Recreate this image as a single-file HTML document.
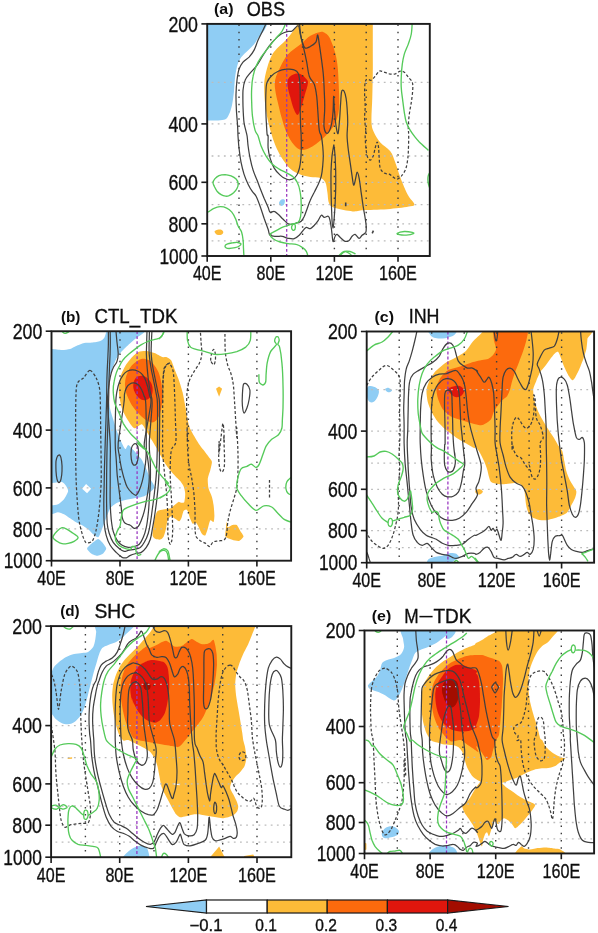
<!DOCTYPE html>
<html><head><meta charset="utf-8"><title>Figure</title>
<style>html,body{margin:0;padding:0;background:#fff}body{width:598px;height:933px;overflow:hidden;font-family:"Liberation Sans",sans-serif}</style></head>
<body>
<svg width="598" height="933" viewBox="0 0 598 933" style="display:block;font-family:'Liberation Sans',sans-serif;will-change:transform">
<rect width="598" height="933" fill="#fff"/>
<defs>
<clipPath id="cpa"><rect x="207.2" y="23.9" width="222.6" height="232.1"/></clipPath>
<clipPath id="cpb"><rect x="51.5" y="331.2" width="239.6" height="229.5"/></clipPath>
<clipPath id="cpc"><rect x="366.7" y="331.5" width="227.4" height="231.2"/></clipPath>
<clipPath id="cpd"><rect x="51.1" y="626.1" width="240.2" height="231.1"/></clipPath>
<clipPath id="cpe"><rect x="364.5" y="630.5" width="229.6" height="223.0"/></clipPath>
<filter id="soft" x="0" y="0" width="598" height="933" filterUnits="userSpaceOnUse"><feGaussianBlur stdDeviation="0.4"/></filter>
</defs>
<g filter="url(#soft)">
<g clip-path="url(#cpa)">
<path d="M200.0 19.5 C211.4 2.6 257.0 18.7 268.2 19.5 C279.4 20.3 267.9 22.6 267.2 24.5 C266.5 26.4 265.3 28.7 264.0 30.8 C262.6 32.9 260.6 34.7 258.9 37.0 C257.3 39.3 255.8 42.3 253.9 44.6 C252.0 46.9 249.7 48.8 247.7 50.8 C245.6 52.9 243.1 54.8 241.4 57.1 C239.7 59.4 238.7 61.3 237.6 64.6 C236.6 68.0 235.7 72.6 235.1 77.2 C234.5 81.8 234.4 87.6 233.9 92.2 C233.4 96.8 232.9 101.0 232.1 104.8 C231.3 108.5 230.2 112.3 228.8 114.8 C227.5 117.3 227.4 118.9 223.8 119.8 C220.3 120.8 211.5 120.4 207.5 120.6 C203.6 120.7 201.3 137.4 200.0 120.6 C198.7 103.7 188.6 36.3 200.0 19.5Z" fill="#8fcdf4"/>
<path d="M298.3 19.5 C291.2 20.6 298.4 22.2 297.3 24.5 C296.2 26.8 293.8 30.4 291.5 33.3 C289.3 36.2 286.5 39.4 284.0 42.1 C281.5 44.7 278.6 46.8 276.5 49.1 C274.4 51.4 272.9 53.1 271.5 55.9 C270.0 58.7 268.8 62.1 267.7 65.9 C266.6 69.7 265.3 74.5 264.7 78.4 C264.1 82.4 264.1 85.3 264.2 89.7 C264.3 94.1 264.6 99.8 265.2 104.8 C265.8 109.8 266.8 115.2 267.7 119.8 C268.7 124.4 269.7 128.2 271.0 132.4 C272.2 136.5 273.5 140.7 275.2 144.9 C277.0 149.1 279.0 153.5 281.5 157.4 C284.0 161.4 287.2 165.9 290.3 168.7 C293.4 171.6 297.0 173.1 300.3 174.5 C303.7 175.9 307.0 176.4 310.4 177.0 C313.7 177.6 317.9 177.1 320.4 178.0 C322.9 178.9 324.2 180.1 325.4 182.5 C326.6 184.9 326.8 189.0 327.4 192.6 C328.0 196.1 327.8 201.2 329.2 203.8 C330.5 206.4 331.5 206.9 335.4 208.1 C339.4 209.4 347.7 211.0 352.7 211.4 C357.7 211.7 359.0 210.5 365.2 210.1 C371.5 209.7 382.8 209.5 390.3 208.9 C397.9 208.2 406.4 207.2 410.4 206.3 C414.4 205.5 414.6 205.7 414.2 203.8 C413.7 202.0 410.2 199.5 407.9 195.1 C405.6 190.7 402.4 182.9 400.4 177.5 C398.3 172.1 397.0 166.8 395.3 162.5 C393.7 158.1 392.8 154.5 390.3 151.2 C387.8 147.8 383.0 145.5 380.3 142.4 C377.6 139.3 375.5 135.7 374.0 132.4 C372.6 129.0 371.8 128.2 371.5 122.3 C371.2 116.5 372.1 105.6 372.3 97.2 C372.5 88.9 372.7 79.7 372.8 72.2 C372.9 64.6 372.8 58.0 372.8 52.1 C372.8 46.2 372.8 41.2 372.8 37.0 C372.8 32.9 372.8 29.5 372.8 27.0 C372.8 24.5 372.8 23.3 372.8 22.0 C372.8 20.7 373.0 20.1 372.8 19.5 C372.6 18.9 376.9 18.7 371.5 18.5 C366.1 18.2 352.4 17.8 340.2 18.0 C328.0 18.2 305.5 18.4 298.3 19.5Z" fill="#fdbb38"/>
<path d="M320.4 32.0 C318.1 32.6 313.7 33.7 310.4 35.8 C307.0 37.9 304.1 41.4 300.3 44.6 C296.6 47.7 291.1 50.8 287.8 54.6 C284.4 58.4 282.4 63.0 280.3 67.1 C278.2 71.3 276.1 75.9 275.2 79.7 C274.4 83.4 274.8 86.0 275.2 89.7 C275.7 93.5 276.7 97.7 277.8 102.3 C278.8 106.9 280.1 112.3 281.5 117.3 C283.0 122.3 284.4 127.8 286.5 132.4 C288.6 137.0 291.5 142.0 294.1 144.9 C296.6 147.8 298.9 149.5 301.6 149.9 C304.3 150.3 307.6 148.7 310.4 147.4 C313.1 146.2 315.4 144.3 317.9 142.4 C320.4 140.5 322.9 138.6 325.4 136.1 C327.9 133.6 330.9 130.5 332.9 127.3 C334.9 124.2 336.4 121.1 337.4 117.3 C338.5 113.5 339.0 110.2 339.2 104.8 C339.4 99.3 339.0 91.4 338.7 84.7 C338.4 78.0 338.2 70.5 337.4 64.6 C336.7 58.8 335.6 54.2 334.2 49.6 C332.8 45.0 330.8 39.9 329.2 37.0 C327.5 34.2 325.6 33.4 324.2 32.5 C322.7 31.7 322.7 31.5 320.4 32.0Z" fill="#fc6a0c"/>
<path d="M287.8 79.7 C288.6 77.6 290.7 75.6 292.8 74.7 C294.9 73.7 298.0 73.2 300.3 73.9 C302.6 74.7 305.3 77.6 306.6 79.2 C307.9 80.8 308.1 80.9 307.9 83.4 C307.6 86.0 305.9 91.0 304.8 94.7 C303.8 98.5 302.8 102.7 301.6 106.0 C300.4 109.4 299.1 114.2 297.8 114.8 C296.6 115.4 295.3 112.7 294.1 109.8 C292.8 106.9 291.3 101.0 290.3 97.2 C289.2 93.5 288.2 90.1 287.8 87.2 C287.4 84.3 286.9 81.8 287.8 79.7Z" fill="#e01708"/>
<path d="M214.5 231.4 C214.6 230.6 216.4 230.0 217.6 229.7 C218.7 229.4 220.4 229.3 221.3 229.7 C222.3 230.1 223.3 231.3 223.3 232.2 C223.3 233.0 222.4 234.3 221.3 234.7 C220.3 235.1 218.2 235.2 217.1 234.7 C215.9 234.1 214.5 232.3 214.5 231.4Z" fill="#fdbb38"/>
<path d="M279.0 203.1 C279.1 202.0 280.6 200.1 281.5 199.6 C282.5 199.1 284.4 199.2 284.8 200.1 C285.2 200.9 284.7 203.6 284.0 204.6 C283.4 205.6 281.6 206.1 280.8 205.8 C279.9 205.6 278.9 204.1 279.0 203.1Z" fill="#8fcdf4"/>
<line x1="239.0" y1="24.6" x2="239.0" y2="256.0" stroke="#3c3c3c" stroke-width="1.4" stroke-dasharray="1.5 5.7"/>
<line x1="270.8" y1="24.6" x2="270.8" y2="256.0" stroke="#3c3c3c" stroke-width="1.4" stroke-dasharray="1.5 5.7"/>
<line x1="302.6" y1="24.6" x2="302.6" y2="256.0" stroke="#3c3c3c" stroke-width="1.4" stroke-dasharray="1.5 5.7"/>
<line x1="334.4" y1="24.6" x2="334.4" y2="256.0" stroke="#3c3c3c" stroke-width="1.4" stroke-dasharray="1.5 5.7"/>
<line x1="366.2" y1="24.6" x2="366.2" y2="256.0" stroke="#3c3c3c" stroke-width="1.4" stroke-dasharray="1.5 5.7"/>
<line x1="398.0" y1="24.6" x2="398.0" y2="256.0" stroke="#3c3c3c" stroke-width="1.4" stroke-dasharray="1.5 5.7"/>
<line x1="211.6" y1="82.4" x2="429.8" y2="82.4" stroke="#bcbcbc" stroke-width="1.3" stroke-dasharray="1.8 4.35"/>
<line x1="211.6" y1="123.9" x2="429.8" y2="123.9" stroke="#bcbcbc" stroke-width="1.3" stroke-dasharray="1.8 4.35"/>
<line x1="211.6" y1="156.0" x2="429.8" y2="156.0" stroke="#bcbcbc" stroke-width="1.3" stroke-dasharray="1.8 4.35"/>
<line x1="211.6" y1="182.3" x2="429.8" y2="182.3" stroke="#bcbcbc" stroke-width="1.3" stroke-dasharray="1.8 4.35"/>
<line x1="211.6" y1="204.6" x2="429.8" y2="204.6" stroke="#bcbcbc" stroke-width="1.3" stroke-dasharray="1.8 4.35"/>
<line x1="211.6" y1="223.8" x2="429.8" y2="223.8" stroke="#bcbcbc" stroke-width="1.3" stroke-dasharray="1.8 4.35"/>
<line x1="211.6" y1="240.8" x2="429.8" y2="240.8" stroke="#bcbcbc" stroke-width="1.3" stroke-dasharray="1.8 4.35"/>
<line x1="286.7" y1="23.9" x2="286.7" y2="256.0" stroke="#9632be" stroke-width="1.25" stroke-dasharray="2.9 2.1"/>
<path d="M267.1 21.0 C266.5 22.5 264.6 26.8 263.1 30.0 C261.6 33.2 259.6 36.7 258.1 40.1 C256.6 43.4 255.6 47.3 254.1 50.1 C252.6 52.9 250.9 55.1 249.1 57.1 C247.2 59.1 244.7 60.1 243.0 62.1 C241.4 64.1 240.0 66.2 239.0 69.2 C238.0 72.2 237.5 76.0 237.0 80.2 C236.5 84.4 236.1 89.2 236.0 94.2 C235.9 99.3 236.2 104.9 236.4 110.3 C236.7 115.7 237.4 122.1 237.6 126.4 C237.9 130.6 237.8 132.4 238.0 136.0 C238.3 139.6 238.5 143.7 239.0 148.0 C239.5 152.4 240.2 157.7 241.0 162.1 C241.9 166.4 242.9 170.5 244.0 174.1 C245.2 177.8 246.7 181.3 248.1 184.2 C249.4 187.0 250.7 189.2 252.1 191.2 C253.4 193.2 254.8 193.7 256.1 196.2 C257.4 198.7 258.8 202.6 260.1 206.2 C261.4 209.9 262.8 214.4 264.1 218.3 C265.5 222.1 267.1 226.5 268.1 229.3 C269.1 232.2 268.8 234.2 270.1 235.3 C271.5 236.5 274.2 236.2 276.2 236.3 C278.2 236.5 280.2 236.0 282.2 236.3 C284.2 236.7 286.2 237.9 288.2 238.3 C290.2 238.7 292.4 239.3 294.2 238.7 C296.1 238.2 297.7 236.7 299.2 235.3 C300.7 233.9 302.1 231.7 303.2 230.3 C304.4 229.0 305.1 227.6 306.3 227.3 C307.4 227.0 308.9 229.0 310.3 228.7 C311.6 228.4 312.9 226.7 314.3 225.3 C315.6 223.9 317.1 222.0 318.3 220.3 C319.5 218.6 320.3 215.8 321.3 215.3 C322.3 214.8 323.2 217.1 324.3 217.3 C325.5 217.4 327.4 215.8 328.3 216.3 C329.3 216.8 329.5 217.9 330.0 220.3 C330.6 222.6 331.1 226.8 331.6 230.3 C332.1 233.8 332.5 240.4 333.0 241.4 C333.6 242.4 334.4 237.5 335.1 236.3 C335.7 235.2 336.1 234.0 337.1 234.3 C338.1 234.7 339.7 237.2 341.1 238.3 C342.4 239.5 343.7 241.0 345.1 241.4 C346.4 241.7 347.9 241.2 349.1 240.4 C350.3 239.5 351.1 237.3 352.1 236.3 C353.1 235.3 353.9 234.0 355.1 234.3 C356.3 234.7 358.0 238.2 359.1 238.3 C360.3 238.5 361.0 236.3 362.1 235.3 C363.2 234.3 365.1 233.8 365.8 232.3 C366.4 230.8 366.3 228.6 366.2 226.3 C366.1 224.0 365.7 221.6 365.2 218.3 C364.7 214.9 363.8 210.6 363.1 206.2 C362.5 201.9 361.8 196.9 361.1 192.2 C360.5 187.5 359.8 181.5 359.1 178.1 C358.5 174.8 357.7 172.1 357.1 172.1 C356.6 172.1 356.3 176.0 355.7 178.1 C355.2 180.3 354.3 185.5 353.7 185.2 C353.1 184.8 352.7 180.0 352.1 176.1 C351.5 172.3 350.8 166.8 350.1 162.1 C349.4 157.4 348.6 152.4 348.1 148.0 C347.6 143.7 347.2 140.3 347.1 136.0 C347.0 131.7 347.7 127.0 347.7 122.3 C347.7 117.7 347.4 112.3 347.1 108.3 C346.8 104.3 346.6 101.1 346.1 98.3 C345.6 95.4 344.8 92.4 344.1 91.2 C343.3 90.1 342.2 89.4 341.7 91.2 C341.1 93.1 341.0 97.8 340.7 102.3 C340.3 106.8 340.1 113.1 339.7 118.3 C339.2 123.5 338.7 132.0 338.1 133.4 C337.5 134.7 336.7 130.2 336.1 126.4 C335.5 122.5 334.9 115.3 334.4 110.3 C334.0 105.3 333.9 95.9 333.6 96.3 C333.4 96.6 333.5 107.3 333.0 112.3 C332.6 117.3 332.0 122.8 331.0 126.4 C330.0 129.9 328.2 133.4 327.0 133.4 C325.9 133.4 324.4 130.5 324.0 126.4 C323.6 122.2 324.7 114.0 324.7 108.3 C324.8 102.6 324.6 97.9 324.3 92.2 C324.1 86.6 323.8 79.9 323.3 74.2 C322.8 68.5 322.0 63.1 321.3 58.1 C320.6 53.1 319.9 47.9 319.3 44.1 C318.7 40.2 318.3 35.4 317.7 35.0 C317.1 34.7 317.1 40.2 315.9 42.1 C314.7 44.0 312.0 45.5 310.3 46.5 C308.5 47.5 306.6 48.8 305.3 48.1 C303.9 47.4 303.0 44.4 302.2 42.1 C301.5 39.7 301.1 37.6 300.6 34.0 C300.1 30.5 299.5 23.2 299.2 21.0" fill="none" stroke="#414141" stroke-width="1.25" stroke-linejoin="round"/>
<path d="M298.2 25.6 C296.9 25.1 294.1 30.0 292.2 31.0 C290.4 32.0 289.0 31.1 287.2 31.6 C285.4 32.1 283.2 32.8 281.2 34.0 C279.2 35.3 277.2 37.1 275.2 39.1 C273.1 41.1 271.1 43.4 269.1 46.1 C267.1 48.8 265.1 51.9 263.1 55.1 C261.1 58.3 259.3 62.1 257.1 65.1 C254.9 68.2 252.1 70.7 250.1 73.2 C248.1 75.7 246.2 77.4 245.1 80.2 C243.9 83.0 243.4 85.9 243.0 90.2 C242.7 94.6 242.9 100.9 243.0 106.3 C243.2 111.6 243.4 117.4 244.0 122.3 C244.7 127.3 246.4 132.1 247.1 136.0 C247.7 139.9 247.6 142.4 248.1 146.0 C248.6 149.7 249.2 154.1 250.1 158.1 C250.9 162.1 251.9 166.4 253.1 170.1 C254.2 173.8 255.9 177.1 257.1 180.2 C258.3 183.2 258.9 185.2 260.1 188.2 C261.3 191.2 262.8 195.0 264.1 198.2 C265.5 201.4 267.1 204.9 268.1 207.2 C269.1 209.6 269.1 211.6 270.1 212.3 C271.1 212.9 272.8 210.9 274.2 211.3 C275.5 211.6 276.7 212.9 278.2 214.3 C279.7 215.6 281.5 217.7 283.2 219.3 C284.9 220.9 286.7 223.1 288.2 223.9 C289.7 224.7 290.7 224.5 292.2 224.3 C293.7 224.1 295.7 223.2 297.2 222.7 C298.7 222.2 300.1 222.4 301.2 221.3 C302.4 220.2 303.2 218.4 304.3 216.3 C305.3 214.1 306.3 210.9 307.3 208.2 C308.3 205.6 309.1 202.9 310.3 200.2 C311.4 197.5 312.9 194.9 314.3 192.2 C315.6 189.5 317.1 186.8 318.3 184.2 C319.5 181.5 320.6 179.1 321.3 176.1 C322.0 173.1 322.4 169.4 322.7 166.1 C323.0 162.8 323.3 159.4 323.3 156.1 C323.3 152.7 323.0 149.4 322.7 146.0 C322.4 142.7 321.9 138.6 321.3 136.0 C320.7 133.4 319.9 134.3 319.3 130.4 C318.7 126.4 318.3 118.0 317.9 112.3 C317.5 106.6 317.3 100.9 316.7 96.3 C316.1 91.6 315.5 87.6 314.3 84.2 C313.0 80.9 310.5 79.9 309.3 76.2 C308.0 72.5 307.7 67.2 306.7 62.1 C305.7 57.1 304.3 50.8 303.2 46.1 C302.2 41.4 301.1 37.5 300.2 34.0 C299.4 30.6 299.6 26.1 298.2 25.6Z" fill="none" stroke="#414141" stroke-width="1.25" stroke-linejoin="round"/>
<path d="M266.1 88.2 C266.4 84.9 266.3 84.2 267.1 82.2 C268.0 80.2 269.3 78.0 271.1 76.2 C273.0 74.3 275.7 72.3 278.2 71.2 C280.7 70.0 283.5 69.4 286.2 69.2 C288.9 68.9 292.2 69.1 294.2 69.8 C296.2 70.4 297.3 71.1 298.2 73.2 C299.2 75.2 299.5 78.7 299.8 82.2 C300.2 85.7 300.2 89.6 300.2 94.2 C300.3 98.9 300.2 104.9 300.2 110.3 C300.3 115.7 300.5 122.1 300.6 126.4 C300.8 130.6 301.1 131.7 301.2 136.0 C301.3 140.3 301.4 147.4 301.2 152.1 C301.1 156.7 300.7 160.8 300.2 164.1 C299.7 167.4 299.1 169.9 298.2 172.1 C297.4 174.3 296.6 175.9 295.2 177.1 C293.9 178.4 291.9 179.5 290.2 179.7 C288.5 180.0 286.9 179.3 285.2 178.5 C283.5 177.8 282.0 176.9 280.2 175.1 C278.3 173.4 275.8 171.0 274.2 168.1 C272.5 165.3 271.1 161.4 270.1 158.1 C269.1 154.7 268.5 151.7 268.1 148.0 C267.8 144.4 268.3 138.3 268.1 136.0 C268.0 133.7 267.5 137.3 267.1 134.4 C266.8 131.4 266.4 123.7 266.1 118.3 C265.9 113.0 265.7 107.3 265.7 102.3 C265.7 97.3 265.9 91.6 266.1 88.2Z" fill="none" stroke="#414141" stroke-width="1.25" stroke-linejoin="round"/>
<path d="M333.6 146.0 C333.3 147.7 332.5 151.7 332.0 156.1 C331.6 160.4 331.2 166.8 331.0 172.1 C330.9 177.5 331.0 182.8 331.0 188.2 C331.1 193.5 331.3 198.9 331.4 204.2 C331.6 209.6 331.8 216.3 332.0 220.3 C332.3 224.3 332.7 228.3 333.0 228.3 C333.4 228.3 333.7 224.3 334.0 220.3 C334.4 216.3 334.8 209.6 335.1 204.2 C335.3 198.9 335.6 193.5 335.7 188.2 C335.8 182.8 335.8 177.5 335.7 172.1 C335.6 166.8 335.3 160.4 335.1 156.1 C334.8 151.7 334.3 147.7 334.0 146.0 C333.8 144.4 334.0 144.4 333.6 146.0Z" fill="none" stroke="#414141" stroke-width="1.25" stroke-linejoin="round"/>
<path d="M365.8 130.4 C365.7 127.4 364.7 122.3 364.6 118.3 C364.5 114.3 365.2 110.3 365.2 106.3 C365.2 102.3 364.6 98.3 364.6 94.2 C364.6 90.2 364.7 84.7 365.2 82.2 C365.6 79.7 366.2 79.5 367.2 79.2 C368.2 78.9 369.8 80.7 371.2 80.2 C372.5 79.7 373.8 77.7 375.2 76.2 C376.5 74.7 377.9 71.9 379.2 71.2 C380.5 70.4 381.5 71.3 383.2 71.8 C384.9 72.2 387.2 73.4 389.2 73.8 C391.2 74.1 393.4 74.2 395.3 73.8 C397.1 73.3 398.8 71.4 400.3 71.2 C401.8 70.9 402.9 71.2 404.3 72.2 C405.6 73.2 407.0 75.5 408.3 77.2 C409.6 78.9 411.6 80.0 412.3 82.2 C413.0 84.4 412.9 86.9 412.7 90.2 C412.5 93.6 411.9 98.3 411.3 102.3 C410.7 106.3 409.8 110.3 409.3 114.3 C408.8 118.3 408.4 122.7 408.3 126.4 C408.2 130.0 408.7 131.7 408.7 136.0 C408.7 140.3 408.5 147.7 408.3 152.1 C408.1 156.4 407.8 159.1 407.3 162.1 C406.8 165.1 406.3 167.8 405.3 170.1 C404.3 172.5 402.6 174.6 401.3 176.1 C399.9 177.6 398.6 179.0 397.3 179.1 C395.9 179.3 394.6 178.0 393.2 177.1 C391.9 176.3 390.7 174.8 389.2 174.1 C387.7 173.5 385.7 174.1 384.2 173.1 C382.7 172.1 381.0 170.6 380.2 168.1 C379.4 165.6 379.5 161.4 379.2 158.1 C378.9 154.7 378.9 150.7 378.6 148.0 C378.3 145.4 377.8 142.0 377.2 142.0 C376.6 142.0 375.9 145.7 375.2 148.0 C374.5 150.4 374.0 154.1 373.2 156.1 C372.3 158.1 371.2 160.1 370.2 160.1 C369.2 160.1 367.9 158.4 367.2 156.1 C366.4 153.7 366.1 149.4 365.8 146.0 C365.4 142.7 365.2 138.6 365.2 136.0 C365.2 133.4 365.9 133.3 365.8 130.4Z" fill="none" stroke="#414141" stroke-width="1.25" stroke-dasharray="2.9 2.0" stroke-linejoin="round"/>
<path d="M345.7 202.6 L345.7 206.2" fill="none" stroke="#414141" stroke-width="1.60" stroke-linejoin="round"/>
<path d="M372.2 233.3 L373.4 230.7" fill="none" stroke="#414141" stroke-width="1.60" stroke-linejoin="round"/>
<path d="M286.6 21.0 C285.9 22.7 284.1 28.0 282.2 31.0 C280.3 34.0 277.5 36.2 275.2 39.1 C272.8 41.9 270.5 45.1 268.1 48.1 C265.8 51.1 263.1 54.1 261.1 57.1 C259.1 60.1 257.4 63.0 256.1 66.2 C254.8 69.3 253.8 72.5 253.1 76.2 C252.3 79.9 251.9 83.9 251.7 88.2 C251.4 92.6 251.5 97.6 251.7 102.3 C251.8 107.0 251.9 111.6 252.5 116.3 C253.0 121.0 254.1 127.1 255.1 130.4 C256.0 133.6 257.1 133.4 258.1 136.0 C259.1 138.6 259.8 142.7 261.1 146.0 C262.4 149.4 264.3 153.1 266.1 156.1 C268.0 159.1 270.0 161.9 272.1 164.1 C274.3 166.3 277.0 167.8 279.2 169.1 C281.3 170.5 283.0 171.0 285.2 172.1 C287.4 173.3 290.2 174.5 292.2 176.1 C294.2 177.8 295.9 179.5 297.2 182.2 C298.6 184.8 299.6 188.5 300.2 192.2 C300.9 195.9 301.2 200.2 301.2 204.2 C301.3 208.2 301.1 213.3 300.6 216.3 C300.1 219.3 299.2 221.1 298.2 222.3 C297.2 223.5 295.6 223.0 294.6 223.5 C293.6 224.0 292.7 224.4 292.2 225.3 C291.7 226.2 291.5 227.9 291.8 228.7 C292.1 229.6 293.2 230.6 293.8 230.3 C294.4 230.1 295.4 228.4 295.4 227.3 C295.4 226.2 295.0 224.0 293.8 223.7 C292.6 223.4 290.1 224.7 288.2 225.3 C286.3 225.9 284.2 226.4 282.2 227.3 C280.2 228.2 278.2 229.6 276.2 230.7 C274.2 231.9 270.6 233.0 270.1 234.3 C269.6 235.7 271.5 237.5 273.1 238.7 C274.8 240.0 277.7 241.2 280.2 242.0 C282.7 242.8 285.5 243.2 288.2 243.6 C290.9 244.0 293.9 243.7 296.2 244.4 C298.6 245.0 300.6 246.2 302.2 247.4 C303.9 248.5 305.3 249.7 306.3 251.4 C307.3 253.1 307.9 256.4 308.3 257.4" fill="none" stroke="#55ca5a" stroke-width="1.35" stroke-linejoin="round"/>
<path d="M213.0 182.6 C213.1 181.3 214.0 179.8 215.0 178.6 C216.0 177.5 217.4 176.3 219.0 175.6 C220.7 174.9 223.1 174.6 225.1 174.6 C227.1 174.7 229.2 175.2 231.1 175.9 C232.9 176.7 234.9 177.9 236.1 179.1 C237.3 180.3 237.9 181.6 238.1 183.1 C238.3 184.6 237.9 186.6 237.1 188.2 C236.4 189.7 234.9 191.4 233.6 192.7 C232.3 193.9 230.4 195.1 229.1 195.7 C227.7 196.3 226.9 196.4 225.6 196.2 C224.2 196.0 222.5 195.5 221.1 194.7 C219.6 193.8 218.1 192.5 217.0 191.2 C216.0 189.8 215.2 188.1 214.5 186.7 C213.9 185.2 212.9 184.0 213.0 182.6Z" fill="none" stroke="#55ca5a" stroke-width="1.35" stroke-linejoin="round"/>
<path d="M205.8 213.1 C206.4 212.8 207.9 212.1 209.2 211.4 C210.4 210.7 211.5 209.5 213.4 208.7 C215.2 207.9 217.8 206.8 220.1 206.7 C222.3 206.6 224.8 207.2 226.7 208.1 C228.7 209.0 230.3 210.3 231.8 212.1 C233.2 213.8 234.4 216.1 235.4 218.4 C236.5 220.7 237.1 223.7 238.1 226.0 C239.1 228.2 240.6 229.4 241.5 231.8 C242.3 234.2 242.8 237.4 243.1 240.2 C243.5 243.0 243.3 245.7 243.5 248.5 C243.6 251.3 243.9 255.5 244.0 256.9" fill="none" stroke="#55ca5a" stroke-width="1.35" stroke-linejoin="round"/>
<path d="M225.1 245.5 C225.3 244.9 226.3 244.3 227.6 243.8 C228.8 243.4 230.9 243.1 232.6 242.8 C234.3 242.6 236.2 242.3 237.6 242.5 C239.0 242.7 240.7 243.3 241.0 243.8 C241.2 244.4 240.3 245.4 239.3 246.0 C238.3 246.7 236.8 247.3 235.1 247.7 C233.4 248.1 230.8 248.5 229.2 248.5 C227.7 248.5 226.6 248.2 225.9 247.7 C225.2 247.2 224.8 246.2 225.1 245.5Z" fill="none" stroke="#55ca5a" stroke-width="1.35" stroke-linejoin="round"/>
<path d="M412.3 21.0 C412.1 23.2 412.0 30.2 411.3 34.0 C410.6 37.9 409.5 40.7 408.3 44.1 C407.1 47.4 405.3 50.8 404.3 54.1 C403.3 57.5 402.8 60.5 402.3 64.1 C401.8 67.8 401.4 72.2 401.3 76.2 C401.1 80.2 401.0 84.2 401.3 88.2 C401.5 92.2 402.2 96.3 402.7 100.3 C403.2 104.3 403.7 108.6 404.3 112.3 C404.9 116.0 405.3 119.3 406.3 122.3 C407.3 125.4 408.8 127.9 410.3 130.4 C411.8 132.9 413.8 135.5 415.3 137.4 C416.8 139.3 417.2 139.8 419.3 142.0 C421.5 144.2 426.9 149.0 428.4 150.4" fill="none" stroke="#55ca5a" stroke-width="1.35" stroke-linejoin="round"/>
<path d="M397.3 233.3 C398.1 232.8 401.8 231.7 404.3 231.5 C406.8 231.4 410.8 232.0 412.3 232.3 C413.8 232.7 414.3 233.3 413.3 233.7 C412.3 234.2 408.6 235.0 406.3 235.1 C404.0 235.3 400.8 235.0 399.3 234.7 C397.8 234.4 396.4 233.9 397.3 233.3Z" fill="none" stroke="#55ca5a" stroke-width="1.30" stroke-linejoin="round"/>
<path d="M431.4 170.1 C430.9 171.0 428.9 173.3 428.4 175.1 C427.8 177.0 427.8 179.1 428.0 181.2 C428.1 183.2 428.7 185.5 429.4 187.2 C430.0 188.8 431.5 190.5 432.0 191.2" fill="none" stroke="#55ca5a" stroke-width="1.35" stroke-linejoin="round"/>
<path d="M340.1 255.4 C340.9 254.8 343.4 251.8 345.1 251.6 C346.8 251.4 348.9 253.2 350.1 254.0 C351.3 254.8 351.8 256.0 352.1 256.4" fill="none" stroke="#55ca5a" stroke-width="1.35" stroke-linejoin="round"/>
<path d="M339.2 255.3 C340.0 254.6 342.4 252.1 344.2 251.5 C346.0 250.9 348.1 251.1 350.0 251.5 C351.9 251.9 354.6 253.6 355.5 254.0" fill="none" stroke="#55ca5a" stroke-width="1.35" stroke-linejoin="round"/>
</g>
<rect x="207.20" y="23.90" width="222.60" height="232.10" fill="none" stroke="#1a1a1a" stroke-width="1.9"/>
<line x1="201.4" y1="23.9" x2="207.2" y2="23.9" stroke="#1a1a1a" stroke-width="1.6"/>
<text x="168.4" y="31.6" font-size="21.5" textLength="29.6" lengthAdjust="spacingAndGlyphs" fill="#111" stroke="#111" stroke-width="0.35">200</text>
<line x1="201.4" y1="123.9" x2="207.2" y2="123.9" stroke="#1a1a1a" stroke-width="1.6"/>
<text x="168.4" y="131.6" font-size="21.5" textLength="29.6" lengthAdjust="spacingAndGlyphs" fill="#111" stroke="#111" stroke-width="0.35">400</text>
<line x1="201.4" y1="182.3" x2="207.2" y2="182.3" stroke="#1a1a1a" stroke-width="1.6"/>
<text x="168.4" y="190.0" font-size="21.5" textLength="29.6" lengthAdjust="spacingAndGlyphs" fill="#111" stroke="#111" stroke-width="0.35">600</text>
<line x1="201.4" y1="223.8" x2="207.2" y2="223.8" stroke="#1a1a1a" stroke-width="1.6"/>
<text x="168.4" y="231.5" font-size="21.5" textLength="29.6" lengthAdjust="spacingAndGlyphs" fill="#111" stroke="#111" stroke-width="0.35">800</text>
<line x1="201.4" y1="256.0" x2="207.2" y2="256.0" stroke="#1a1a1a" stroke-width="1.6"/>
<text x="159.4" y="263.7" font-size="21.5" textLength="38.6" lengthAdjust="spacingAndGlyphs" fill="#111" stroke="#111" stroke-width="0.35">1000</text>
<line x1="207.2" y1="256.0" x2="207.2" y2="261.8" stroke="#1a1a1a" stroke-width="1.6"/>
<text x="192.9" y="280.3" font-size="20.4" textLength="28.6" lengthAdjust="spacingAndGlyphs" fill="#111" stroke="#111" stroke-width="0.35">40E</text>
<line x1="270.8" y1="256.0" x2="270.8" y2="261.8" stroke="#1a1a1a" stroke-width="1.6"/>
<text x="256.5" y="280.3" font-size="20.4" textLength="28.6" lengthAdjust="spacingAndGlyphs" fill="#111" stroke="#111" stroke-width="0.35">80E</text>
<line x1="334.4" y1="256.0" x2="334.4" y2="261.8" stroke="#1a1a1a" stroke-width="1.6"/>
<text x="315.5" y="280.3" font-size="20.4" textLength="37.8" lengthAdjust="spacingAndGlyphs" fill="#111" stroke="#111" stroke-width="0.35">120E</text>
<line x1="398.0" y1="256.0" x2="398.0" y2="261.8" stroke="#1a1a1a" stroke-width="1.6"/>
<text x="379.1" y="280.3" font-size="20.4" textLength="37.8" lengthAdjust="spacingAndGlyphs" fill="#111" stroke="#111" stroke-width="0.35">160E</text>
<text x="214.0" y="13.8" font-size="14.5" font-weight="bold" textLength="19.5" lengthAdjust="spacingAndGlyphs" fill="#111">(a)</text>
<text x="246.7" y="15.7" font-size="19.5" textLength="38.3" lengthAdjust="spacingAndGlyphs" fill="#111" stroke="#111" stroke-width="0.35">OBS</text>
<g clip-path="url(#cpb)">
<path d="M48.0 349.1 C48.5 333.4 50.4 349.0 52.0 349.1 C53.6 349.2 59.9 350.1 62.0 350.1 C64.1 350.1 68.4 349.5 70.1 349.1 C71.7 348.6 74.4 346.8 76.1 346.1 C77.7 345.4 82.2 343.4 84.1 343.0 C86.0 342.6 90.3 342.9 92.1 342.6 C94.0 342.4 98.8 341.6 100.2 341.0 C101.6 340.5 103.5 339.1 104.2 338.0 C104.9 337.0 105.9 333.3 106.2 332.0 C106.5 330.7 102.0 327.6 106.6 327.0 C111.2 326.4 141.4 326.5 145.9 327.0 C150.4 327.5 146.4 330.1 145.3 331.4 C144.2 332.7 138.3 336.4 136.3 338.0 C134.3 339.6 130.0 343.4 128.3 345.1 C126.5 346.7 122.6 350.4 121.2 352.1 C119.8 353.7 117.3 357.1 116.2 359.1 C115.2 361.1 113.0 366.8 112.2 369.1 C111.4 371.5 109.7 376.8 109.2 379.2 C108.7 381.5 108.2 386.9 108.2 389.2 C108.2 391.5 108.6 396.9 108.8 399.2 C109.0 401.6 109.7 406.9 110.2 409.3 C110.7 411.6 112.5 417.0 113.2 419.3 C113.9 421.6 115.4 427.0 116.2 429.3 C117.0 431.7 119.2 437.1 120.2 439.4 C121.3 441.7 124.3 448.4 125.3 449.0 C126.2 449.7 127.2 444.8 128.3 445.0 C129.3 445.2 132.8 449.4 134.3 451.0 C135.8 452.7 139.9 456.9 141.3 459.1 C142.7 461.2 145.3 466.7 146.3 469.1 C147.4 471.4 149.4 477.1 150.3 479.1 C151.3 481.1 154.1 484.9 154.4 486.1 C154.6 487.4 153.5 489.0 152.3 490.2 C151.2 491.3 146.4 495.2 144.3 496.2 C142.2 497.1 136.6 497.7 134.3 498.2 C131.9 498.7 126.4 499.6 124.3 500.2 C122.1 500.8 117.9 502.3 116.2 503.2 C114.6 504.1 111.3 506.8 110.2 508.2 C109.2 509.6 107.9 513.5 107.2 515.2 C106.5 517.0 104.9 521.4 104.2 523.3 C103.5 525.1 101.9 529.7 101.2 531.3 C100.5 532.9 99.1 537.0 98.2 537.3 C97.2 537.7 94.3 535.2 93.1 534.3 C92.0 533.4 89.4 530.3 88.1 529.3 C86.8 528.2 83.5 526.1 82.1 525.3 C80.7 524.5 77.5 523.1 76.1 522.3 C74.7 521.5 71.5 519.2 70.1 518.3 C68.7 517.3 65.5 514.9 64.0 514.2 C62.6 513.5 59.4 512.2 58.0 512.2 C56.6 512.2 53.2 514.0 52.0 514.2 C50.8 514.5 48.5 515.3 48.0 514.2 C47.5 513.2 47.5 506.3 48.0 505.2 C48.5 504.2 50.8 505.3 52.0 505.2 C53.2 505.1 56.6 504.9 58.0 504.2 C59.4 503.5 62.9 500.7 64.0 499.2 C65.2 497.7 67.8 492.7 68.1 491.2 C68.3 489.6 66.8 487.2 66.1 486.1 C65.4 485.1 63.7 482.5 62.0 482.1 C60.4 481.8 53.6 483.0 52.0 483.1 C50.4 483.3 48.5 498.8 48.0 483.1 C47.5 467.5 47.5 364.7 48.0 349.1Z" fill="#8fcdf4"/>
<path d="M86.1 484.1 L91.1 488.8 L87.1 493.2 L82.1 488.8Z" fill="#ffffff"/>
<path d="M87.1 548.4 C87.3 547.3 92.0 543.3 93.1 542.3 C94.3 541.4 97.3 538.9 98.2 538.9 C99.1 538.9 101.4 541.4 102.2 542.3 C103.0 543.3 106.1 547.3 106.2 548.4 C106.3 549.5 104.1 552.6 103.2 553.4 C102.3 554.1 98.4 555.8 97.2 555.8 C96.0 555.8 92.1 554.1 91.1 553.4 C90.1 552.6 86.9 549.5 87.1 548.4Z" fill="#8fcdf4"/>
<path d="M138.3 352.1 C140.1 351.3 144.5 351.0 146.3 351.1 C148.2 351.2 152.5 352.4 154.4 353.1 C156.2 353.8 160.9 356.6 162.4 357.1 C163.8 357.6 165.7 356.8 166.8 357.2 C167.8 357.6 170.4 359.2 171.3 360.6 C172.2 362.1 173.8 367.3 174.7 369.6 C175.6 372.0 178.3 378.3 179.2 380.9 C180.1 383.6 181.9 389.6 182.6 392.2 C183.2 394.8 184.3 400.6 184.8 403.5 C185.4 406.4 186.6 414.3 187.1 417.0 C187.6 419.7 188.6 424.6 189.4 426.7 C190.1 428.8 192.5 433.1 193.5 435.1 C194.6 437.0 197.4 441.7 198.6 443.4 C199.7 445.2 202.4 448.5 203.6 450.1 C204.7 451.7 207.6 455.4 208.6 456.8 C209.6 458.2 211.7 460.2 211.9 461.8 C212.1 463.4 210.8 468.2 210.3 470.2 C209.8 472.1 208.0 476.4 207.8 478.5 C207.6 480.7 208.1 486.4 208.6 488.6 C209.1 490.7 211.4 495.0 211.9 496.9 C212.5 498.9 213.3 503.1 213.6 505.3 C213.9 507.4 214.4 513.4 214.4 515.3 C214.4 517.3 214.1 521.4 213.6 522.0 C213.1 522.6 211.0 519.6 210.3 520.3 C209.6 521.1 208.3 526.9 207.8 528.7 C207.2 530.5 205.9 534.8 205.3 535.4 C204.6 536.0 202.7 534.7 201.9 533.7 C201.1 532.7 199.2 528.3 198.6 527.0 C197.9 525.8 196.7 523.2 196.1 522.8 C195.4 522.5 193.4 524.2 192.7 523.7 C192.0 523.2 190.8 520.1 190.2 518.7 C189.6 517.2 188.2 512.2 187.7 511.1 C187.2 510.1 186.5 509.5 186.0 509.5 C185.5 509.5 184.0 510.3 183.5 511.1 C183.0 512.0 182.3 515.8 181.8 517.0 C181.4 518.2 180.1 521.0 179.3 521.2 C178.6 521.4 176.1 519.2 175.2 518.7 C174.2 518.1 171.8 516.0 171.0 516.2 C170.1 516.3 168.2 518.9 167.6 520.3 C167.0 521.8 166.4 526.7 166.0 528.7 C165.5 530.6 164.1 535.8 163.4 537.1 C162.8 538.3 161.1 539.4 160.1 539.6 C159.1 539.8 156.0 539.2 155.1 538.7 C154.2 538.2 152.8 536.8 152.6 535.4 C152.4 534.0 153.1 529.2 153.4 527.0 C153.7 524.9 154.6 518.8 155.1 517.0 C155.6 515.1 156.6 512.0 157.6 511.1 C158.6 510.3 162.0 509.8 163.4 509.5 C164.9 509.2 168.9 509.1 170.1 508.6 C171.4 508.1 173.3 506.1 174.3 505.3 C175.3 504.5 177.7 502.2 178.5 501.9 C179.3 501.6 180.3 502.8 181.0 502.8 C181.7 502.8 183.9 503.0 184.3 501.9 C184.8 500.9 185.3 495.4 185.2 493.6 C185.1 491.7 184.1 487.5 183.5 486.1 C182.9 484.6 181.1 482.2 180.2 481.0 C179.2 479.9 176.3 477.3 175.2 476.0 C174.0 474.8 171.3 471.6 170.1 470.2 C169.0 468.7 166.2 465.1 165.1 463.5 C164.0 461.8 161.9 457.7 160.9 456.0 C160.0 454.2 157.8 450.3 156.8 448.4 C155.7 446.6 152.9 442.0 151.7 440.1 C150.6 438.1 147.9 433.6 146.7 431.7 C145.6 429.9 143.2 424.6 141.7 424.2 C140.3 423.8 136.0 428.9 134.3 428.3 C132.6 427.8 128.7 421.5 127.3 419.3 C125.9 417.1 123.1 411.7 122.2 409.3 C121.4 406.8 120.0 400.8 119.6 398.2 C119.2 395.7 118.7 389.8 118.8 387.2 C119.0 384.6 119.9 378.6 120.6 376.2 C121.4 373.7 124.0 368.2 125.3 366.1 C126.5 364.0 129.8 359.7 131.3 358.1 C132.8 356.5 136.5 352.9 138.3 352.1Z" fill="#fdbb38"/>
<path d="M141.3 359.1 C143.8 358.4 146.3 359.3 148.3 360.1 C150.3 360.9 151.7 362.1 153.4 364.1 C155.0 366.1 157.0 369.0 158.4 372.1 C159.7 375.3 160.7 379.3 161.4 383.2 C162.0 387.0 162.4 391.2 162.4 395.2 C162.4 399.2 162.0 403.6 161.4 407.3 C160.7 410.9 159.7 414.8 158.4 417.3 C157.0 419.8 155.4 421.8 153.4 422.3 C151.3 422.8 148.7 421.6 146.3 420.3 C144.0 419.0 141.5 416.5 139.3 414.3 C137.1 412.1 135.1 409.9 133.3 407.3 C131.4 404.6 129.6 401.2 128.3 398.2 C126.9 395.2 125.8 392.2 125.3 389.2 C124.8 386.2 124.8 383.2 125.3 380.2 C125.8 377.2 126.9 373.8 128.3 371.1 C129.6 368.5 131.1 366.1 133.3 364.1 C135.5 362.1 138.8 359.8 141.3 359.1Z" fill="#fc6a0c"/>
<path d="M138.3 376.2 C140.0 375.5 142.5 375.5 144.3 376.2 C146.2 376.8 148.0 378.5 149.3 380.2 C150.7 381.8 151.8 384.0 152.3 386.2 C152.8 388.4 152.8 391.2 152.3 393.2 C151.8 395.2 150.7 397.1 149.3 398.2 C148.0 399.4 146.0 400.2 144.3 400.2 C142.6 400.2 140.8 399.4 139.3 398.2 C137.8 397.1 136.3 395.1 135.3 393.2 C134.3 391.4 133.5 389.4 133.3 387.2 C133.1 385.0 133.5 382.0 134.3 380.2 C135.1 378.3 136.6 376.8 138.3 376.2Z" fill="#e01708"/>
<path d="M216.0 388.8 L219.1 386.6 L222.1 388.8 L219.1 396.7Z" fill="#fdbb38"/>
<path d="M226.6 521.7 C226.8 521.6 227.2 527.0 227.7 527.3 C228.3 527.7 231.3 525.3 232.2 525.1 C233.1 524.8 236.0 524.5 236.8 525.1 C237.5 525.6 239.5 529.6 240.1 530.7 C240.8 531.8 243.6 535.3 243.5 536.4 C243.4 537.4 240.1 540.5 239.0 540.9 C237.9 541.2 233.6 540.2 232.2 539.7 C230.9 539.3 226.1 537.5 225.5 536.4 C224.8 535.2 225.8 529.9 225.9 528.5 C226.0 527.0 226.4 521.8 226.6 521.7Z" fill="#fdbb38"/>
<line x1="120.0" y1="332.0" x2="120.0" y2="560.7" stroke="#3c3c3c" stroke-width="1.4" stroke-dasharray="1.5 5.7"/>
<line x1="188.4" y1="332.0" x2="188.4" y2="560.7" stroke="#3c3c3c" stroke-width="1.4" stroke-dasharray="1.5 5.7"/>
<line x1="256.9" y1="332.0" x2="256.9" y2="560.7" stroke="#3c3c3c" stroke-width="1.4" stroke-dasharray="1.5 5.7"/>
<line x1="55.9" y1="430.1" x2="291.1" y2="430.1" stroke="#bcbcbc" stroke-width="1.3" stroke-dasharray="1.8 4.35"/>
<line x1="55.9" y1="487.9" x2="291.1" y2="487.9" stroke="#bcbcbc" stroke-width="1.3" stroke-dasharray="1.8 4.35"/>
<line x1="55.9" y1="528.9" x2="291.1" y2="528.9" stroke="#bcbcbc" stroke-width="1.3" stroke-dasharray="1.8 4.35"/>
<line x1="137.1" y1="331.2" x2="137.1" y2="560.7" stroke="#9632be" stroke-width="1.25" stroke-dasharray="2.9 2.1"/>
<path d="M108.3 327.7 C108.3 330.0 108.5 337.2 108.4 341.5 C108.4 345.9 108.2 349.9 108.0 354.1 C107.9 358.3 107.6 362.4 107.4 366.6 C107.2 370.8 107.0 375.0 106.9 379.2 C106.8 383.4 106.7 387.6 106.7 391.7 C106.6 395.9 106.8 395.5 106.5 404.0 C106.3 412.6 105.5 433.2 105.2 443.0 C104.9 452.8 104.8 456.4 104.6 463.1 C104.4 469.8 104.3 476.4 104.2 483.1 C104.1 489.8 103.8 496.5 103.8 503.2 C103.8 509.9 103.8 517.9 104.2 523.3 C104.6 528.6 105.2 531.6 106.2 535.3 C107.2 539.0 108.5 542.5 110.2 545.3 C111.9 548.2 114.2 550.4 116.2 552.4 C118.2 554.4 120.6 556.5 122.2 557.4 C123.9 558.3 124.9 558.1 126.3 557.8 C127.6 557.5 128.6 556.1 130.3 555.4 C131.9 554.6 134.5 553.9 136.3 553.4 C138.1 552.9 139.6 553.4 141.3 552.4 C143.0 551.4 144.8 549.5 146.3 547.4 C147.8 545.2 149.3 542.3 150.3 539.3 C151.3 536.3 151.7 533.0 152.3 529.3 C153.0 525.6 153.7 521.6 154.4 517.3 C155.0 512.9 155.7 508.9 156.4 503.2 C157.0 497.5 157.9 489.8 158.4 483.1 C158.9 476.4 159.2 469.8 159.4 463.1 C159.5 456.4 159.3 452.8 159.4 443.0 C159.4 433.2 159.9 412.6 159.6 404.0 C159.3 395.5 158.4 395.9 157.7 391.7 C157.0 387.6 156.0 383.4 155.2 379.2 C154.4 375.0 153.4 370.8 152.7 366.6 C152.0 362.4 151.4 358.3 151.2 354.1 C151.0 349.9 151.3 345.9 151.4 341.5 C151.6 337.2 152.0 330.0 152.1 327.7" fill="none" stroke="#414141" stroke-width="1.25" stroke-linejoin="round"/>
<path d="M110.1 327.7 C110.1 330.0 110.3 337.2 110.3 341.5 C110.3 345.9 110.2 349.9 110.1 354.1 C109.9 358.3 109.7 362.4 109.5 366.6 C109.4 370.8 109.2 375.0 109.0 379.2 C108.9 383.4 108.9 387.6 108.8 391.7 C108.7 395.9 108.8 395.5 108.5 404.0 C108.3 412.6 107.5 433.2 107.2 443.0 C106.9 452.8 106.9 456.4 106.8 463.1 C106.7 469.8 106.6 476.4 106.6 483.1 C106.6 489.8 106.5 496.5 106.6 503.2 C106.7 509.9 106.8 518.3 107.2 523.3 C107.6 528.3 108.2 530.1 109.2 533.3 C110.2 536.5 111.5 539.8 113.2 542.3 C114.9 544.8 117.4 546.9 119.2 548.4 C121.1 549.9 122.7 551.0 124.3 551.4 C125.8 551.7 126.6 550.7 128.3 550.4 C129.9 550.0 132.3 549.9 134.3 549.4 C136.3 548.9 138.6 548.5 140.3 547.4 C142.0 546.2 143.0 544.7 144.3 542.3 C145.7 540.0 147.3 536.5 148.3 533.3 C149.3 530.1 149.7 527.3 150.3 523.3 C151.0 519.3 151.7 514.2 152.3 509.2 C153.0 504.2 153.7 499.2 154.4 493.2 C155.0 487.2 155.9 481.5 156.4 473.1 C156.9 464.7 157.2 454.5 157.4 443.0 C157.5 431.5 157.7 412.6 157.5 404.0 C157.2 395.5 156.5 395.9 155.8 391.7 C155.1 387.6 154.2 383.4 153.3 379.2 C152.5 375.0 151.5 370.8 150.8 366.6 C150.1 362.4 149.5 358.3 149.2 354.1 C148.9 349.9 149.1 345.9 149.2 341.5 C149.2 337.2 149.5 330.0 149.6 327.7" fill="none" stroke="#414141" stroke-width="1.25" stroke-linejoin="round"/>
<path d="M115.7 327.7 C115.9 330.0 116.5 337.2 116.9 341.5 C117.4 345.9 118.2 350.7 118.2 354.1 C118.2 357.4 117.7 359.5 116.9 361.6 C116.2 363.7 114.8 364.7 113.8 366.6 C112.9 368.5 112.0 370.4 111.3 372.9 C110.6 375.4 109.9 378.5 109.4 381.7 C108.9 384.8 108.5 388.0 108.2 391.7 C107.9 395.4 107.2 395.5 107.5 404.0 C107.9 412.6 109.8 433.2 110.2 443.0 C110.6 452.8 110.2 456.4 110.2 463.1 C110.2 469.8 110.2 476.4 110.2 483.1 C110.2 489.8 110.0 497.2 110.2 503.2 C110.4 509.2 110.7 514.6 111.2 519.3 C111.7 523.9 112.2 527.8 113.2 531.3 C114.2 534.8 115.7 538.0 117.2 540.3 C118.7 542.7 120.4 544.2 122.2 545.3 C124.1 546.5 126.3 547.2 128.3 547.4 C130.3 547.5 132.4 546.9 134.3 546.4 C136.1 545.8 137.8 545.8 139.3 544.3 C140.8 542.8 142.1 540.2 143.3 537.3 C144.5 534.5 145.5 531.3 146.3 527.3 C147.2 523.3 147.8 517.9 148.3 513.2 C148.8 508.6 149.0 504.2 149.3 499.2 C149.7 494.2 150.2 489.2 150.3 483.1 C150.5 477.1 150.5 469.8 150.3 463.1 C150.2 456.4 149.1 452.8 149.3 443.0 C149.6 433.2 151.9 412.6 152.1 404.0 C152.2 395.5 150.8 395.9 150.2 391.7 C149.6 387.6 148.8 383.4 148.3 379.2 C147.8 375.0 147.4 370.8 147.1 366.6 C146.7 362.4 146.5 358.3 146.4 354.1 C146.4 349.9 146.6 345.9 146.7 341.5 C146.8 337.2 147.0 330.0 147.1 327.7" fill="none" stroke="#414141" stroke-width="1.25" stroke-linejoin="round"/>
<path d="M150.8 404.0 C151.7 396.1 150.1 398.4 149.6 395.5 C149.0 392.6 148.4 389.4 147.7 386.7 C146.9 384.0 146.1 381.3 145.2 379.2 C144.2 377.1 143.3 375.5 142.0 374.2 C140.8 372.8 139.2 371.7 137.6 371.0 C136.1 370.3 134.3 369.8 132.6 369.8 C131.0 369.8 129.2 370.2 127.6 371.0 C126.0 371.9 124.6 373.0 123.2 374.8 C121.9 376.6 120.5 378.9 119.5 381.7 C118.4 384.5 117.6 388.0 116.9 391.7 C116.3 395.4 116.0 395.5 115.7 404.0 C115.4 412.6 115.1 433.8 115.2 443.0 C115.3 452.2 115.9 453.7 116.2 459.1 C116.6 464.4 116.7 469.8 117.2 475.1 C117.7 480.5 118.6 485.8 119.2 491.2 C119.9 496.5 120.7 502.9 121.2 507.2 C121.7 511.6 121.7 514.7 122.2 517.3 C122.7 519.8 123.4 521.1 124.3 522.3 C125.1 523.4 126.3 523.8 127.3 524.3 C128.3 524.8 129.1 524.6 130.3 525.3 C131.4 525.9 132.9 528.1 134.3 528.3 C135.6 528.5 137.1 527.6 138.3 526.3 C139.5 524.9 140.3 522.8 141.3 520.3 C142.3 517.8 143.5 514.4 144.3 511.2 C145.2 508.1 145.7 504.9 146.3 501.2 C147.0 497.5 147.8 493.2 148.3 489.2 C148.8 485.1 149.3 481.5 149.3 477.1 C149.3 472.8 148.8 467.4 148.3 463.1 C147.8 458.7 147.0 454.4 146.3 451.0 C145.7 447.7 143.6 450.8 144.3 443.0 C145.1 435.2 149.9 411.9 150.8 404.0Z" fill="none" stroke="#414141" stroke-width="1.25" stroke-linejoin="round"/>
<path d="M145.8 404.0 C145.4 396.1 144.6 397.9 143.9 395.5 C143.2 393.0 142.3 391.0 141.4 389.2 C140.5 387.4 139.5 385.9 138.3 384.8 C137.0 383.8 135.3 383.0 133.9 382.9 C132.4 382.8 130.7 383.4 129.5 384.2 C128.2 385.0 127.2 386.3 126.4 387.9 C125.5 389.6 124.9 391.5 124.5 394.2 C124.1 396.9 124.9 395.9 123.8 404.0 C122.8 412.1 119.0 434.5 118.2 443.0 C117.5 451.5 118.7 451.0 119.2 455.0 C119.7 459.1 120.4 463.1 121.2 467.1 C122.1 471.1 123.2 475.8 124.3 479.1 C125.3 482.5 125.9 484.8 127.3 487.2 C128.6 489.5 130.8 491.8 132.3 493.2 C133.8 494.5 135.1 495.7 136.3 495.2 C137.5 494.7 138.3 492.5 139.3 490.2 C140.3 487.8 141.5 484.3 142.3 481.1 C143.2 478.0 143.7 474.8 144.3 471.1 C144.9 467.4 145.6 463.7 145.9 459.1 C146.3 454.4 146.3 452.2 146.3 443.0 C146.3 433.8 146.2 411.9 145.8 404.0Z" fill="none" stroke="#414141" stroke-width="1.25" stroke-linejoin="round"/>
<path d="M131.3 449.0 C131.6 446.6 132.4 445.4 133.3 444.6 C134.1 443.8 135.5 443.3 136.3 444.0 C137.1 444.7 138.0 446.8 138.3 449.0 C138.6 451.2 138.6 454.5 138.3 457.0 C138.0 459.6 137.1 462.8 136.3 464.1 C135.5 465.3 134.1 465.5 133.3 464.7 C132.4 463.8 131.6 461.7 131.3 459.1 C130.9 456.4 130.9 451.4 131.3 449.0Z" fill="none" stroke="#414141" stroke-width="1.25" stroke-linejoin="round"/>
<path d="M56.0 461.1 C56.3 458.6 57.0 457.0 57.6 456.0 C58.3 455.1 59.4 454.6 60.0 455.4 C60.7 456.3 61.3 458.5 61.6 461.1 C62.0 463.7 62.1 468.1 62.0 471.1 C61.9 474.1 61.5 477.2 61.0 479.1 C60.5 481.1 59.7 482.7 59.0 482.7 C58.4 482.7 57.5 481.1 57.0 479.1 C56.5 477.2 56.2 474.1 56.0 471.1 C55.9 468.1 55.8 463.6 56.0 461.1Z" fill="none" stroke="#414141" stroke-width="1.25" stroke-linejoin="round"/>
<path d="M243.5 384.3 C244.3 382.6 245.9 383.4 246.9 384.3 C248.0 385.3 249.5 387.5 249.9 390.0 C250.2 392.4 249.7 396.0 249.2 399.0 C248.7 402.0 247.8 405.7 246.9 408.0 C246.0 410.3 244.7 413.4 244.0 413.0 C243.2 412.6 242.7 408.8 242.4 405.8 C242.1 402.7 242.2 398.0 242.4 394.5 C242.6 390.9 242.8 386.0 243.5 384.3Z" fill="none" stroke="#414141" stroke-width="1.25" stroke-linejoin="round"/>
<path d="M89.9 370.4 C88.2 370.4 85.4 375.8 83.6 377.9 C81.8 380.0 77.7 379.3 76.6 386.2 C75.5 393.0 75.7 416.9 75.6 429.3 C75.5 441.8 75.7 467.8 76.1 479.5 C76.5 491.2 77.8 509.8 78.6 517.1 C79.4 524.5 81.4 531.3 82.4 534.7 C83.4 538.1 84.8 541.9 86.1 542.7 C87.5 543.5 91.1 542.7 92.4 540.9 C93.7 539.2 95.3 533.8 96.2 529.7 C97.1 525.5 98.5 516.3 99.2 509.6 C99.8 502.9 101.0 490.2 101.2 479.5 C101.4 468.8 100.8 441.0 100.7 429.3 C100.5 417.6 100.5 398.6 99.9 391.7 C99.3 384.8 97.5 380.8 96.2 377.9 C94.8 375.1 91.6 370.4 89.9 370.4Z" fill="none" stroke="#414141" stroke-width="1.25" stroke-dasharray="2.9 2.0" stroke-linejoin="round"/>
<path d="M163.4 374.2 C163.7 369.3 163.8 369.1 164.5 367.4 C165.3 365.7 166.8 364.2 167.9 364.0 C169.0 363.8 170.3 364.6 171.3 366.2 C172.2 367.9 173.0 369.1 173.5 374.2 C174.1 379.2 174.4 389.2 174.7 396.7 C175.0 404.3 175.2 411.8 175.4 419.3 C175.5 426.8 176.5 436.7 175.8 441.9 C175.1 447.1 172.2 445.4 171.3 450.6 C170.3 455.8 170.2 465.6 170.2 473.2 C170.2 480.7 170.9 488.2 171.3 495.7 C171.7 503.3 172.2 511.5 172.4 518.3 C172.6 525.1 172.8 532.0 172.4 536.4 C172.0 540.7 170.9 544.6 170.2 544.3 C169.4 543.9 168.3 538.4 167.9 534.1 C167.5 529.8 168.1 524.7 167.9 518.3 C167.7 511.9 167.3 503.3 166.8 495.7 C166.2 488.2 165.2 480.7 164.5 473.2 C163.8 465.6 163.0 459.6 162.7 450.6 C162.4 441.6 162.7 428.3 162.7 419.3 C162.7 410.3 162.6 404.3 162.7 396.7 C162.8 389.2 163.1 379.0 163.4 374.2Z" fill="none" stroke="#414141" stroke-width="1.25" stroke-dasharray="2.9 2.0" stroke-linejoin="round"/>
<path d="M200.2 327.9 C200.3 330.3 200.8 338.2 201.1 342.5 C201.4 346.9 202.0 350.4 201.8 353.8 C201.5 357.2 200.8 359.9 199.5 362.9 C198.2 365.9 195.6 368.9 193.9 371.9 C192.2 374.9 190.5 377.5 189.3 380.9 C188.2 384.3 187.5 387.7 187.1 392.2 C186.6 396.7 186.6 402.7 186.6 408.0 C186.6 413.3 186.9 418.2 187.1 423.8 C187.2 429.5 187.5 441.2 187.5 441.9 C187.5 442.6 187.1 427.3 187.1 428.0 C187.1 428.7 187.2 440.0 187.5 446.1 C187.8 452.1 188.2 458.9 188.9 464.1 C189.6 469.4 190.8 472.8 191.6 477.7 C192.4 482.6 193.3 487.8 193.9 493.5 C194.4 499.1 194.8 505.9 195.0 511.5 C195.2 517.2 194.8 523.2 195.0 527.3 C195.2 531.5 195.2 534.1 196.1 536.4 C197.1 538.6 199.1 539.7 200.6 540.9 C202.1 542.0 203.6 542.2 205.2 543.1 C206.7 544.1 208.3 546.7 209.7 546.5 C211.0 546.3 211.5 542.9 213.1 542.0 C214.6 541.1 216.8 541.3 218.7 540.9 C220.6 540.5 223.0 540.9 224.3 539.7 C225.7 538.6 226.0 536.9 226.6 534.1 C227.2 531.3 227.2 526.6 227.7 522.8 C228.3 519.1 229.0 515.3 230.0 511.5 C230.9 507.8 232.2 504.2 233.4 500.2 C234.5 496.3 236.0 492.3 236.8 487.8 C237.5 483.3 237.7 479.4 237.9 473.2 C238.1 466.9 238.1 458.1 237.9 450.6 C237.7 443.1 236.9 430.2 236.8 428.0 C236.6 425.8 236.9 438.8 236.8 437.4 C236.6 435.9 236.0 425.3 235.6 419.3 C235.3 413.3 234.9 406.9 234.5 401.2 C234.1 395.6 233.9 390.0 233.4 385.4 C232.8 380.9 232.1 377.5 231.1 374.2 C230.2 370.8 228.7 368.5 227.7 365.1 C226.8 361.7 225.9 357.6 225.5 353.8 C225.0 350.1 225.1 346.9 225.0 342.5 C224.9 338.2 225.0 330.3 225.0 327.9" fill="none" stroke="#414141" stroke-width="1.25" stroke-dasharray="2.9 2.0" stroke-linejoin="round"/>
<path d="M210.8 360.6 C210.4 358.8 211.0 355.7 211.5 353.8 C212.0 352.0 213.1 349.3 213.7 349.3 C214.4 349.3 215.0 352.0 215.3 353.8 C215.6 355.7 215.6 358.8 215.3 360.6 C215.0 362.4 214.5 364.7 213.7 364.7 C213.0 364.7 211.2 362.4 210.8 360.6Z" fill="none" stroke="#414141" stroke-width="1.25" stroke-dasharray="2.9 2.0" stroke-linejoin="round"/>
<path d="M222.8 423.8 C222.3 425.3 221.6 432.5 221.0 437.4 C220.4 442.3 219.4 452.5 219.1 453.2 C218.8 453.9 219.2 440.8 219.1 441.5 C219.1 442.2 218.6 452.8 218.7 457.3 C218.8 461.9 219.3 466.2 219.8 468.6 C220.4 471.1 221.3 472.4 222.1 472.0 C222.8 471.6 224.0 470.0 224.3 466.4 C224.7 462.8 224.5 455.5 224.3 450.6 C224.2 445.7 223.7 438.5 223.7 437.0 C223.7 435.6 224.3 443.3 224.3 441.9 C224.3 440.4 223.9 431.3 223.7 428.3 C223.4 425.3 223.2 422.3 222.8 423.8Z" fill="none" stroke="#414141" stroke-width="1.25" stroke-dasharray="2.9 2.0" stroke-linejoin="round"/>
<path d="M269.5 479.9 L269.5 499.1" fill="none" stroke="#414141" stroke-width="1.30" stroke-dasharray="2.9 2.0" stroke-linejoin="round"/>
<path d="M170.0 362.9 C169.5 363.1 168.0 363.1 167.1 364.1 C166.2 365.2 165.2 367.0 164.6 369.1 C164.0 371.2 163.7 373.9 163.4 376.7 C163.0 379.4 162.8 380.9 162.7 385.4 C162.6 390.0 162.7 400.9 162.7 404.0" fill="none" stroke="#414141" stroke-width="1.25" stroke-dasharray="2.9 2.0" stroke-linejoin="round"/>
<path d="M164.6 328.4 C164.3 329.4 162.9 334.6 162.1 335.9 C161.3 337.2 160.1 337.9 159.0 338.4 C157.9 338.9 155.5 339.2 153.9 339.7 C152.4 340.1 149.4 340.9 147.7 341.5 C146.0 342.2 143.1 343.7 141.4 344.7 C139.7 345.7 136.8 347.8 135.1 349.1 C133.5 350.3 130.5 352.7 128.9 354.1 C127.3 355.5 124.5 358.1 123.2 359.7 C122.0 361.3 120.4 364.2 119.5 366.0 C118.5 367.8 117.0 370.8 116.3 372.9 C115.6 375.0 114.5 379.3 114.1 381.7 C113.6 384.0 113.2 388.3 113.2 390.5 C113.2 392.6 113.6 396.2 113.8 398.0 C114.1 399.8 114.3 402.0 115.1 404.0 C115.8 406.0 118.1 410.7 119.2 413.3 C120.3 415.9 121.8 420.6 123.2 423.3 C124.7 426.0 128.3 430.9 130.3 433.4 C132.3 435.8 136.4 439.3 138.3 441.4 C140.2 443.5 144.5 448.8 144.3 449.0 C144.2 449.2 137.6 443.4 137.3 443.0 C137.0 442.6 140.8 444.7 142.3 446.0 C143.8 447.3 147.0 451.0 148.3 453.0 C149.7 455.0 151.3 458.9 152.3 461.1 C153.4 463.2 155.0 466.9 156.4 469.1 C157.7 471.2 160.8 475.2 162.4 477.1 C164.0 479.0 168.0 482.5 168.4 483.1 C168.8 483.8 165.4 481.5 165.6 482.2 C165.9 482.9 170.2 486.8 170.2 488.5 C170.2 490.2 167.0 493.3 165.6 494.6 C164.3 495.9 160.2 497.9 160.0 498.0 C159.8 498.1 164.9 495.0 164.4 495.2 C163.9 495.3 158.8 498.4 156.4 499.2 C154.0 500.0 149.0 500.5 146.3 501.2 C143.7 501.9 138.7 503.4 136.3 504.2 C133.9 505.0 130.0 506.4 128.3 507.2 C126.5 508.0 124.2 508.9 123.2 510.2 C122.3 511.6 121.6 515.2 121.2 517.3 C120.8 519.3 120.8 523.4 120.2 525.3 C119.7 527.2 117.9 529.7 117.2 531.3 C116.6 532.9 115.2 535.7 115.2 537.3 C115.2 538.9 116.3 542.0 117.2 543.3 C118.2 544.7 120.5 546.6 122.2 547.4 C124.0 548.2 128.9 549.5 130.3 549.4 C131.6 549.2 131.6 546.6 132.3 546.4 C132.9 546.1 134.8 546.6 135.3 547.4 C135.8 548.2 135.9 551.3 136.3 552.4 C136.7 553.4 137.6 555.1 138.3 555.4 C139.0 555.6 140.9 554.5 141.3 554.4" fill="none" stroke="#55ca5a" stroke-width="1.35" stroke-linejoin="round"/>
<path d="M154.4 561.4 C154.9 560.4 156.4 557.1 157.4 555.4 C158.4 553.7 159.2 552.2 160.4 551.4 C161.5 550.5 163.2 550.0 164.4 550.4 C165.6 550.7 166.7 551.5 167.4 553.4 C168.1 555.2 168.6 560.1 168.8 561.4" fill="none" stroke="#55ca5a" stroke-width="1.35" stroke-linejoin="round"/>
<path d="M53.0 537.3 C53.0 535.6 55.5 532.9 57.0 531.3 C58.5 529.7 60.4 528.0 62.0 527.7 C63.7 527.4 65.2 528.4 67.1 529.3 C68.9 530.2 71.2 532.0 73.1 533.3 C74.9 534.6 77.9 536.0 78.1 537.3 C78.3 538.7 75.8 540.3 74.1 541.3 C72.4 542.3 70.1 542.9 68.1 543.3 C66.1 543.7 63.9 544.1 62.0 543.7 C60.2 543.4 58.5 542.4 57.0 541.3 C55.5 540.3 53.0 539.0 53.0 537.3Z" fill="none" stroke="#55ca5a" stroke-width="1.35" stroke-linejoin="round"/>
<path d="M62.0 331.4 C62.5 331.7 63.9 333.3 65.1 333.4 C66.2 333.5 68.4 332.1 69.1 331.8" fill="none" stroke="#55ca5a" stroke-width="1.35" stroke-linejoin="round"/>
<path d="M187.1 327.9 C187.2 329.9 187.0 337.1 187.5 340.3 C188.1 343.5 189.0 345.6 190.5 347.1 C191.9 348.6 193.7 348.6 196.1 349.3 C198.6 350.1 202.1 350.7 205.2 351.6 C208.2 352.4 210.8 353.9 214.2 354.3 C217.6 354.7 221.7 354.3 225.5 353.8 C229.2 353.4 233.4 352.7 236.8 351.6 C240.1 350.4 243.5 348.9 245.8 347.1 C248.0 345.2 249.5 343.5 250.3 340.3 C251.1 337.1 250.7 329.9 250.8 327.9" fill="none" stroke="#55ca5a" stroke-width="1.35" stroke-linejoin="round"/>
<path d="M158.9 339.2 C159.6 338.2 162.4 335.4 163.4 333.5 C164.4 331.6 164.7 328.8 165.0 327.9" fill="none" stroke="#55ca5a" stroke-width="1.35" stroke-linejoin="round"/>
<path d="M258.9 374.2 C258.9 375.2 258.8 380.6 259.3 382.1 C259.8 383.5 261.9 385.0 262.7 385.0 C263.6 385.0 265.2 383.5 265.7 382.1 C266.1 380.6 265.9 376.7 266.1 374.2 C266.3 371.6 266.6 365.9 267.2 362.9 C267.8 359.9 269.4 354.0 270.6 351.6 C271.8 349.2 275.7 346.2 276.3 344.8 C276.8 343.4 274.8 342.4 274.7 341.4 C274.6 340.5 275.2 338.2 275.6 337.6 C276.0 336.9 277.4 336.3 277.8 336.7 C278.3 337.0 279.2 339.3 279.2 340.3 C279.2 341.3 277.8 343.4 277.8 344.4 C277.9 345.3 279.1 344.6 279.6 347.1 C280.2 349.5 281.5 357.7 281.9 362.9 C282.4 368.0 282.9 379.4 283.0 385.4 C283.2 391.5 283.1 403.5 283.0 408.0 C282.9 412.5 282.5 416.6 282.4 419.3 C282.2 422.0 282.4 425.9 281.9 428.0 C281.4 430.1 279.9 433.3 278.5 434.8 C277.2 436.3 273.4 437.8 271.7 439.3 C270.1 440.8 267.3 444.0 266.1 446.1 C264.9 448.2 263.6 452.7 262.7 455.1 C261.8 457.5 260.2 462.5 259.3 464.1 C258.4 465.8 257.0 467.5 255.9 467.5 C254.9 467.5 252.6 464.3 251.4 464.1 C250.2 464.0 248.3 465.8 246.9 466.4 C245.6 467.0 242.5 467.1 241.3 468.6 C240.1 470.1 238.5 475.1 237.9 477.7 C237.3 480.2 236.3 485.4 236.8 487.8 C237.2 490.2 239.8 493.6 241.3 495.7 C242.8 497.8 246.1 501.7 248.0 503.6 C250.0 505.6 253.8 510.1 255.9 510.4 C258.1 510.7 261.7 506.3 263.8 505.9 C266.0 505.4 269.9 506.1 271.7 507.0 C273.6 507.9 275.7 511.0 277.4 512.7 C279.0 514.3 282.2 518.1 284.2 519.4 C286.1 520.7 291.0 522.0 292.1 522.4" fill="none" stroke="#55ca5a" stroke-width="1.35" stroke-linejoin="round"/>
<path d="M292.1 476.5 C291.2 477.4 287.9 479.7 286.9 481.7 C285.9 483.8 285.7 487.0 286.0 489.0 C286.2 490.9 287.2 492.5 288.2 493.5 C289.2 494.5 291.4 494.8 292.1 495.0" fill="none" stroke="#55ca5a" stroke-width="1.35" stroke-linejoin="round"/>
<path d="M158.9 551.7 C159.6 551.2 161.9 548.9 163.4 548.8 C164.9 548.7 166.8 549.0 167.9 551.0 C169.0 553.1 169.8 559.5 170.2 561.2" fill="none" stroke="#55ca5a" stroke-width="1.35" stroke-linejoin="round"/>
</g>
<rect x="51.50" y="331.25" width="239.60" height="229.45" fill="none" stroke="#1a1a1a" stroke-width="1.9"/>
<line x1="45.7" y1="331.2" x2="51.5" y2="331.2" stroke="#1a1a1a" stroke-width="1.6"/>
<text x="12.7" y="338.9" font-size="21.5" textLength="29.6" lengthAdjust="spacingAndGlyphs" fill="#111" stroke="#111" stroke-width="0.35">200</text>
<line x1="45.7" y1="430.1" x2="51.5" y2="430.1" stroke="#1a1a1a" stroke-width="1.6"/>
<text x="12.7" y="437.8" font-size="21.5" textLength="29.6" lengthAdjust="spacingAndGlyphs" fill="#111" stroke="#111" stroke-width="0.35">400</text>
<line x1="45.7" y1="487.9" x2="51.5" y2="487.9" stroke="#1a1a1a" stroke-width="1.6"/>
<text x="12.7" y="495.6" font-size="21.5" textLength="29.6" lengthAdjust="spacingAndGlyphs" fill="#111" stroke="#111" stroke-width="0.35">600</text>
<line x1="45.7" y1="528.9" x2="51.5" y2="528.9" stroke="#1a1a1a" stroke-width="1.6"/>
<text x="12.7" y="536.6" font-size="21.5" textLength="29.6" lengthAdjust="spacingAndGlyphs" fill="#111" stroke="#111" stroke-width="0.35">800</text>
<line x1="45.7" y1="560.7" x2="51.5" y2="560.7" stroke="#1a1a1a" stroke-width="1.6"/>
<text x="3.7" y="568.4" font-size="21.5" textLength="38.6" lengthAdjust="spacingAndGlyphs" fill="#111" stroke="#111" stroke-width="0.35">1000</text>
<line x1="51.5" y1="560.7" x2="51.5" y2="566.5" stroke="#1a1a1a" stroke-width="1.6"/>
<text x="37.2" y="585.0" font-size="20.4" textLength="28.6" lengthAdjust="spacingAndGlyphs" fill="#111" stroke="#111" stroke-width="0.35">40E</text>
<line x1="120.0" y1="560.7" x2="120.0" y2="566.5" stroke="#1a1a1a" stroke-width="1.6"/>
<text x="105.7" y="585.0" font-size="20.4" textLength="28.6" lengthAdjust="spacingAndGlyphs" fill="#111" stroke="#111" stroke-width="0.35">80E</text>
<line x1="188.4" y1="560.7" x2="188.4" y2="566.5" stroke="#1a1a1a" stroke-width="1.6"/>
<text x="169.5" y="585.0" font-size="20.4" textLength="37.8" lengthAdjust="spacingAndGlyphs" fill="#111" stroke="#111" stroke-width="0.35">120E</text>
<line x1="256.9" y1="560.7" x2="256.9" y2="566.5" stroke="#1a1a1a" stroke-width="1.6"/>
<text x="238.0" y="585.0" font-size="20.4" textLength="37.8" lengthAdjust="spacingAndGlyphs" fill="#111" stroke="#111" stroke-width="0.35">160E</text>
<text x="60.9" y="321.5" font-size="14.5" font-weight="bold" textLength="19.5" lengthAdjust="spacingAndGlyphs" fill="#111">(b)</text>
<text x="94.5" y="323.4" font-size="19.5" textLength="82.9" lengthAdjust="spacingAndGlyphs" fill="#111" stroke="#111" stroke-width="0.35">CTL_TDK</text>
<g clip-path="url(#cpc)">
<path d="M482.9 326.5 C470.7 327.1 483.6 330.3 482.4 332.0 C481.2 333.8 474.9 339.3 472.9 341.5 C470.9 343.8 467.4 349.7 465.3 351.6 C463.3 353.5 457.7 356.5 455.3 357.8 C453.0 359.2 447.6 361.3 445.3 362.9 C442.9 364.5 437.1 369.4 435.2 371.6 C433.3 373.8 430.0 379.5 429.0 381.7 C428.0 383.9 426.6 388.1 426.5 390.4 C426.3 392.8 427.1 399.2 427.7 401.7 C428.3 404.2 430.3 409.4 431.5 411.8 C432.7 414.1 436.1 419.8 437.8 421.8 C439.4 423.8 443.2 427.6 445.3 429.3 C447.3 431.1 453.0 435.2 455.3 436.9 C457.7 438.5 463.1 441.8 465.3 443.1 C467.5 444.4 472.9 447.7 474.1 448.1 C475.4 448.6 475.3 446.4 476.0 447.0 C476.7 447.6 479.1 451.4 480.0 453.0 C481.0 454.7 483.2 459.2 484.0 461.1 C484.8 462.9 486.5 467.2 487.0 469.1 C487.6 471.0 488.6 475.6 489.0 477.1 C489.5 478.6 490.0 481.3 491.1 482.1 C492.1 483.0 496.3 483.9 498.1 484.1 C499.8 484.4 504.2 484.3 506.1 484.1 C508.0 484.0 512.5 483.1 514.1 483.1 C515.8 483.1 519.0 483.4 520.2 484.1 C521.3 484.8 523.6 487.6 524.2 489.2 C524.7 490.7 524.9 495.3 525.2 497.2 C525.4 499.1 525.8 503.5 526.2 505.2 C526.5 507.0 527.5 510.8 528.2 512.2 C528.9 513.6 531.0 516.4 532.2 517.3 C533.4 518.1 536.6 519.3 538.2 519.7 C539.9 520.0 544.4 520.4 546.2 520.3 C548.1 520.1 552.4 518.8 554.3 518.3 C556.1 517.7 560.8 515.9 562.3 515.2 C563.8 514.5 566.3 513.4 567.3 512.2 C568.4 511.1 570.4 507.0 571.3 505.2 C572.3 503.5 574.8 498.8 575.3 497.2 C575.9 495.5 576.6 492.5 576.3 491.2 C576.1 489.9 574.2 487.6 573.3 486.1 C572.5 484.7 570.1 480.9 569.3 479.1 C568.5 477.4 566.9 473.2 566.3 471.1 C565.7 469.0 564.8 463.4 564.3 461.1 C563.8 458.7 563.0 452.9 562.3 451.0 C561.6 449.2 559.2 446.9 558.3 445.4 C557.3 443.9 555.4 440.2 554.3 438.4 C553.1 436.5 549.7 431.6 548.2 429.3 C546.8 427.1 543.5 421.6 542.2 419.3 C540.9 417.0 538.1 411.6 537.2 409.3 C536.3 406.9 534.7 401.6 534.2 399.2 C533.7 396.9 533.0 391.3 533.2 389.2 C533.4 387.1 535.4 383.2 536.2 381.2 C537.0 379.2 539.2 373.9 540.2 372.1 C541.3 370.4 544.1 367.6 545.2 366.1 C546.4 364.6 549.1 360.6 550.3 359.1 C551.4 357.6 554.3 353.9 555.3 353.1 C556.2 352.3 557.6 351.4 558.3 352.1 C559.0 352.8 560.6 357.3 561.3 359.1 C562.0 360.9 563.5 365.3 564.3 367.1 C565.1 369.0 567.4 373.6 568.3 375.2 C569.3 376.7 571.5 379.9 572.3 380.2 C573.1 380.4 574.5 378.5 575.3 377.2 C576.2 375.9 578.4 371.2 579.4 369.1 C580.3 367.0 582.5 361.4 583.4 359.1 C584.2 356.8 585.9 351.4 586.4 349.1 C586.8 346.7 587.3 341.6 587.4 339.0 C587.5 336.5 599.6 328.5 587.4 327.0 C575.2 325.5 495.1 325.9 482.9 326.5Z" fill="#fdbb38"/>
<path d="M493.1 327.0 C497.2 326.5 524.1 326.5 528.2 327.0 C532.3 327.5 528.4 329.8 528.2 331.4 C527.9 333.0 526.8 338.7 526.2 341.0 C525.6 343.3 524.0 348.6 523.2 351.1 C522.3 353.5 520.1 359.7 519.1 362.1 C518.2 364.6 516.0 369.9 515.1 372.1 C514.3 374.4 512.7 379.2 512.1 381.2 C511.5 383.2 510.7 387.4 510.1 389.2 C509.5 391.0 508.0 394.9 507.1 396.2 C506.2 397.5 503.1 399.2 502.1 400.2 C501.0 401.3 499.0 404.0 498.1 405.3 C497.1 406.5 494.9 409.6 494.1 411.3 C493.2 412.9 492.0 417.9 491.1 419.3 C490.1 420.7 487.3 422.6 486.0 423.3 C484.7 424.0 482.7 425.7 480.0 425.3 C477.3 425.0 466.2 421.5 462.8 420.5 C459.5 419.6 453.9 418.1 451.5 416.8 C449.2 415.5 444.4 411.5 442.8 409.3 C441.2 407.1 438.5 400.5 437.8 398.0 C437.0 395.5 436.2 390.3 436.5 387.9 C436.8 385.6 438.9 380.0 440.3 377.9 C441.6 375.9 445.4 371.7 447.8 370.4 C450.1 369.1 457.7 367.5 460.3 366.6 C463.0 365.7 467.8 363.6 470.4 362.9 C472.9 362.1 480.0 360.5 482.0 360.1 C484.1 359.7 486.8 359.7 488.0 359.1 C489.3 358.5 492.1 356.3 493.1 355.1 C494.0 353.9 496.0 350.7 496.1 349.1 C496.2 347.4 494.4 343.1 494.1 341.0 C493.7 339.0 493.2 333.0 493.1 331.4 C492.9 329.8 489.0 327.5 493.1 327.0Z" fill="#fc6a0c"/>
<path d="M447.8 389.2 C448.2 387.8 452.0 386.7 454.1 386.2 C456.1 385.7 458.7 385.5 460.3 386.2 C462.0 386.9 463.9 388.9 464.1 390.4 C464.3 392.0 462.8 394.3 461.6 395.5 C460.3 396.6 458.2 397.3 456.6 397.2 C454.9 397.1 453.0 396.1 451.5 394.7 C450.1 393.4 447.4 390.6 447.8 389.2Z" fill="#e01708"/>
<path d="M429.0 327.7 C433.4 326.7 452.0 327.0 456.6 327.7 C461.2 328.5 457.2 330.6 456.6 332.0 C455.9 333.4 455.1 334.9 452.8 336.0 C450.5 337.1 445.9 338.2 442.8 338.5 C439.6 338.8 436.2 338.5 434.0 337.8 C431.8 337.0 430.6 335.7 429.7 334.0 C428.9 332.3 424.5 328.8 429.0 327.7Z" fill="#8fcdf4"/>
<path d="M367.5 387.2 C368.7 385.5 371.9 386.1 373.8 386.7 C375.7 387.2 378.2 388.8 378.8 390.4 C379.4 392.1 378.4 394.8 377.6 396.7 C376.7 398.6 375.1 400.9 373.8 401.7 C372.5 402.6 370.7 402.6 369.5 401.7 C368.4 400.9 367.4 399.1 367.0 396.7 C366.7 394.3 366.4 388.9 367.5 387.2Z" fill="#8fcdf4"/>
<path d="M385.1 389.2 C385.2 388.5 387.7 387.7 388.8 387.9 C390.0 388.2 392.2 389.7 392.1 390.4 C392.0 391.2 389.3 392.4 388.1 392.2 C386.9 392.0 385.0 389.9 385.1 389.2Z" fill="#8fcdf4"/>
<path d="M428.2 559.4 C428.8 558.8 432.8 557.3 434.2 557.0 C435.7 556.6 440.7 556.2 442.3 555.8 C443.9 555.4 448.9 553.2 450.3 553.0 C451.7 552.8 455.4 553.3 456.3 553.8 C457.2 554.2 459.3 556.8 459.3 557.4 C459.3 558.0 457.2 558.9 456.3 559.4 C455.4 559.9 453.1 562.0 450.3 562.4 C447.5 562.8 430.4 563.3 428.2 563.0 C426.0 562.7 427.6 560.0 428.2 559.4Z" fill="#8fcdf4"/>
<path d="M475.4 490.8 C475.9 490.1 477.9 488.9 479.1 489.0 C480.4 489.1 482.8 490.6 482.9 491.5 C483.0 492.4 481.0 494.2 479.9 494.5 C478.8 494.8 476.9 493.9 476.1 493.3 C475.4 492.7 474.9 491.5 475.4 490.8Z" fill="#fdbb38"/>
<line x1="399.2" y1="332.2" x2="399.2" y2="562.7" stroke="#3c3c3c" stroke-width="1.4" stroke-dasharray="1.5 5.7"/>
<line x1="431.7" y1="332.2" x2="431.7" y2="562.7" stroke="#3c3c3c" stroke-width="1.4" stroke-dasharray="1.5 5.7"/>
<line x1="464.2" y1="332.2" x2="464.2" y2="562.7" stroke="#3c3c3c" stroke-width="1.4" stroke-dasharray="1.5 5.7"/>
<line x1="496.6" y1="332.2" x2="496.6" y2="562.7" stroke="#3c3c3c" stroke-width="1.4" stroke-dasharray="1.5 5.7"/>
<line x1="529.1" y1="332.2" x2="529.1" y2="562.7" stroke="#3c3c3c" stroke-width="1.4" stroke-dasharray="1.5 5.7"/>
<line x1="561.6" y1="332.2" x2="561.6" y2="562.7" stroke="#3c3c3c" stroke-width="1.4" stroke-dasharray="1.5 5.7"/>
<line x1="371.1" y1="389.7" x2="594.1" y2="389.7" stroke="#bcbcbc" stroke-width="1.3" stroke-dasharray="1.8 4.35"/>
<line x1="371.1" y1="431.1" x2="594.1" y2="431.1" stroke="#bcbcbc" stroke-width="1.3" stroke-dasharray="1.8 4.35"/>
<line x1="371.1" y1="463.1" x2="594.1" y2="463.1" stroke="#bcbcbc" stroke-width="1.3" stroke-dasharray="1.8 4.35"/>
<line x1="371.1" y1="489.3" x2="594.1" y2="489.3" stroke="#bcbcbc" stroke-width="1.3" stroke-dasharray="1.8 4.35"/>
<line x1="371.1" y1="511.5" x2="594.1" y2="511.5" stroke="#bcbcbc" stroke-width="1.3" stroke-dasharray="1.8 4.35"/>
<line x1="371.1" y1="530.6" x2="594.1" y2="530.6" stroke="#bcbcbc" stroke-width="1.3" stroke-dasharray="1.8 4.35"/>
<line x1="371.1" y1="547.6" x2="594.1" y2="547.6" stroke="#bcbcbc" stroke-width="1.3" stroke-dasharray="1.8 4.35"/>
<line x1="447.9" y1="331.5" x2="447.9" y2="562.7" stroke="#9632be" stroke-width="1.25" stroke-dasharray="2.9 2.1"/>
<path d="M445.1 392.7 C445.7 390.5 447.1 390.1 448.1 390.1 C449.2 390.1 450.8 390.5 451.5 392.7 C452.1 395.0 452.0 399.4 452.1 403.4 C452.3 407.5 452.4 412.4 452.5 416.8 C452.7 421.3 452.7 425.7 452.8 430.2 C453.0 434.7 453.1 439.3 453.5 443.6 C453.8 447.8 454.6 454.0 454.8 455.6 C455.0 457.2 454.6 451.8 454.7 453.0 C454.8 454.3 455.6 460.2 455.3 463.1 C455.1 465.9 454.1 468.6 453.3 470.1 C452.5 471.6 451.3 471.9 450.3 472.1 C449.3 472.3 448.2 472.3 447.3 471.1 C446.4 469.9 445.2 467.8 444.7 465.1 C444.2 462.4 444.3 458.4 444.3 455.0 C444.3 451.7 444.6 446.9 444.7 445.0 C444.8 443.1 445.0 446.0 445.1 443.6 C445.1 441.1 445.1 434.7 445.1 430.2 C445.0 425.7 444.9 421.3 444.8 416.8 C444.7 412.4 444.5 407.5 444.5 403.4 C444.6 399.4 444.4 395.0 445.1 392.7Z" fill="none" stroke="#414141" stroke-width="1.25" stroke-linejoin="round"/>
<path d="M431.2 459.1 C431.5 463.2 432.2 470.4 433.2 475.1 C434.2 479.8 435.8 484.0 437.3 487.2 C438.8 490.3 440.6 492.6 442.3 494.2 C443.9 495.8 445.5 496.4 447.3 496.8 C449.1 497.1 451.5 497.0 453.3 496.2 C455.2 495.4 457.0 494.3 458.3 492.2 C459.7 490.0 460.5 486.6 461.3 483.1 C462.2 479.6 462.8 474.3 463.3 471.1 C463.9 467.8 464.8 467.1 464.8 463.6 C464.9 460.2 464.0 454.7 463.5 450.3 C463.1 445.8 462.6 441.3 462.2 436.9 C461.7 432.4 461.2 428.0 460.8 423.5 C460.5 419.1 460.4 414.6 460.2 410.1 C459.9 405.7 459.8 400.3 459.5 396.8 C459.2 393.2 458.8 391.1 458.2 388.7 C457.5 386.4 456.6 384.3 455.5 382.7 C454.4 381.1 453.0 380.0 451.5 379.4 C449.9 378.7 447.9 378.4 446.1 378.7 C444.3 379.0 442.4 379.9 440.8 381.4 C439.1 382.8 437.4 384.8 436.1 387.4 C434.7 390.0 433.5 393.0 432.7 396.8 C432.0 400.5 431.7 404.6 431.4 410.1 C431.1 415.7 431.1 423.5 431.1 430.2 C431.1 436.9 431.4 445.5 431.4 450.3 C431.4 455.1 430.9 454.9 431.2 459.1Z" fill="none" stroke="#414141" stroke-width="1.25" stroke-linejoin="round"/>
<path d="M420.2 443.0 C420.4 448.0 420.7 453.7 421.2 459.1 C421.7 464.4 422.4 469.8 423.2 475.1 C424.0 480.5 424.9 486.1 426.2 491.2 C427.6 496.2 429.4 501.4 431.2 505.2 C433.1 509.1 435.1 511.9 437.3 514.2 C439.4 516.6 441.8 518.3 444.3 519.3 C446.8 520.3 449.8 520.4 452.3 520.3 C454.8 520.1 457.0 519.6 459.3 518.3 C461.7 516.9 464.2 514.7 466.4 512.2 C468.5 509.7 470.5 506.0 472.4 503.2 C474.2 500.4 476.8 497.7 477.4 495.2 C478.0 492.7 475.7 490.5 476.0 488.2 C476.3 485.8 478.2 484.0 479.0 481.1 C479.8 478.3 480.7 474.0 481.0 471.1 C481.3 468.2 481.6 467.1 480.9 463.6 C480.2 460.2 478.2 454.7 476.9 450.3 C475.6 445.8 474.1 441.3 472.9 436.9 C471.6 432.4 470.4 428.0 469.5 423.5 C468.6 419.1 468.1 414.6 467.5 410.1 C467.0 405.7 466.6 400.8 466.2 396.8 C465.7 392.7 465.4 389.0 464.8 386.1 C464.3 383.2 463.7 381.4 462.8 379.4 C462.0 377.4 460.7 375.5 459.5 374.0 C458.3 372.5 457.7 370.3 455.5 370.3 C453.3 370.2 449.0 372.9 446.3 373.6 C443.6 374.2 441.6 373.6 439.3 374.2 C436.9 374.8 434.4 375.7 432.2 377.2 C430.1 378.7 427.9 380.5 426.2 383.2 C424.5 385.9 423.1 388.9 422.2 393.2 C421.3 397.6 420.9 403.3 420.6 409.3 C420.3 415.3 420.3 423.7 420.2 429.3 C420.1 435.0 420.0 438.0 420.2 443.0Z" fill="none" stroke="#414141" stroke-width="1.25" stroke-linejoin="round"/>
<path d="M476.0 535.3 C477.3 534.8 480.3 533.3 482.0 532.3 C483.7 531.3 484.9 530.3 486.0 529.3 C487.2 528.3 488.2 526.1 489.0 526.3 C489.9 526.5 490.4 530.0 491.1 530.3 C491.7 530.6 492.4 528.1 493.1 528.3 C493.7 528.5 494.4 531.1 495.1 531.3 C495.7 531.5 496.4 528.6 497.1 529.3 C497.7 530.0 498.4 533.5 499.1 535.3 C499.7 537.2 500.6 540.7 501.1 540.3 C501.6 540.0 501.8 536.2 502.1 533.3 C502.4 530.5 503.0 527.3 503.1 523.3 C503.2 519.3 502.7 514.2 502.5 509.2 C502.3 504.2 502.0 498.2 501.7 493.2 C501.4 488.2 500.9 483.5 500.5 479.1 C500.0 474.8 499.6 471.1 499.1 467.1 C498.5 463.1 497.7 459.1 497.1 455.0 C496.4 451.0 495.4 447.3 495.1 443.0 C494.7 438.7 495.2 435.0 495.1 429.3 C495.0 423.7 494.7 415.3 494.5 409.3 C494.2 403.3 494.1 397.6 493.7 393.2 C493.2 388.9 492.4 385.9 491.7 383.2 C490.9 380.5 489.8 377.8 489.0 377.2 C488.3 376.5 487.9 378.3 487.0 379.2 C486.2 380.0 485.2 382.7 484.0 382.2 C482.9 381.7 481.4 378.2 480.0 376.2 C478.7 374.2 476.4 371.0 476.0 370.1 C475.6 369.3 478.0 371.5 477.4 371.1 C476.8 370.8 474.0 368.6 472.4 368.1 C470.7 367.6 469.0 368.6 467.4 368.1 C465.7 367.6 463.8 366.3 462.3 365.1 C460.8 364.0 459.3 362.8 458.3 361.1 C457.3 359.4 457.0 357.3 456.3 355.1 C455.7 352.9 455.2 350.0 454.3 348.1 C453.5 346.1 452.5 344.2 451.3 343.4 C450.1 342.7 448.6 342.7 447.3 343.4 C446.0 344.2 444.6 346.0 443.3 348.1 C441.9 350.2 440.9 353.8 439.3 356.1 C437.6 358.4 435.4 360.4 433.2 362.1 C431.1 363.8 428.6 364.8 426.2 366.1 C423.9 367.5 421.4 368.8 419.2 370.1 C417.0 371.5 414.7 372.3 413.2 374.2 C411.6 376.0 410.5 378.0 409.8 381.2 C409.0 384.4 408.8 388.5 408.6 393.2 C408.3 397.9 408.3 403.3 408.2 409.3 C408.0 415.3 407.9 423.7 407.8 429.3 C407.6 435.0 407.2 438.0 407.2 443.0 C407.2 448.0 407.5 453.7 407.8 459.1 C408.0 464.4 408.2 469.8 408.6 475.1 C408.9 480.5 409.3 485.8 409.8 491.2 C410.2 496.5 410.4 502.5 411.2 507.2 C411.9 511.9 412.7 515.6 414.2 519.3 C415.7 522.9 418.2 526.6 420.2 529.3 C422.2 532.0 424.4 534.0 426.2 535.3 C428.1 536.7 429.6 536.7 431.2 537.3 C432.9 538.0 434.4 538.3 436.3 539.3 C438.1 540.3 440.3 542.3 442.3 543.3 C444.3 544.3 446.1 545.0 448.3 545.3 C450.5 545.7 453.0 545.5 455.3 545.3 C457.7 545.2 460.2 545.3 462.3 544.3 C464.5 543.3 466.4 540.8 468.4 539.3 C470.4 537.8 473.1 536.0 474.4 535.3 C475.7 534.6 474.7 535.8 476.0 535.3Z" fill="none" stroke="#414141" stroke-width="1.25" stroke-linejoin="round"/>
<path d="M417.6 328.0 C417.2 329.8 416.1 335.2 415.2 339.0 C414.3 342.9 413.2 347.4 412.2 351.1 C411.2 354.8 410.2 358.1 409.2 361.1 C408.2 364.1 406.9 365.8 406.2 369.1 C405.4 372.5 404.9 376.8 404.5 381.2 C404.2 385.5 404.3 390.5 404.1 395.2 C404.0 399.9 403.7 404.3 403.7 409.3 C403.7 414.3 404.1 419.7 404.1 425.3 C404.2 430.9 404.0 436.7 404.1 443.0 C404.3 449.3 404.6 456.4 405.1 463.1 C405.6 469.8 406.5 476.4 407.2 483.1 C407.8 489.8 408.5 496.5 409.2 503.2 C409.8 509.9 410.5 517.9 411.2 523.3 C411.8 528.6 412.2 532.1 413.2 535.3 C414.2 538.5 415.7 540.7 417.2 542.3 C418.7 544.0 420.5 545.2 422.2 545.3 C423.9 545.5 425.7 543.0 427.2 543.3 C428.7 543.7 429.7 545.8 431.2 547.4 C432.7 548.9 434.4 551.2 436.3 552.4 C438.1 553.5 440.3 553.9 442.3 554.4 C444.3 554.9 446.6 554.9 448.3 555.4 C450.0 555.9 451.0 556.9 452.3 557.4 C453.6 557.9 454.6 558.6 456.3 558.4 C458.0 558.2 460.3 557.2 462.3 556.4 C464.3 555.5 466.4 553.9 468.4 553.4 C470.4 552.9 473.1 553.2 474.4 553.4 C475.7 553.5 475.1 554.5 476.0 554.4 C476.9 554.2 478.7 553.4 480.0 552.4 C481.4 551.4 482.7 549.2 484.0 548.4 C485.4 547.5 486.9 546.9 488.0 547.4 C489.2 547.9 490.0 549.7 491.1 551.4 C492.1 553.0 492.9 556.2 494.1 557.4 C495.2 558.6 496.4 558.0 498.1 558.4 C499.7 558.8 502.4 559.8 504.1 559.8 C505.8 559.8 506.8 558.8 508.1 558.4 C509.4 558.0 510.8 558.1 512.1 557.4 C513.5 556.7 514.8 554.5 516.1 554.4 C517.5 554.2 518.8 556.4 520.2 556.4 C521.5 556.4 523.0 555.0 524.2 554.4 C525.3 553.7 526.2 552.4 527.2 552.4 C528.2 552.4 529.2 554.9 530.2 554.4 C531.2 553.9 532.5 551.9 533.2 549.4 C533.9 546.9 534.2 543.0 534.2 539.3 C534.2 535.6 533.7 531.3 533.2 527.3 C532.7 523.3 531.9 519.3 531.2 515.2 C530.5 511.2 530.0 506.9 529.2 503.2 C528.3 499.5 527.3 496.0 526.2 493.2 C525.0 490.3 523.8 487.8 522.2 486.1 C520.5 484.5 518.1 484.6 516.1 483.1 C514.1 481.6 511.8 479.8 510.1 477.1 C508.4 474.4 507.3 470.8 506.1 467.1 C504.9 463.4 504.1 459.1 503.1 455.0 C502.1 451.0 500.6 447.3 500.1 443.0 C499.6 438.7 499.9 435.0 500.1 429.3 C500.2 423.7 500.8 416.0 501.1 409.3 C501.4 402.6 501.8 394.6 502.1 389.2 C502.4 383.9 502.4 380.3 503.1 377.2 C503.8 374.0 504.9 371.6 506.1 370.1 C507.3 368.6 508.8 368.0 510.1 368.1 C511.5 368.3 513.0 369.6 514.1 371.1 C515.3 372.6 516.1 375.2 517.1 377.2 C518.1 379.2 519.1 381.3 520.2 383.2 C521.2 385.0 522.2 387.2 523.2 388.2 C524.2 389.2 525.3 390.0 526.2 389.2 C527.1 388.4 527.8 385.5 528.6 383.2 C529.3 380.8 529.9 378.2 530.6 375.2 C531.3 372.1 532.2 368.8 532.6 365.1 C533.0 361.4 533.3 357.1 533.2 353.1 C533.1 349.1 532.6 345.2 532.2 341.0 C531.8 336.9 530.9 330.2 530.6 328.0" fill="none" stroke="#414141" stroke-width="1.25" stroke-linejoin="round"/>
<path d="M493.7 328.0 C493.9 329.7 494.7 335.9 495.1 338.0 C495.5 340.2 495.7 341.0 496.1 341.0 C496.4 341.0 496.7 340.2 497.1 338.0 C497.4 335.9 497.9 329.7 498.1 328.0" fill="none" stroke="#414141" stroke-width="1.25" stroke-linejoin="round"/>
<path d="M559.7 328.0 C559.3 329.8 558.2 336.0 557.3 339.0 C556.4 342.0 555.6 344.6 554.3 346.1 C552.9 347.6 550.9 347.4 549.2 348.1 C547.6 348.7 545.7 348.6 544.2 350.1 C542.7 351.6 541.4 354.8 540.2 357.1 C539.0 359.4 537.4 362.1 537.2 364.1 C537.0 366.1 538.4 366.6 539.2 369.1 C540.1 371.6 541.4 375.2 542.2 379.2 C543.1 383.2 543.7 388.2 544.2 393.2 C544.7 398.2 544.9 403.3 545.2 409.3 C545.6 415.3 546.1 423.7 546.2 429.3 C546.4 435.0 546.2 437.4 546.2 443.0 C546.3 448.6 546.5 456.4 546.6 463.1 C546.7 469.8 546.8 476.4 546.8 483.1 C546.8 489.8 546.6 496.5 546.6 503.2 C546.7 509.9 547.0 517.3 547.2 523.3 C547.4 529.3 547.6 534.3 547.8 539.3 C548.1 544.3 548.3 549.9 548.6 553.4 C548.9 556.9 549.3 560.4 549.7 560.4 C550.0 560.4 550.2 556.6 550.7 553.4 C551.1 550.2 551.5 544.2 552.3 541.3 C553.0 538.5 554.1 537.3 555.3 536.3 C556.4 535.4 558.1 535.9 559.3 535.7 C560.5 535.5 561.5 534.7 562.3 535.3 C563.1 535.9 563.5 537.7 564.3 539.3 C565.1 541.0 566.1 543.7 567.3 545.3 C568.5 547.0 569.8 548.4 571.3 549.4 C572.8 550.4 574.5 550.9 576.3 551.4 C578.2 551.9 580.4 552.5 582.4 552.4 C584.4 552.2 586.2 551.0 588.4 550.4 C590.6 549.7 594.2 548.7 595.4 548.4" fill="none" stroke="#414141" stroke-width="1.25" stroke-linejoin="round"/>
<path d="M556.3 389.2 C556.4 384.5 556.6 383.2 557.3 381.2 C557.9 379.2 559.1 377.5 560.3 377.2 C561.5 376.8 563.1 377.8 564.3 379.2 C565.5 380.5 566.5 382.5 567.3 385.2 C568.1 387.9 568.6 391.2 569.3 395.2 C570.0 399.2 570.7 404.6 571.3 409.3 C572.0 414.0 572.5 418.6 573.3 423.3 C574.2 428.0 575.3 434.7 576.3 437.4 C577.3 440.0 578.3 439.4 579.4 439.4 C580.4 439.4 581.5 436.8 582.4 437.4 C583.2 438.0 584.0 439.4 584.4 443.0 C584.7 446.6 584.5 453.7 584.4 459.1 C584.2 464.4 583.8 469.8 583.4 475.1 C583.0 480.5 582.5 486.1 582.0 491.2 C581.5 496.2 581.0 501.4 580.4 505.2 C579.8 509.1 579.2 512.2 578.3 514.2 C577.5 516.2 576.3 517.3 575.3 517.3 C574.3 517.3 573.3 516.2 572.3 514.2 C571.3 512.2 570.2 509.1 569.3 505.2 C568.5 501.4 568.1 496.2 567.3 491.2 C566.5 486.1 565.3 480.5 564.3 475.1 C563.3 469.8 562.1 464.4 561.3 459.1 C560.5 453.7 559.9 448.0 559.3 443.0 C558.7 438.0 558.3 435.0 557.9 429.3 C557.4 423.7 556.9 416.0 556.7 409.3 C556.4 402.6 556.2 393.9 556.3 389.2Z" fill="none" stroke="#414141" stroke-width="1.25" stroke-linejoin="round"/>
<path d="M580.4 328.0 C580.5 330.2 580.9 336.9 581.4 341.0 C581.9 345.2 582.5 349.4 583.4 353.1 C584.2 356.8 585.4 360.1 586.4 363.1 C587.4 366.1 588.5 368.1 589.4 371.1 C590.2 374.2 590.8 377.8 591.4 381.2 C592.0 384.5 592.3 387.9 592.8 391.2 C593.3 394.6 594.1 399.6 594.4 401.2" fill="none" stroke="#414141" stroke-width="1.25" stroke-linejoin="round"/>
<path d="M512.1 449.0 C512.1 447.4 511.6 437.6 511.7 433.4 C511.9 429.1 512.4 426.0 513.1 423.3 C513.9 420.6 515.1 418.0 516.1 417.3 C517.1 416.6 518.1 418.1 519.1 419.3 C520.2 420.5 521.0 422.8 522.2 424.3 C523.3 425.8 524.8 428.2 526.2 428.3 C527.5 428.5 529.0 427.2 530.2 425.3 C531.4 423.5 532.5 420.6 533.2 417.3 C533.9 414.0 534.1 408.9 534.2 405.3 C534.3 401.6 533.4 396.2 533.6 395.2 C533.8 394.2 534.8 395.6 535.2 399.2 C535.6 402.9 535.4 413.0 536.2 417.3 C537.0 421.6 539.0 422.0 540.2 425.3 C541.4 428.7 543.2 434.4 543.2 437.4 C543.2 440.3 540.7 440.1 540.2 443.0 C539.8 445.9 540.6 451.0 540.6 455.0 C540.6 459.1 540.6 463.7 540.2 467.1 C539.8 470.4 539.0 473.1 538.2 475.1 C537.4 477.1 536.2 478.8 535.2 479.1 C534.2 479.5 533.0 478.5 532.2 477.1 C531.4 475.8 531.1 473.1 530.6 471.1 C530.1 469.1 529.7 465.7 529.2 465.1 C528.6 464.4 528.0 467.4 527.2 467.1 C526.3 466.7 525.2 464.6 524.2 463.1 C523.2 461.6 522.3 459.2 521.2 458.1 C520.0 456.9 518.3 457.2 517.1 456.0 C516.0 454.9 515.0 453.2 514.1 451.0 C513.3 448.9 512.5 443.3 512.1 443.0 C511.8 442.7 512.2 450.6 512.1 449.0Z" fill="none" stroke="#414141" stroke-width="1.25" stroke-dasharray="2.9 2.0" stroke-linejoin="round"/>
<path d="M366.8 385.4 C367.5 384.2 369.3 380.4 371.3 377.9 C373.3 375.4 376.3 372.5 378.8 370.4 C381.3 368.3 383.8 365.4 386.3 365.4 C388.8 365.4 391.6 368.3 393.9 370.4 C396.1 372.5 398.6 373.9 399.6 377.9 C400.7 381.9 400.1 388.6 400.1 394.2 C400.1 399.9 399.6 405.9 399.6 411.8 C399.6 417.6 400.1 423.9 400.1 429.3 C400.1 434.8 399.8 440.1 399.6 444.4 C399.5 448.7 399.1 451.3 399.1 455.0 C399.1 458.8 399.7 463.1 399.7 467.1 C399.7 471.1 399.4 475.1 399.1 479.1 C398.9 483.1 398.2 487.2 398.1 491.2 C398.0 495.2 398.6 499.2 398.5 503.2 C398.5 507.2 398.3 511.2 397.7 515.2 C397.2 519.3 396.0 523.6 395.1 527.3 C394.2 531.0 393.3 534.3 392.1 537.3 C390.9 540.3 389.6 543.5 388.1 545.3 C386.6 547.2 384.9 548.4 383.1 548.4 C381.2 548.4 378.9 546.5 377.1 545.3 C375.2 544.2 373.5 543.0 372.0 541.3 C370.5 539.7 369.0 537.2 368.0 535.3 C367.0 533.5 366.3 531.1 366.0 530.3" fill="none" stroke="#414141" stroke-width="1.25" stroke-dasharray="2.9 2.0" stroke-linejoin="round"/>
<path d="M367.0 552.4 C367.4 553.4 368.5 556.6 369.0 558.4 C369.6 560.2 370.2 562.2 370.4 563.0" fill="none" stroke="#414141" stroke-width="1.25" stroke-linejoin="round"/>
<path d="M367.0 350.7 C368.2 349.7 371.5 346.5 374.0 345.1 C376.5 343.6 379.7 343.4 382.1 342.0 C384.4 340.7 386.2 338.9 388.1 337.0 C389.9 335.2 392.3 332.0 393.1 331.0" fill="none" stroke="#55ca5a" stroke-width="1.35" stroke-linejoin="round"/>
<path d="M467.4 331.4 C467.0 332.4 465.6 337.2 464.3 339.0 C463.1 340.9 460.2 343.9 458.3 345.1 C456.5 346.3 452.4 347.3 450.3 348.1 C448.2 348.9 444.4 349.9 442.3 351.1 C440.1 352.3 436.3 355.4 434.2 357.1 C432.2 358.8 428.8 362.0 427.2 364.1 C425.6 366.3 423.3 370.3 422.2 373.2 C421.1 376.0 419.8 381.7 419.2 385.2 C418.6 388.7 417.9 395.5 417.8 399.2 C417.7 403.0 417.9 409.8 418.2 413.3 C418.5 416.8 419.7 422.7 420.2 425.3 C420.7 428.0 420.9 431.1 422.2 433.4 C423.5 435.6 428.1 440.3 430.1 442.2 C432.0 444.1 434.8 446.3 436.8 447.6 C438.7 448.8 442.6 450.4 444.8 451.6 C446.9 452.9 450.8 455.6 452.8 457.0 C454.8 458.3 458.1 460.7 459.5 461.6 C460.9 462.6 463.4 463.5 463.5 464.3 C463.6 465.2 461.6 466.9 460.3 468.1 C459.1 469.3 455.9 472.0 454.3 473.1 C452.7 474.2 449.9 475.3 448.3 476.1 C446.7 476.9 443.9 478.2 442.3 479.1 C440.7 480.1 437.7 481.9 436.3 483.1 C434.8 484.3 432.4 486.8 431.2 488.2 C430.1 489.5 428.4 491.6 427.8 493.2 C427.3 494.8 427.0 498.3 427.2 500.2 C427.4 502.1 428.6 505.6 429.2 507.2 C429.9 508.8 431.4 511.7 432.2 512.2 C433.0 512.8 434.4 511.1 435.2 511.2 C436.1 511.4 437.7 512.2 438.3 513.2 C438.8 514.3 438.9 517.7 439.3 519.3 C439.7 520.9 440.6 523.8 441.3 525.3 C441.9 526.8 443.2 529.2 444.3 530.3 C445.4 531.4 448.0 532.5 449.3 533.3 C450.6 534.1 453.1 535.5 454.3 536.3 C455.5 537.1 457.4 538.3 458.3 539.3 C459.3 540.4 460.5 543.0 461.3 544.3 C462.1 545.7 463.7 548.0 464.3 549.4 C465.0 550.7 465.8 553.2 466.4 554.4 C466.9 555.6 467.7 558.1 468.4 558.4 C469.0 558.7 470.6 556.4 471.4 556.4 C472.2 556.4 473.4 557.5 474.4 558.4 C475.3 559.3 477.9 562.4 478.4 563.0" fill="none" stroke="#55ca5a" stroke-width="1.35" stroke-linejoin="round"/>
<path d="M366.0 457.0 C367.4 456.9 371.7 456.9 374.0 456.0 C376.4 455.2 378.1 452.8 380.1 452.0 C382.1 451.3 384.1 451.1 386.1 451.4 C388.1 451.8 390.1 452.8 392.1 454.0 C394.1 455.3 396.5 457.5 398.1 459.1 C399.8 460.6 401.3 461.4 402.1 463.1 C403.0 464.7 403.3 466.7 403.1 469.1 C403.0 471.4 402.0 474.4 401.1 477.1 C400.3 479.8 398.7 482.5 398.1 485.1 C397.6 487.8 397.4 491.0 397.7 493.2 C398.1 495.3 399.1 496.8 400.1 498.2 C401.2 499.5 403.0 501.0 404.1 501.2 C405.3 501.4 406.3 500.4 407.2 499.2 C408.0 498.0 408.6 495.5 409.2 494.2 C409.7 492.8 410.1 490.3 410.6 491.2 C411.0 492.0 411.4 496.2 411.8 499.2 C412.1 502.2 412.8 506.5 412.6 509.2 C412.3 511.9 411.6 513.9 410.2 515.2 C408.8 516.6 406.2 516.6 404.1 517.3 C402.1 517.9 400.0 518.7 398.1 519.3 C396.3 519.9 393.9 520.6 393.1 520.9" fill="none" stroke="#55ca5a" stroke-width="1.35" stroke-linejoin="round"/>
<path d="M366.0 494.2 C367.0 495.7 370.2 500.4 372.0 503.2 C373.9 506.0 375.4 508.7 377.1 511.2 C378.7 513.7 380.2 516.3 382.1 518.3 C383.9 520.2 387.1 521.9 388.1 522.7" fill="none" stroke="#55ca5a" stroke-width="1.35" stroke-linejoin="round"/>
<path d="M388.1 522.3 C388.2 521.1 388.5 519.4 389.1 518.9 C389.7 518.3 391.1 518.2 391.7 518.9 C392.3 519.5 392.6 521.6 392.5 522.9 C392.4 524.1 391.7 525.8 391.1 526.3 C390.5 526.8 389.2 526.4 388.7 525.7 C388.2 525.0 388.0 523.4 388.1 522.3Z" fill="none" stroke="#55ca5a" stroke-width="1.35" stroke-linejoin="round"/>
<path d="M581.4 553.8 C582.0 553.5 583.9 552.9 585.4 552.4 C586.9 551.8 588.9 550.9 590.4 550.4 C591.9 549.8 593.7 549.2 594.4 549.0" fill="none" stroke="#55ca5a" stroke-width="1.35" stroke-linejoin="round"/>
<path d="M582.0 553.8 C582.5 554.4 584.4 556.1 585.4 557.4 C586.4 558.7 587.5 560.7 588.0 561.4" fill="none" stroke="#55ca5a" stroke-width="1.35" stroke-linejoin="round"/>
<path d="M475.0 557.8 L478.4 562.4" fill="none" stroke="#55ca5a" stroke-width="1.35" stroke-linejoin="round"/>
<path d="M453.3 563.0 C453.8 562.6 455.3 560.4 456.3 560.4 C457.3 560.4 458.8 562.6 459.3 563.0" fill="none" stroke="#55ca5a" stroke-width="1.35" stroke-linejoin="round"/>
</g>
<rect x="366.70" y="331.50" width="227.40" height="231.20" fill="none" stroke="#1a1a1a" stroke-width="1.9"/>
<line x1="360.9" y1="331.5" x2="366.7" y2="331.5" stroke="#1a1a1a" stroke-width="1.6"/>
<text x="327.9" y="339.2" font-size="21.5" textLength="29.6" lengthAdjust="spacingAndGlyphs" fill="#111" stroke="#111" stroke-width="0.35">200</text>
<line x1="360.9" y1="431.1" x2="366.7" y2="431.1" stroke="#1a1a1a" stroke-width="1.6"/>
<text x="327.9" y="438.8" font-size="21.5" textLength="29.6" lengthAdjust="spacingAndGlyphs" fill="#111" stroke="#111" stroke-width="0.35">400</text>
<line x1="360.9" y1="489.3" x2="366.7" y2="489.3" stroke="#1a1a1a" stroke-width="1.6"/>
<text x="327.9" y="497.0" font-size="21.5" textLength="29.6" lengthAdjust="spacingAndGlyphs" fill="#111" stroke="#111" stroke-width="0.35">600</text>
<line x1="360.9" y1="530.6" x2="366.7" y2="530.6" stroke="#1a1a1a" stroke-width="1.6"/>
<text x="327.9" y="538.3" font-size="21.5" textLength="29.6" lengthAdjust="spacingAndGlyphs" fill="#111" stroke="#111" stroke-width="0.35">800</text>
<line x1="360.9" y1="562.7" x2="366.7" y2="562.7" stroke="#1a1a1a" stroke-width="1.6"/>
<text x="318.9" y="570.4" font-size="21.5" textLength="38.6" lengthAdjust="spacingAndGlyphs" fill="#111" stroke="#111" stroke-width="0.35">1000</text>
<line x1="366.7" y1="562.7" x2="366.7" y2="568.5" stroke="#1a1a1a" stroke-width="1.6"/>
<text x="352.4" y="587.0" font-size="20.4" textLength="28.6" lengthAdjust="spacingAndGlyphs" fill="#111" stroke="#111" stroke-width="0.35">40E</text>
<line x1="431.7" y1="562.7" x2="431.7" y2="568.5" stroke="#1a1a1a" stroke-width="1.6"/>
<text x="417.4" y="587.0" font-size="20.4" textLength="28.6" lengthAdjust="spacingAndGlyphs" fill="#111" stroke="#111" stroke-width="0.35">80E</text>
<line x1="496.6" y1="562.7" x2="496.6" y2="568.5" stroke="#1a1a1a" stroke-width="1.6"/>
<text x="477.7" y="587.0" font-size="20.4" textLength="37.8" lengthAdjust="spacingAndGlyphs" fill="#111" stroke="#111" stroke-width="0.35">120E</text>
<line x1="561.6" y1="562.7" x2="561.6" y2="568.5" stroke="#1a1a1a" stroke-width="1.6"/>
<text x="542.7" y="587.0" font-size="20.4" textLength="37.8" lengthAdjust="spacingAndGlyphs" fill="#111" stroke="#111" stroke-width="0.35">160E</text>
<text x="374.5" y="321.5" font-size="14.5" font-weight="bold" textLength="19.5" lengthAdjust="spacingAndGlyphs" fill="#111">(c)</text>
<text x="408.8" y="323.4" font-size="19.5" textLength="30.7" lengthAdjust="spacingAndGlyphs" fill="#111" stroke="#111" stroke-width="0.35">INH</text>
<g clip-path="url(#cpd)">
<path d="M97.2 622.0 C102.3 620.7 129.8 621.4 134.7 622.0 C139.6 622.6 134.7 625.1 133.9 626.4 C133.0 627.7 129.8 630.5 128.3 632.0 C126.7 633.5 123.9 636.3 122.3 637.6 C120.6 639.0 118.1 641.1 116.2 642.1 C114.4 643.1 110.1 644.3 108.2 645.1 C106.3 645.9 103.4 646.9 102.2 648.1 C101.0 649.3 100.0 652.0 99.2 654.1 C98.4 656.2 97.0 661.5 96.2 664.1 C95.4 666.8 94.0 671.2 93.2 674.2 C92.4 677.1 90.9 683.0 90.1 686.2 C89.3 689.4 87.9 695.3 87.1 698.3 C86.3 701.2 85.1 705.9 84.1 708.3 C83.2 710.7 81.4 714.4 80.1 716.3 C78.8 718.2 75.7 721.3 74.1 722.3 C72.5 723.4 69.7 724.2 68.1 724.3 C66.5 724.5 63.7 724.0 62.0 723.3 C60.4 722.7 57.4 720.5 56.0 719.3 C54.7 718.1 53.1 715.5 52.0 714.3 C50.9 713.1 48.5 715.9 48.0 710.3 C47.5 704.7 47.5 677.2 48.0 672.2 C48.5 667.1 50.6 672.8 51.4 672.2 C52.2 671.5 53.0 668.5 54.0 667.1 C55.0 665.8 57.4 663.5 59.0 662.1 C60.6 660.8 64.1 658.2 66.1 657.1 C68.1 656.0 71.9 654.6 74.1 654.1 C76.2 653.6 80.2 653.4 82.1 653.1 C84.0 652.8 86.7 652.9 88.1 652.1 C89.6 651.3 92.2 648.7 93.2 647.1 C94.1 645.5 94.8 642.1 95.2 640.1 C95.6 638.0 95.9 634.4 96.2 632.0 C96.4 629.6 92.0 623.3 97.2 622.0Z" fill="#8fcdf4"/>
<path d="M153.8 622.0 C141.8 622.5 153.8 625.2 153.4 626.4 C153.0 627.6 151.4 630.6 150.3 632.0 C149.3 633.5 145.7 637.4 144.3 639.1 C142.9 640.7 139.8 644.4 138.3 646.1 C136.8 647.7 132.8 651.6 131.3 653.1 C129.8 654.6 126.6 657.6 125.3 659.1 C124.0 660.6 121.3 664.4 120.2 666.1 C119.2 667.9 117.1 672.1 116.2 674.2 C115.4 676.3 113.7 681.9 113.2 684.2 C112.8 686.5 112.3 691.9 112.2 694.2 C112.1 696.6 112.4 701.9 112.6 704.3 C112.8 706.6 113.4 712.0 113.8 714.3 C114.2 716.6 115.3 722.1 115.8 724.3 C116.4 726.6 117.8 731.5 118.6 733.4 C119.5 735.2 122.1 739.6 123.3 740.4 C124.4 741.2 126.8 739.6 128.3 740.0 C129.8 740.4 134.4 743.1 136.3 744.0 C138.2 745.0 142.7 747.1 144.3 748.0 C146.0 749.0 149.2 750.9 150.3 752.0 C151.5 753.2 153.5 756.4 154.4 758.1 C155.2 759.7 156.8 764.0 157.4 766.1 C158.0 768.2 158.9 773.8 159.4 776.1 C159.8 778.5 160.8 784.2 161.4 786.2 C162.0 788.1 163.0 790.5 164.4 793.2 C165.8 795.9 171.6 806.8 173.0 809.2 C174.4 811.7 175.2 813.3 176.0 814.3 C176.8 815.2 178.9 817.0 180.0 817.3 C181.2 817.5 184.6 816.6 186.0 816.3 C187.5 816.0 190.7 814.9 192.1 814.7 C193.5 814.4 196.7 814.2 198.1 814.3 C199.5 814.3 202.7 815.0 204.1 815.3 C205.5 815.5 208.7 816.0 210.1 816.3 C211.5 816.5 214.7 817.0 216.2 817.3 C217.6 817.5 220.8 818.3 222.2 818.3 C223.6 818.3 226.9 817.6 228.2 817.3 C229.5 816.9 232.2 816.0 233.2 815.3 C234.3 814.6 236.6 812.3 237.2 811.2 C237.8 810.2 238.3 807.5 238.2 806.2 C238.1 804.9 236.8 801.6 236.2 800.2 C235.6 798.8 233.9 795.6 233.2 794.2 C232.5 792.8 230.4 789.5 230.2 788.2 C230.0 786.9 230.6 784.4 231.2 783.1 C231.8 781.9 234.2 778.4 235.2 777.1 C236.3 775.8 239.1 773.4 240.2 772.1 C241.3 770.8 243.9 767.7 244.6 766.1 C245.3 764.4 246.2 760.2 246.3 758.1 C246.3 756.0 245.6 750.1 245.2 748.0 C244.9 745.9 243.6 741.8 243.2 740.0 C242.9 738.2 242.6 734.7 242.2 732.4 C241.9 730.1 240.7 723.1 240.2 720.3 C239.8 717.5 238.7 711.1 238.2 708.3 C237.8 705.5 236.6 699.1 236.2 696.2 C235.9 693.4 235.2 686.8 235.2 684.2 C235.2 681.6 235.8 676.5 236.2 674.2 C236.7 671.8 238.4 666.5 239.2 664.1 C240.0 661.8 242.2 656.4 243.2 654.1 C244.3 651.8 247.2 646.4 248.3 644.1 C249.3 641.7 251.5 636.1 252.3 634.0 C253.1 632.0 254.9 627.8 255.3 626.4 C255.7 625.0 267.5 622.5 255.7 622.0 C243.8 621.5 165.7 621.5 153.8 622.0Z" fill="#fdbb38"/>
<path d="M148.3 645.1 C147.4 645.4 142.0 649.8 140.3 651.1 C138.7 652.4 135.7 654.7 134.3 656.1 C132.9 657.5 129.4 661.5 128.3 663.1 C127.1 664.8 125.0 668.4 124.3 670.2 C123.5 671.9 122.3 676.1 121.9 678.2 C121.4 680.3 120.7 685.6 120.6 688.2 C120.6 690.8 120.9 697.4 121.2 700.3 C121.6 703.1 122.7 709.6 123.3 712.3 C123.8 715.0 125.4 721.0 126.3 723.3 C127.1 725.7 129.1 730.5 130.3 732.4 C131.5 734.2 131.4 737.8 136.3 739.4 C141.2 741.0 167.1 745.1 172.0 746.0 C176.9 746.9 176.7 747.4 178.0 747.0 C179.3 746.7 180.3 746.1 183.0 743.0 C185.7 739.9 198.5 723.7 201.1 720.2 C203.7 716.6 204.4 714.5 205.3 712.6 C206.1 710.8 207.8 706.4 208.6 704.3 C209.4 702.1 211.3 696.6 211.9 694.2 C212.6 691.9 214.0 686.5 214.4 684.2 C214.9 681.9 215.8 676.5 216.1 674.2 C216.4 671.8 216.9 666.5 217.0 664.1 C217.0 661.8 216.8 656.2 216.6 654.1 C216.4 652.0 215.6 647.4 215.3 645.7 C214.9 644.1 214.2 640.3 213.6 639.9 C213.0 639.5 211.1 641.9 210.3 642.4 C209.4 642.9 207.2 643.9 206.1 644.1 C205.0 644.3 202.2 644.4 201.1 644.1 C199.9 643.8 197.1 642.1 196.1 641.6 C195.0 641.0 192.8 639.1 191.9 639.1 C190.9 639.1 188.7 640.9 187.7 641.6 C186.7 642.2 184.5 644.3 183.5 644.9 C182.5 645.5 180.4 646.4 179.3 646.6 C178.3 646.8 175.4 647.0 174.3 646.6 C173.2 646.2 171.1 643.9 170.1 643.2 C169.2 642.5 167.0 640.8 166.0 640.7 C164.9 640.6 162.2 641.8 160.9 642.4 C159.7 643.0 156.5 645.1 155.1 645.7 C153.6 646.4 149.2 648.3 148.4 648.2 C147.6 648.2 149.3 644.7 148.3 645.1Z" fill="#fc6a0c"/>
<path d="M130.3 684.2 C130.5 681.8 131.5 678.2 132.3 676.2 C133.1 674.2 135.1 670.8 136.3 669.2 C137.5 667.5 139.8 665.2 141.3 664.1 C142.8 663.1 146.8 661.5 147.3 661.1 C147.8 660.8 144.5 661.8 145.1 661.6 C145.6 661.5 150.0 660.1 151.7 660.0 C153.5 659.8 156.8 660.5 158.4 660.8 C160.1 661.1 163.1 661.6 164.3 662.5 C165.5 663.4 167.0 665.7 167.6 667.5 C168.2 669.3 168.6 673.4 168.8 675.8 C169.0 678.3 169.3 683.2 169.3 685.9 C169.3 688.5 168.8 693.2 168.5 695.9 C168.1 698.6 167.3 703.5 166.8 705.9 C166.2 708.4 165.2 712.4 164.3 714.3 C163.4 716.2 161.3 719.0 160.1 720.2 C158.9 721.3 156.6 722.6 155.1 722.7 C153.5 722.8 150.0 721.7 148.4 721.0 C146.8 720.3 144.7 718.9 143.4 717.6 C142.0 716.4 139.6 713.6 138.4 711.8 C137.1 710.0 135.2 706.4 134.2 704.3 C133.2 702.1 131.0 695.9 130.8 695.9 C130.7 695.9 133.3 704.5 133.3 704.3 C133.3 704.1 131.1 696.9 130.7 694.2 C130.3 691.6 130.1 686.6 130.3 684.2Z" fill="#e01708"/>
<path d="M143.4 683.4 C143.8 682.4 145.6 682.4 146.7 682.5 C147.8 682.7 149.5 683.2 150.1 684.2 C150.6 685.2 150.6 687.4 150.1 688.4 C149.5 689.4 147.7 690.1 146.7 690.1 C145.7 690.1 144.8 689.5 144.2 688.4 C143.7 687.3 143.0 684.3 143.4 683.4Z" fill="#a30a05"/>
<path d="M123.3 858.4 C121.0 857.6 127.0 852.7 128.3 851.4 C129.6 850.1 132.8 848.1 134.3 847.4 C135.8 846.7 139.9 845.4 141.3 845.4 C142.7 845.4 145.5 846.7 146.3 847.4 C147.2 848.1 148.2 850.1 148.3 851.4 C148.5 852.7 150.7 857.6 147.7 858.4 C144.8 859.2 125.5 859.2 123.3 858.4Z" fill="#8fcdf4"/>
<path d="M209.1 858.4 L219.2 846.4 L225.2 858.4Z" fill="#fdbb38"/>
<path d="M244.2 856.0 L253.3 854.4 L254.7 857.4 L244.2 857.4Z" fill="#fdbb38"/>
<path d="M173.6 783.3 L180.0 784.2 L180.0 785.2 L173.6 784.6Z" fill="#ffffff"/>
<path d="M67.7 757.7 L72.1 757.3 L72.1 758.7 L67.7 758.9Z" fill="#fdbb38"/>
<line x1="85.4" y1="626.9" x2="85.4" y2="857.2" stroke="#3c3c3c" stroke-width="1.4" stroke-dasharray="1.5 5.7"/>
<line x1="119.7" y1="626.9" x2="119.7" y2="857.2" stroke="#3c3c3c" stroke-width="1.4" stroke-dasharray="1.5 5.7"/>
<line x1="154.0" y1="626.9" x2="154.0" y2="857.2" stroke="#3c3c3c" stroke-width="1.4" stroke-dasharray="1.5 5.7"/>
<line x1="188.4" y1="626.9" x2="188.4" y2="857.2" stroke="#3c3c3c" stroke-width="1.4" stroke-dasharray="1.5 5.7"/>
<line x1="222.7" y1="626.9" x2="222.7" y2="857.2" stroke="#3c3c3c" stroke-width="1.4" stroke-dasharray="1.5 5.7"/>
<line x1="257.0" y1="626.9" x2="257.0" y2="857.2" stroke="#3c3c3c" stroke-width="1.4" stroke-dasharray="1.5 5.7"/>
<line x1="55.5" y1="684.3" x2="291.3" y2="684.3" stroke="#bcbcbc" stroke-width="1.3" stroke-dasharray="1.8 4.35"/>
<line x1="55.5" y1="725.6" x2="291.3" y2="725.6" stroke="#bcbcbc" stroke-width="1.3" stroke-dasharray="1.8 4.35"/>
<line x1="55.5" y1="757.7" x2="291.3" y2="757.7" stroke="#bcbcbc" stroke-width="1.3" stroke-dasharray="1.8 4.35"/>
<line x1="55.5" y1="783.9" x2="291.3" y2="783.9" stroke="#bcbcbc" stroke-width="1.3" stroke-dasharray="1.8 4.35"/>
<line x1="55.5" y1="806.0" x2="291.3" y2="806.0" stroke="#bcbcbc" stroke-width="1.3" stroke-dasharray="1.8 4.35"/>
<line x1="55.5" y1="825.2" x2="291.3" y2="825.2" stroke="#bcbcbc" stroke-width="1.3" stroke-dasharray="1.8 4.35"/>
<line x1="55.5" y1="842.1" x2="291.3" y2="842.1" stroke="#bcbcbc" stroke-width="1.3" stroke-dasharray="1.8 4.35"/>
<line x1="136.9" y1="626.1" x2="136.9" y2="857.2" stroke="#9632be" stroke-width="1.25" stroke-dasharray="2.9 2.1"/>
<path d="M125.7 623.0 C125.3 624.8 124.2 630.5 123.3 634.0 C122.4 637.5 121.2 641.1 120.2 644.1 C119.2 647.1 118.6 649.8 117.2 652.1 C115.9 654.4 114.1 656.6 112.2 658.1 C110.4 659.6 108.0 660.0 106.2 661.1 C104.4 662.3 102.5 663.3 101.2 665.1 C99.8 667.0 99.0 669.7 98.2 672.2 C97.3 674.7 97.0 677.8 96.2 680.2 C95.3 682.5 94.0 683.9 93.2 686.2 C92.3 688.6 91.7 691.2 91.1 694.2 C90.6 697.2 90.1 700.9 89.7 704.3 C89.4 707.6 89.2 711.0 89.1 714.3 C89.0 717.7 89.0 721.0 89.1 724.3 C89.2 727.7 89.5 731.8 89.7 734.4 C90.0 737.0 90.2 736.4 90.5 740.0 C90.9 743.6 91.1 750.7 91.7 756.1 C92.4 761.4 93.1 766.8 94.2 772.1 C95.2 777.5 96.8 782.8 98.2 788.2 C99.5 793.5 100.8 799.4 102.2 804.2 C103.5 809.1 104.7 813.6 106.2 817.3 C107.7 820.9 109.4 824.0 111.2 826.3 C113.1 828.6 115.2 830.1 117.2 831.3 C119.2 832.5 121.2 832.5 123.3 833.3 C125.3 834.2 127.3 835.0 129.3 836.3 C131.3 837.7 133.3 839.8 135.3 841.3 C137.3 842.8 139.1 844.3 141.3 845.4 C143.5 846.5 146.3 847.5 148.3 848.0 C150.3 848.5 152.0 849.3 153.4 848.4 C154.7 847.4 155.4 844.4 156.4 842.3 C157.4 840.3 158.2 837.8 159.4 836.3 C160.5 834.8 162.2 833.3 163.4 833.3 C164.6 833.3 165.0 834.5 166.4 836.3 C167.8 838.2 170.4 843.4 172.0 844.4 C173.6 845.4 174.8 843.7 176.0 842.3 C177.2 841.0 178.3 837.7 179.0 836.3 C179.8 835.0 179.9 833.8 180.4 834.3 C180.9 834.8 181.4 837.7 182.0 839.3 C182.6 841.0 182.7 843.3 184.0 844.4 C185.4 845.4 187.7 845.9 190.1 845.8 C192.4 845.6 195.6 844.3 198.1 843.4 C200.6 842.4 203.5 842.0 205.1 840.3 C206.7 838.7 207.1 837.2 207.7 833.3 C208.4 829.5 208.7 818.1 209.1 817.3 C209.6 816.4 210.0 825.0 210.5 828.3 C211.0 831.6 211.4 835.3 212.1 837.3 C212.9 839.4 213.8 840.3 215.1 840.7 C216.5 841.2 218.5 840.3 220.2 839.9 C221.8 839.5 223.5 838.9 225.2 838.3 C226.9 837.7 228.9 836.3 230.2 836.3 C231.5 836.3 232.2 838.2 233.2 838.3 C234.2 838.5 235.5 838.3 236.2 837.3 C236.9 836.3 237.3 834.5 237.2 832.3 C237.2 830.1 236.5 827.0 235.8 824.3 C235.1 821.6 234.0 818.9 233.2 816.3 C232.4 813.6 231.9 810.9 231.2 808.2 C230.5 805.6 230.0 802.9 229.2 800.2 C228.4 797.5 227.2 794.5 226.2 792.2 C225.2 789.8 224.0 786.9 223.2 786.2 C222.3 785.4 221.8 788.1 221.2 787.6 C220.5 787.1 220.0 785.1 219.2 783.1 C218.3 781.2 216.9 777.7 216.2 776.1 C215.4 774.5 215.0 773.2 214.5 773.5 C214.0 773.8 213.6 776.0 213.1 778.1 C212.7 780.2 212.2 783.5 211.7 786.2 C211.3 788.8 210.9 791.7 210.5 794.2 C210.2 796.7 210.2 801.2 209.7 801.2 C209.3 801.2 208.3 797.0 207.7 794.2 C207.1 791.3 206.7 787.8 206.1 784.2 C205.6 780.5 205.0 775.8 204.5 772.1 C204.0 768.4 203.8 764.8 203.1 762.1 C202.4 759.4 201.1 758.4 200.1 756.1 C199.1 753.7 198.0 750.7 197.1 748.0 C196.1 745.4 194.9 746.7 194.5 740.0 C194.0 733.3 194.5 715.8 194.4 707.6 C194.3 699.4 194.1 696.5 193.9 690.9 C193.7 685.3 193.5 678.9 193.2 674.2 C192.9 669.4 192.5 665.9 191.9 662.5 C191.2 659.0 190.3 655.6 189.4 653.3 C188.4 650.9 187.3 649.2 186.0 648.2 C184.8 647.3 183.0 646.9 181.8 647.4 C180.7 648.0 180.2 649.9 179.3 651.6 C178.5 653.3 177.7 656.6 176.8 657.4 C176.0 658.3 175.0 658.0 174.3 656.6 C173.6 655.2 173.3 652.0 172.6 649.1 C171.9 646.2 171.0 641.8 170.1 639.1 C169.3 636.3 168.6 633.8 167.6 632.4 C166.6 631.0 165.7 630.7 164.3 630.7 C162.9 630.7 160.8 632.4 159.3 632.4 C157.7 632.4 156.3 632.2 155.1 630.7 C153.8 629.2 152.3 624.4 151.7 623.2" fill="none" stroke="#414141" stroke-width="1.25" stroke-linejoin="round"/>
<path d="M93.8 740.0 C94.0 743.9 94.0 750.7 94.6 756.1 C95.1 761.4 96.1 766.8 97.2 772.1 C98.3 777.5 99.8 783.1 101.2 788.2 C102.5 793.2 103.9 797.9 105.2 802.2 C106.5 806.6 107.7 810.9 109.2 814.3 C110.7 817.6 112.4 820.4 114.2 822.3 C116.1 824.1 118.2 824.3 120.2 825.3 C122.3 826.3 124.3 827.0 126.3 828.3 C128.3 829.6 130.3 831.6 132.3 833.3 C134.3 835.0 136.3 836.8 138.3 838.3 C140.3 839.8 142.3 841.3 144.3 842.3 C146.3 843.4 148.7 844.5 150.3 844.4 C152.0 844.2 153.2 843.0 154.4 841.3 C155.5 839.7 156.4 836.5 157.4 834.3 C158.4 832.1 159.4 829.8 160.4 828.3 C161.4 826.8 162.4 825.3 163.4 825.3 C164.4 825.3 165.0 826.8 166.4 828.3 C167.8 829.8 170.6 833.7 172.0 834.3 C173.4 835.0 174.0 833.8 175.0 832.3 C176.0 830.8 177.2 826.9 178.0 825.3 C178.9 823.7 179.4 822.2 180.0 822.7 C180.7 823.2 181.3 826.4 182.0 828.3 C182.8 830.2 183.3 832.6 184.4 833.9 C185.6 835.2 187.5 835.8 189.1 835.9 C190.7 836.1 192.7 836.0 194.1 834.7 C195.4 833.5 196.5 831.4 197.1 828.3 C197.7 825.2 197.7 820.9 197.7 816.3 C197.7 811.6 197.4 805.6 197.1 800.2 C196.8 794.9 196.4 789.5 196.1 784.2 C195.7 778.8 195.5 773.4 195.1 768.1 C194.7 762.7 194.2 756.7 193.7 752.0 C193.2 747.4 192.7 747.4 192.1 740.0 C191.4 732.6 190.3 715.8 189.9 707.6 C189.4 699.4 189.6 695.6 189.4 690.9 C189.1 686.2 189.0 682.5 188.5 679.2 C188.1 675.8 187.4 672.9 186.5 670.8 C185.7 668.7 184.6 667.1 183.5 666.6 C182.5 666.2 181.1 667.1 180.2 668.3 C179.2 669.6 178.6 672.8 177.7 674.2 C176.7 675.6 175.3 677.4 174.3 676.7 C173.3 676.0 172.6 672.4 171.8 670.0 C171.0 667.6 170.3 664.6 169.3 662.5 C168.3 660.4 167.2 658.4 166.0 657.4 C164.7 656.5 163.3 656.6 161.8 656.6 C160.2 656.6 158.4 657.7 156.8 657.4 C155.1 657.2 153.0 656.3 151.7 654.9 C150.5 653.5 150.1 650.9 149.2 649.1 C148.3 647.3 147.6 647.0 146.4 644.1 C145.2 641.2 143.1 633.4 141.9 631.7 C140.7 630.0 140.2 633.0 139.3 634.0 C138.4 635.1 137.5 637.0 136.3 638.0 C135.1 639.1 133.6 639.2 132.3 640.1 C130.9 640.9 129.4 641.7 128.3 643.1 C127.1 644.4 126.4 646.2 125.3 648.1 C124.1 649.9 122.8 652.3 121.2 654.1 C119.7 655.9 117.9 657.6 116.2 659.1 C114.6 660.6 112.9 662.0 111.2 663.1 C109.5 664.3 107.7 664.6 106.2 666.1 C104.7 667.6 103.4 669.8 102.2 672.2 C101.0 674.5 100.0 677.8 99.2 680.2 C98.3 682.5 97.8 683.5 97.2 686.2 C96.5 688.9 95.8 692.6 95.2 696.2 C94.5 699.9 93.6 704.3 93.2 708.3 C92.7 712.3 92.6 716.3 92.6 720.3 C92.6 724.3 93.0 729.1 93.2 732.4 C93.4 735.6 93.5 736.1 93.8 740.0Z" fill="none" stroke="#414141" stroke-width="1.25" stroke-linejoin="round"/>
<path d="M115.2 740.0 C115.4 744.6 115.6 750.7 116.2 756.1 C116.9 761.4 118.1 767.1 119.2 772.1 C120.4 777.1 121.8 782.0 123.3 786.2 C124.8 790.3 126.4 794.0 128.3 797.2 C130.1 800.4 132.1 802.9 134.3 805.2 C136.5 807.6 139.0 809.7 141.3 811.2 C143.7 812.8 146.3 814.1 148.3 814.7 C150.3 815.2 151.9 815.6 153.4 814.7 C154.9 813.8 156.2 811.6 157.4 809.2 C158.5 806.8 159.4 803.4 160.4 800.2 C161.4 797.0 162.4 792.8 163.4 790.2 C164.4 787.5 165.0 782.8 166.4 784.2 C167.8 785.5 170.7 796.5 172.0 798.2 C173.3 799.9 173.3 796.2 174.0 794.2 C174.7 792.2 175.5 789.8 176.0 786.2 C176.5 782.5 177.0 777.1 177.0 772.1 C177.0 767.1 176.4 761.4 176.0 756.1 C175.6 750.7 175.4 745.3 174.4 740.0 C173.4 734.7 170.7 729.4 169.8 724.0 C168.9 718.6 169.5 712.6 169.3 707.6 C169.1 702.7 168.9 698.1 168.5 694.2 C168.0 690.3 167.5 686.8 166.8 684.2 C166.1 681.6 165.3 679.6 164.3 678.3 C163.3 677.1 162.2 676.5 160.9 676.7 C159.7 676.8 158.1 678.8 156.8 679.2 C155.4 679.6 153.8 679.9 152.6 679.2 C151.3 678.5 150.5 676.7 149.2 675.0 C148.0 673.3 146.6 670.8 145.1 669.2 C143.5 667.5 141.7 665.9 140.0 665.0 C138.4 664.0 136.3 663.6 135.0 663.3 C133.7 663.0 133.9 662.5 132.3 663.1 C130.7 663.8 127.3 665.3 125.3 667.1 C123.3 669.0 121.6 671.3 120.2 674.2 C118.9 677.0 118.0 680.5 117.2 684.2 C116.5 687.9 116.2 691.6 115.8 696.2 C115.5 700.9 115.3 706.9 115.2 712.3 C115.1 717.7 115.2 723.7 115.2 728.4 C115.2 733.0 115.1 735.4 115.2 740.0Z" fill="none" stroke="#414141" stroke-width="1.25" stroke-linejoin="round"/>
<path d="M121.2 740.0 C121.7 744.3 122.3 749.4 123.3 754.0 C124.3 758.7 125.8 764.1 127.3 768.1 C128.8 772.1 130.4 775.3 132.3 778.1 C134.1 781.0 136.3 783.3 138.3 785.2 C140.3 787.0 142.5 788.7 144.3 789.2 C146.2 789.7 147.9 789.3 149.3 788.2 C150.7 787.0 151.9 784.8 152.8 782.1 C153.6 779.5 153.9 775.8 154.4 772.1 C154.8 768.4 155.1 764.1 155.4 760.1 C155.6 756.1 156.9 754.0 156.0 748.0 C155.0 742.0 150.9 730.2 149.7 724.0 C148.5 717.8 149.0 715.4 148.7 711.0 C148.5 706.6 148.4 701.6 148.1 697.6 C147.7 693.5 147.4 689.6 146.7 686.7 C146.1 683.8 145.3 682.0 144.2 680.0 C143.1 678.1 141.6 676.3 140.0 675.0 C138.5 673.7 135.6 672.9 135.0 672.5 C134.4 672.1 137.1 672.5 136.3 672.8 C135.5 673.0 132.1 673.1 130.3 674.2 C128.4 675.2 126.6 677.2 125.3 679.2 C123.9 681.2 123.0 683.4 122.3 686.2 C121.5 689.1 121.0 691.9 120.6 696.2 C120.3 700.6 120.2 706.9 120.2 712.3 C120.2 717.7 120.5 723.7 120.6 728.4 C120.8 733.0 120.8 735.7 121.2 740.0Z" fill="none" stroke="#414141" stroke-width="1.25" stroke-linejoin="round"/>
<path d="M132.3 740.0 C133.2 743.6 132.6 746.7 133.3 750.0 C134.0 753.4 135.0 757.6 136.3 760.1 C137.6 762.6 139.8 764.6 141.3 765.1 C142.8 765.6 144.3 764.6 145.3 763.1 C146.3 761.6 147.1 758.9 147.3 756.1 C147.6 753.2 147.3 751.4 146.7 746.0 C146.1 740.7 144.3 729.8 143.7 724.0 C143.1 718.2 143.3 715.4 143.0 711.0 C142.8 706.6 142.4 701.3 142.0 697.6 C141.7 693.8 141.5 690.8 140.9 688.4 C140.3 686.0 139.3 684.5 138.4 683.4 C137.4 682.2 135.4 682.0 135.0 681.7 C134.7 681.4 136.8 681.5 136.3 681.8 C135.8 682.0 133.5 682.1 132.3 683.2 C131.1 684.3 129.9 686.0 129.3 688.2 C128.6 690.4 128.5 692.2 128.3 696.2 C128.0 700.3 127.9 706.9 127.9 712.3 C127.8 717.7 127.1 723.7 127.9 728.4 C128.6 733.0 131.4 736.4 132.3 740.0Z" fill="none" stroke="#414141" stroke-width="1.25" stroke-linejoin="round"/>
<path d="M204.4 651.6 C204.9 649.6 205.9 649.5 206.9 649.1 C207.9 648.7 209.3 648.4 210.3 649.1 C211.2 649.8 212.2 651.0 212.8 653.3 C213.3 655.5 213.5 659.0 213.6 662.5 C213.7 665.9 213.5 670.0 213.3 674.2 C213.1 678.3 212.7 683.4 212.3 687.5 C211.8 691.7 211.4 695.9 210.6 699.3 C209.8 702.6 208.7 706.1 207.8 707.6 C206.8 709.1 205.6 709.3 204.9 708.4 C204.2 707.6 203.8 705.5 203.6 702.6 C203.4 699.7 203.5 695.6 203.6 690.9 C203.6 686.2 203.9 679.2 203.9 674.2 C204.0 669.2 203.8 664.6 203.9 660.8 C204.0 657.0 203.9 653.5 204.4 651.6Z" fill="none" stroke="#414141" stroke-width="1.25" stroke-linejoin="round"/>
<path d="M214.1 804.2 C214.4 803.0 214.7 801.9 215.1 802.2 C215.5 802.5 216.4 804.6 216.6 806.2 C216.7 807.9 216.5 811.1 216.2 812.2 C215.8 813.4 214.9 813.8 214.5 813.2 C214.1 812.7 213.8 810.7 213.7 809.2 C213.7 807.7 213.9 805.4 214.1 804.2Z" fill="none" stroke="#414141" stroke-width="1.25" stroke-linejoin="round"/>
<path d="M292.0 668.6 C291.4 668.3 289.7 667.9 288.4 667.1 C287.1 666.4 285.7 665.5 284.4 664.1 C283.0 662.8 281.7 660.3 280.4 659.1 C279.0 657.9 277.7 656.9 276.4 657.1 C275.0 657.3 273.7 658.3 272.3 660.1 C271.0 662.0 269.4 664.1 268.3 668.2 C267.3 672.2 266.5 678.2 265.9 684.2 C265.3 690.2 264.9 697.6 264.7 704.3 C264.5 711.0 264.4 718.4 264.7 724.3 C265.0 730.3 265.7 735.4 266.3 740.0 C266.9 744.6 267.6 747.7 268.3 752.0 C269.1 756.4 269.9 761.4 270.7 766.1 C271.6 770.8 272.4 775.5 273.3 780.1 C274.3 784.8 275.4 789.8 276.4 794.2 C277.4 798.5 278.0 803.7 279.4 806.2 C280.7 808.7 282.9 808.6 284.4 809.2 C285.9 809.9 287.1 810.5 288.4 810.2 C289.7 810.0 291.4 808.2 292.0 807.8" fill="none" stroke="#414141" stroke-width="1.25" stroke-linejoin="round"/>
<path d="M269.9 686.2 C270.5 681.2 271.4 676.8 272.3 674.2 C273.2 671.6 274.3 670.9 275.4 670.6 C276.4 670.2 277.4 670.9 278.4 672.2 C279.4 673.4 280.6 675.2 281.4 678.2 C282.1 681.2 282.4 685.2 282.8 690.2 C283.1 695.2 283.4 701.9 283.4 708.3 C283.4 714.6 282.9 723.1 282.8 728.4 C282.6 733.6 282.4 736.1 282.4 740.0 C282.4 743.9 282.8 748.4 282.8 752.0 C282.8 755.7 282.8 759.6 282.4 762.1 C282.0 764.6 281.1 767.1 280.4 767.1 C279.6 767.1 278.6 764.6 278.0 762.1 C277.3 759.6 276.8 755.7 276.4 752.0 C275.9 748.4 276.5 744.6 275.4 740.0 C274.2 735.4 270.4 730.3 269.3 724.3 C268.3 718.4 268.8 710.6 268.9 704.3 C269.0 697.9 269.4 691.2 269.9 686.2Z" fill="none" stroke="#414141" stroke-width="1.25" stroke-linejoin="round"/>
<path d="M50.5 720.6 C51.1 724.4 54.0 742.2 54.8 749.4 C55.5 756.6 55.5 767.8 56.0 774.5 C56.5 781.2 57.9 793.6 58.5 799.6 C59.2 805.6 60.2 816.0 61.0 819.6 C61.9 823.3 63.5 826.5 64.8 827.2 C66.1 827.8 68.9 825.2 71.1 824.7 C73.3 824.2 78.8 823.7 81.1 823.4 C83.5 823.1 87.4 824.0 88.6 822.1 C89.9 820.3 90.8 814.3 90.6 809.6 C90.5 804.9 88.3 793.4 87.4 787.0 C86.4 780.7 84.4 768.6 83.6 761.9 C82.9 755.3 82.0 743.6 81.6 736.9 C81.2 730.2 80.8 718.5 80.6 711.8 C80.4 705.1 80.3 692.1 79.9 686.7 C79.4 681.4 78.5 674.4 77.4 671.7 C76.2 668.9 72.8 665.8 71.1 666.1 C69.4 666.5 66.1 670.8 64.8 674.2 C63.5 677.6 61.9 687.0 61.0 691.7 C60.2 696.4 59.2 709.3 58.5 709.3 C57.9 709.3 56.7 695.7 56.0 691.7 C55.4 687.7 54.3 681.7 53.5 679.2 C52.8 676.7 50.9 673.7 50.5 672.9" fill="none" stroke="#414141" stroke-width="1.25" stroke-dasharray="2.9 2.0" stroke-linejoin="round"/>
<path d="M230.2 665.1 C229.0 665.1 227.5 665.6 226.2 667.1 C224.8 668.7 223.2 671.0 222.2 674.2 C221.1 677.3 220.4 681.9 219.8 686.2 C219.1 690.6 218.6 695.2 218.2 700.3 C217.7 705.3 217.5 711.0 217.2 716.3 C216.8 721.7 216.3 728.4 216.2 732.4 C216.0 736.3 216.1 737.1 216.2 740.0 C216.2 742.9 216.0 746.9 216.6 750.0 C217.1 753.2 218.1 756.6 219.2 759.1 C220.3 761.6 221.8 762.9 223.2 765.1 C224.5 767.3 225.8 769.8 227.2 772.1 C228.5 774.5 230.0 776.8 231.2 779.1 C232.4 781.5 233.2 784.0 234.2 786.2 C235.2 788.3 236.1 790.5 237.2 792.2 C238.4 793.8 239.7 794.9 241.2 796.2 C242.7 797.5 244.7 799.4 246.3 800.2 C247.8 801.0 249.1 801.5 250.3 801.2 C251.4 800.9 252.5 798.4 253.3 798.2 C254.0 798.0 254.2 799.0 254.7 800.2 C255.2 801.4 255.6 803.9 256.3 805.2 C257.0 806.6 257.9 807.9 258.7 808.2 C259.5 808.6 260.7 808.6 261.3 807.2 C261.9 805.9 262.2 803.0 262.3 800.2 C262.4 797.4 262.2 793.5 261.9 790.2 C261.6 786.8 260.9 783.5 260.3 780.1 C259.7 776.8 259.0 773.4 258.3 770.1 C257.6 766.8 257.0 763.4 256.3 760.1 C255.6 756.7 254.9 753.4 254.3 750.0 C253.7 746.7 253.0 742.3 252.7 740.0 C252.3 737.7 252.5 739.7 252.3 736.4 C252.0 733.1 251.8 725.7 251.3 720.3 C250.8 715.0 249.9 709.3 249.3 704.3 C248.6 699.3 248.1 694.1 247.3 690.2 C246.4 686.4 245.4 683.4 244.2 681.2 C243.1 679.0 241.6 678.7 240.2 677.2 C238.9 675.7 237.4 673.8 236.2 672.2 C235.0 670.5 234.2 668.3 233.2 667.1 C232.2 666.0 231.4 665.1 230.2 665.1Z" fill="none" stroke="#414141" stroke-width="1.25" stroke-dasharray="2.9 2.0" stroke-linejoin="round"/>
<path d="M239.2 755.1 C239.6 754.0 240.4 752.5 241.2 752.0 C242.1 751.6 243.5 751.8 244.2 752.4 C245.0 753.1 245.8 754.9 245.9 756.1 C245.9 757.3 245.4 758.9 244.6 759.7 C243.9 760.4 242.1 760.7 241.2 760.5 C240.3 760.2 239.6 759.0 239.2 758.1 C238.9 757.2 238.9 756.1 239.2 755.1Z" fill="none" stroke="#414141" stroke-width="1.25" stroke-dasharray="2.9 2.0" stroke-linejoin="round"/>
<path d="M151.8 623.0 C151.0 624.2 148.0 630.2 146.3 632.0 C144.7 633.9 141.2 635.7 139.3 637.0 C137.4 638.4 134.0 640.6 132.3 642.1 C130.5 643.5 127.9 646.2 126.3 648.1 C124.7 650.0 121.9 654.0 120.2 656.1 C118.6 658.2 115.8 662.1 114.2 664.1 C112.6 666.1 109.5 669.0 108.2 671.2 C106.9 673.3 105.0 677.4 104.2 680.2 C103.3 683.0 102.3 689.0 101.8 692.2 C101.3 695.4 100.7 701.1 100.6 704.3 C100.5 707.5 100.8 713.1 101.2 716.3 C101.5 719.5 102.5 725.2 103.2 728.4 C103.9 731.5 105.0 737.6 106.2 740.0 C107.4 742.4 110.3 744.5 112.2 746.0 C114.1 747.5 118.1 749.8 120.2 751.0 C122.4 752.2 126.3 754.1 128.3 755.1 C130.3 756.0 134.1 757.5 135.3 758.1 C136.5 758.6 137.4 758.3 137.3 759.1 C137.2 759.9 135.2 762.3 134.3 764.1 C133.4 765.8 131.2 770.0 130.3 772.1 C129.3 774.2 127.5 778.0 127.3 780.1 C127.0 782.3 127.6 786.0 128.3 788.2 C128.9 790.3 131.2 794.1 132.3 796.2 C133.4 798.3 135.2 802.1 136.3 804.2 C137.4 806.4 139.2 810.1 140.3 812.2 C141.4 814.4 143.3 818.1 144.3 820.3 C145.4 822.4 147.4 826.2 148.3 828.3 C149.3 830.4 150.7 834.5 151.4 836.3 C152.0 838.2 152.8 840.7 153.4 842.3 C153.9 844.0 154.9 846.2 155.4 848.4 C155.8 850.5 156.6 857.1 156.8 858.4" fill="none" stroke="#55ca5a" stroke-width="1.35" stroke-linejoin="round"/>
<path d="M63.1 626.0 C63.6 626.4 64.9 627.9 66.1 628.4 C67.2 628.9 68.9 629.3 70.1 629.0 C71.2 628.7 72.6 627.0 73.1 626.6" fill="none" stroke="#55ca5a" stroke-width="1.35" stroke-linejoin="round"/>
<path d="M51.6 756.1 C52.2 754.9 53.6 750.9 55.0 749.0 C56.4 747.2 57.9 745.9 60.0 745.0 C62.2 744.1 65.4 743.7 68.1 743.6 C70.7 743.5 73.9 743.7 76.1 744.4 C78.3 745.2 79.8 746.1 81.1 748.0 C82.5 750.0 83.1 753.0 84.1 756.1 C85.1 759.1 86.0 763.1 87.1 766.1 C88.3 769.1 89.6 771.6 91.1 774.1 C92.7 776.6 94.9 778.5 96.2 781.1 C97.4 783.8 98.1 787.0 98.6 790.2 C99.1 793.3 99.4 797.2 99.2 800.2 C98.9 803.2 98.2 806.2 97.2 808.2 C96.2 810.2 94.7 811.1 93.2 812.2 C91.6 813.4 89.0 814.8 88.1 815.3" fill="none" stroke="#55ca5a" stroke-width="1.35" stroke-linejoin="round"/>
<path d="M83.7 814.7 C83.8 813.4 84.0 811.3 84.5 810.6 C85.1 810.0 86.5 809.9 87.1 810.6 C87.7 811.4 88.2 813.8 88.1 815.3 C88.0 816.7 87.2 818.8 86.5 819.3 C85.9 819.8 84.6 819.0 84.1 818.3 C83.7 817.5 83.7 815.9 83.7 814.7Z" fill="none" stroke="#55ca5a" stroke-width="1.35" stroke-linejoin="round"/>
<path d="M83.7 815.3 C83.3 814.9 82.4 814.4 81.1 813.2 C79.8 812.1 77.6 809.5 76.1 808.2 C74.6 807.0 73.3 805.7 72.1 805.8 C70.9 806.0 69.7 807.5 69.1 809.2 C68.4 811.0 68.2 813.4 68.1 816.3 C67.9 819.1 67.9 823.3 68.1 826.3 C68.2 829.3 68.4 832.0 69.1 834.3 C69.7 836.7 70.6 838.7 72.1 840.3 C73.6 842.0 75.8 843.5 78.1 844.4 C80.4 845.2 83.6 845.0 86.1 845.4 C88.6 845.7 91.1 845.9 93.2 846.4 C95.2 846.9 96.9 846.4 98.2 848.4 C99.5 850.4 100.5 856.7 101.0 858.4" fill="none" stroke="#55ca5a" stroke-width="1.35" stroke-linejoin="round"/>
<path d="M51.6 806.2 C52.3 805.8 54.8 805.1 56.0 805.2 C57.3 805.4 57.9 807.3 59.0 807.2 C60.2 807.1 61.7 804.6 63.1 804.6 C64.4 804.6 67.1 806.5 67.1 807.2 C67.1 808.0 64.4 809.1 63.1 809.2 C61.7 809.3 60.2 807.8 59.0 807.8 C57.9 807.8 57.3 809.2 56.0 809.2 C54.8 809.2 52.3 808.3 51.6 807.8 C50.9 807.3 50.9 806.7 51.6 806.2Z" fill="none" stroke="#55ca5a" stroke-width="1.35" stroke-linejoin="round"/>
<path d="M161.4 857.4 C161.7 856.7 162.6 853.9 163.4 853.4 C164.2 852.9 165.6 853.7 166.4 854.4 C167.2 855.1 168.1 856.9 168.4 857.4" fill="none" stroke="#55ca5a" stroke-width="1.35" stroke-linejoin="round"/>
</g>
<rect x="51.10" y="626.10" width="240.20" height="231.10" fill="none" stroke="#1a1a1a" stroke-width="1.9"/>
<line x1="45.3" y1="626.1" x2="51.1" y2="626.1" stroke="#1a1a1a" stroke-width="1.6"/>
<text x="12.3" y="633.8" font-size="21.5" textLength="29.6" lengthAdjust="spacingAndGlyphs" fill="#111" stroke="#111" stroke-width="0.35">200</text>
<line x1="45.3" y1="725.6" x2="51.1" y2="725.6" stroke="#1a1a1a" stroke-width="1.6"/>
<text x="12.3" y="733.3" font-size="21.5" textLength="29.6" lengthAdjust="spacingAndGlyphs" fill="#111" stroke="#111" stroke-width="0.35">400</text>
<line x1="45.3" y1="783.9" x2="51.1" y2="783.9" stroke="#1a1a1a" stroke-width="1.6"/>
<text x="12.3" y="791.6" font-size="21.5" textLength="29.6" lengthAdjust="spacingAndGlyphs" fill="#111" stroke="#111" stroke-width="0.35">600</text>
<line x1="45.3" y1="825.2" x2="51.1" y2="825.2" stroke="#1a1a1a" stroke-width="1.6"/>
<text x="12.3" y="832.9" font-size="21.5" textLength="29.6" lengthAdjust="spacingAndGlyphs" fill="#111" stroke="#111" stroke-width="0.35">800</text>
<line x1="45.3" y1="857.2" x2="51.1" y2="857.2" stroke="#1a1a1a" stroke-width="1.6"/>
<text x="3.3" y="864.9" font-size="21.5" textLength="38.6" lengthAdjust="spacingAndGlyphs" fill="#111" stroke="#111" stroke-width="0.35">1000</text>
<line x1="51.1" y1="857.2" x2="51.1" y2="863.0" stroke="#1a1a1a" stroke-width="1.6"/>
<text x="36.8" y="881.5" font-size="20.4" textLength="28.6" lengthAdjust="spacingAndGlyphs" fill="#111" stroke="#111" stroke-width="0.35">40E</text>
<line x1="119.7" y1="857.2" x2="119.7" y2="863.0" stroke="#1a1a1a" stroke-width="1.6"/>
<text x="105.4" y="881.5" font-size="20.4" textLength="28.6" lengthAdjust="spacingAndGlyphs" fill="#111" stroke="#111" stroke-width="0.35">80E</text>
<line x1="188.4" y1="857.2" x2="188.4" y2="863.0" stroke="#1a1a1a" stroke-width="1.6"/>
<text x="169.5" y="881.5" font-size="20.4" textLength="37.8" lengthAdjust="spacingAndGlyphs" fill="#111" stroke="#111" stroke-width="0.35">120E</text>
<line x1="257.0" y1="857.2" x2="257.0" y2="863.0" stroke="#1a1a1a" stroke-width="1.6"/>
<text x="238.1" y="881.5" font-size="20.4" textLength="37.8" lengthAdjust="spacingAndGlyphs" fill="#111" stroke="#111" stroke-width="0.35">160E</text>
<text x="60.2" y="615.8" font-size="14.5" font-weight="bold" textLength="19.5" lengthAdjust="spacingAndGlyphs" fill="#111">(d)</text>
<text x="94.5" y="617.7" font-size="19.5" textLength="40.7" lengthAdjust="spacingAndGlyphs" fill="#111" stroke="#111" stroke-width="0.35">SHC</text>
<g clip-path="url(#cpe)">
<path d="M403.1 626.0 C409.5 624.3 444.4 625.3 450.7 626.0 C457.0 626.7 451.2 629.5 450.3 631.0 C449.4 632.5 446.2 635.4 444.3 637.0 C442.4 638.6 438.4 641.7 436.3 643.1 C434.1 644.4 430.4 646.1 428.2 647.1 C426.1 648.0 421.9 649.3 420.2 650.1 C418.5 650.9 416.3 651.8 415.2 653.1 C414.1 654.4 413.0 658.1 412.2 660.1 C411.4 662.1 410.0 665.9 409.2 668.1 C408.4 670.4 407.0 674.8 406.2 677.2 C405.3 679.6 404.1 683.8 403.1 686.2 C402.2 688.6 400.2 693.4 399.1 695.2 C398.1 697.1 396.2 699.7 395.1 700.3 C394.0 700.8 392.4 699.9 391.1 699.2 C389.8 698.6 386.7 696.2 385.1 695.2 C383.5 694.3 380.7 692.9 379.1 692.2 C377.5 691.6 374.4 690.8 373.0 690.2 C371.7 689.7 369.7 688.9 369.0 688.2 C368.4 687.5 367.6 686.1 368.0 685.2 C368.4 684.3 370.8 682.4 372.0 681.2 C373.2 680.0 376.0 677.6 377.1 676.2 C378.1 674.7 379.4 671.9 380.1 670.2 C380.7 668.4 381.1 664.5 382.1 663.1 C383.0 661.8 385.5 660.8 387.1 660.1 C388.7 659.4 392.2 658.9 394.1 658.1 C396.0 657.3 399.8 655.6 401.1 654.1 C402.5 652.6 403.9 649.1 404.1 647.1 C404.4 645.1 403.3 641.9 403.1 639.0 C403.0 636.2 396.8 627.7 403.1 626.0Z" fill="#8fcdf4"/>
<path d="M382.1 832.3 C382.5 831.3 384.0 829.1 385.1 828.3 C386.1 827.5 388.8 826.4 390.1 826.3 C391.4 826.2 393.9 826.6 395.1 827.3 C396.3 828.0 398.9 830.2 399.1 831.3 C399.4 832.4 398.2 834.5 397.1 835.3 C396.0 836.1 392.7 836.9 391.1 837.3 C389.5 837.7 386.3 838.5 385.1 838.3 C383.9 838.1 382.5 836.7 382.1 835.9 C381.7 835.1 381.7 833.3 382.1 832.3Z" fill="#8fcdf4"/>
<path d="M429.2 854.8 C426.5 854.2 431.2 850.4 432.2 849.4 C433.3 848.4 436.6 846.8 438.3 846.4 C439.9 845.9 444.5 845.2 446.3 845.4 C448.0 845.5 452.1 846.8 453.3 847.4 C454.5 848.0 456.0 849.5 456.3 850.4 C456.6 851.2 458.9 854.3 455.7 854.8 C452.6 855.3 432.0 855.4 429.2 854.8Z" fill="#8fcdf4"/>
<path d="M495.1 626.0 C502.4 625.3 550.4 625.3 557.7 626.0 C564.9 626.7 557.8 630.4 557.3 631.6 C556.8 632.8 554.3 634.8 553.3 636.0 C552.2 637.3 549.5 640.9 548.2 642.1 C547.0 643.2 543.5 644.9 542.2 646.1 C540.9 647.2 538.3 650.4 537.2 652.1 C536.2 653.7 534.0 658.2 533.2 660.1 C532.4 662.0 530.7 666.0 530.2 668.1 C529.6 670.3 528.8 675.6 528.6 678.2 C528.4 680.8 528.4 687.6 528.6 690.2 C528.7 692.8 529.4 697.9 529.8 700.3 C530.2 702.6 531.6 707.9 532.2 710.3 C532.8 712.6 534.5 718.0 535.2 720.3 C535.9 722.7 537.6 728.2 538.2 730.4 C538.8 732.5 539.8 737.3 540.2 738.4 C540.7 739.5 541.6 739.1 542.2 740.0 C542.8 740.9 544.3 744.7 545.2 746.0 C546.2 747.3 549.0 750.0 550.3 751.0 C551.5 752.1 554.9 754.3 556.3 755.1 C557.7 755.8 561.2 757.3 562.3 757.7 C563.3 758.1 565.5 757.9 565.3 758.5 C565.1 759.0 561.5 761.2 560.3 762.1 C559.1 763.0 556.7 765.4 555.3 766.1 C553.9 766.8 550.0 767.8 548.2 768.1 C546.5 768.4 541.9 768.3 540.2 768.5 C538.6 768.7 535.6 769.3 534.2 769.7 C532.8 770.1 529.6 771.5 528.2 772.1 C526.8 772.7 523.6 774.4 522.2 775.1 C520.8 775.8 517.5 777.5 516.1 778.1 C514.7 778.7 511.4 779.7 510.1 780.1 C508.8 780.6 506.0 781.8 505.1 782.1 C504.2 782.5 502.0 782.6 502.1 783.1 C502.2 783.7 504.9 786.2 506.1 787.2 C507.3 788.1 510.6 790.1 512.1 791.2 C513.6 792.2 517.5 795.1 519.1 796.2 C520.8 797.2 524.5 799.4 526.2 800.2 C527.8 801.0 532.1 802.6 533.2 803.2 C534.2 803.8 535.3 804.4 535.2 805.2 C535.1 806.0 533.0 809.1 532.2 810.2 C531.4 811.4 529.2 814.0 528.2 815.3 C527.1 816.5 524.3 820.0 523.2 821.3 C522.0 822.6 519.1 825.5 518.1 826.3 C517.2 827.1 515.8 828.5 515.1 828.3 C514.4 828.1 512.9 825.2 512.1 824.3 C511.3 823.4 509.0 821.0 508.1 820.3 C507.2 819.6 504.9 818.3 504.1 818.3 C503.3 818.3 501.8 819.6 501.1 820.3 C500.4 821.0 498.8 824.2 498.1 824.3 C497.4 824.4 495.7 821.3 495.1 821.3 C494.5 821.3 493.5 823.2 493.1 824.3 C492.6 825.3 491.5 828.9 491.1 830.3 C490.6 831.7 489.5 836.1 489.0 836.3 C488.6 836.6 487.5 832.5 487.0 832.3 C486.6 832.1 485.5 833.4 485.0 834.3 C484.6 835.3 483.4 838.9 483.0 840.3 C482.7 841.7 482.4 846.1 482.0 846.4 C481.7 846.6 480.5 843.5 480.0 842.3 C479.5 841.2 478.5 837.6 478.0 836.3 C477.5 835.0 476.7 832.7 476.0 831.3 C475.3 829.9 473.3 825.8 472.4 824.3 C471.5 822.8 469.3 819.7 468.4 818.3 C467.4 816.9 465.1 813.7 464.3 812.2 C463.6 810.8 462.1 807.4 462.3 806.2 C462.6 805.1 465.4 803.3 466.4 802.2 C467.3 801.2 469.4 798.6 470.4 797.2 C471.3 795.8 473.4 791.7 474.4 790.2 C475.3 788.6 477.7 785.1 478.4 784.2 C479.1 783.2 480.5 782.2 480.4 781.7 C480.3 781.3 478.4 780.8 477.4 780.1 C476.4 779.4 473.1 777.1 472.0 775.7 C470.8 774.3 468.2 769.9 467.4 768.1 C466.5 766.3 465.3 761.9 464.7 760.1 C464.2 758.2 463.1 753.6 462.3 752.0 C461.6 750.5 459.5 747.8 458.3 747.0 C457.2 746.2 453.9 745.3 452.3 745.0 C450.7 744.7 446.0 744.7 444.3 744.4 C442.5 744.1 438.8 742.9 437.3 742.4 C435.7 741.9 432.5 741.6 431.2 740.4 C429.9 739.2 427.2 734.5 426.2 732.4 C425.3 730.3 423.7 724.7 423.2 722.3 C422.7 720.0 422.0 714.6 421.8 712.3 C421.6 710.0 421.2 704.6 421.2 702.3 C421.2 699.9 421.5 694.4 421.8 692.2 C422.2 690.0 423.3 685.2 424.2 683.2 C425.1 681.2 427.9 676.9 429.2 675.2 C430.5 673.4 433.7 669.7 435.2 668.1 C436.8 666.6 440.5 663.4 442.3 662.1 C444.0 660.8 448.4 658.3 450.3 657.1 C452.2 655.9 456.5 653.1 458.3 652.1 C460.2 651.0 464.5 648.9 466.4 648.1 C468.2 647.3 473.3 645.7 474.4 645.1 C475.5 644.5 475.1 643.6 476.0 643.1 C476.9 642.5 480.6 640.9 482.0 640.0 C483.4 639.2 486.5 637.0 488.0 636.0 C489.6 635.1 494.2 633.2 495.1 632.0 C495.9 630.8 487.8 626.7 495.1 626.0Z" fill="#fdbb38"/>
<path d="M431.2 694.2 C431.4 691.7 432.5 686.3 433.2 684.2 C433.9 682.1 436.1 677.9 437.3 676.2 C438.4 674.4 441.8 670.7 443.3 669.1 C444.8 667.6 448.5 664.3 450.3 663.1 C452.1 662.0 456.5 659.9 458.3 659.1 C460.2 658.3 464.5 656.6 466.4 656.1 C468.2 655.6 472.6 655.2 474.4 655.1 C476.2 655.0 480.4 654.9 482.0 655.1 C483.6 655.3 486.6 656.6 488.0 657.1 C489.4 657.6 492.8 658.6 494.1 659.1 C495.3 659.6 498.1 660.3 499.1 661.1 C500.0 661.9 501.6 664.1 502.1 666.1 C502.6 668.1 503.0 675.1 503.1 678.2 C503.1 681.2 502.7 688.9 502.5 692.2 C502.3 695.5 501.9 703.0 501.7 706.3 C501.5 709.6 500.8 717.0 500.5 720.3 C500.2 723.6 499.6 732.1 499.1 734.4 C498.6 736.7 496.5 738.9 496.1 740.0 C495.6 741.1 495.4 742.8 495.1 744.0 C494.7 745.2 493.5 748.5 493.1 750.0 C492.6 751.6 491.8 755.9 491.1 757.1 C490.3 758.2 487.9 760.2 487.0 760.1 C486.2 760.0 484.8 757.2 484.0 756.1 C483.2 754.9 481.0 751.2 480.0 750.0 C479.1 748.9 476.2 745.8 476.0 746.0 C475.8 746.3 478.8 751.8 478.4 752.0 C478.0 752.3 473.8 749.0 472.4 748.0 C471.0 747.1 467.8 745.0 466.4 744.0 C465.0 743.1 462.1 740.3 460.3 740.0 C458.6 739.7 453.2 741.9 451.3 741.4 C449.4 740.9 445.8 737.0 444.3 735.4 C442.8 733.7 439.4 729.5 438.3 727.3 C437.1 725.2 435.0 719.8 434.2 717.3 C433.5 714.9 432.2 709.0 431.8 706.3 C431.5 703.6 431.1 696.8 431.2 694.2Z" fill="#fc6a0c"/>
<path d="M442.3 676.2 C443.7 674.2 446.6 670.6 448.3 669.1 C450.0 667.7 453.4 665.7 455.3 665.1 C457.2 664.6 460.3 664.7 462.3 665.1 C464.3 665.5 468.4 667.3 470.4 668.1 C472.4 668.9 476.6 670.5 477.4 671.2 C478.1 671.8 475.9 672.5 476.0 673.2 C476.1 673.8 477.5 674.4 478.0 676.2 C478.5 677.9 479.3 682.7 479.6 686.2 C479.9 689.7 480.1 698.2 480.0 702.3 C479.9 706.3 479.5 713.1 479.0 716.3 C478.5 719.5 476.1 725.0 476.0 726.3 C475.9 727.7 479.1 725.8 478.4 726.3 C477.6 726.9 472.8 729.7 470.4 730.4 C468.0 731.0 462.9 731.5 460.3 731.4 C457.8 731.2 453.4 730.3 451.3 729.4 C449.2 728.4 445.9 726.1 444.3 724.3 C442.7 722.6 440.3 718.7 439.3 716.3 C438.2 713.9 436.8 709.2 436.3 706.3 C435.7 703.3 435.1 697.2 435.2 694.2 C435.4 691.3 436.3 686.6 437.3 684.2 C438.2 681.8 440.8 678.2 442.3 676.2Z" fill="#e01708"/>
<path d="M443.3 684.2 C444.0 682.8 444.9 681.4 446.3 680.6 C447.6 679.7 449.6 679.1 451.3 679.2 C453.0 679.3 455.2 680.0 456.3 681.2 C457.5 682.4 457.9 684.0 458.3 686.2 C458.7 688.4 458.9 691.7 458.7 694.2 C458.6 696.7 458.1 699.2 457.3 701.3 C456.6 703.3 455.5 705.3 454.3 706.3 C453.1 707.3 451.6 707.8 450.3 707.3 C449.0 706.8 447.5 705.1 446.3 703.3 C445.1 701.4 444.0 698.6 443.3 696.2 C442.5 693.9 441.9 691.2 441.9 689.2 C441.9 687.2 442.5 685.6 443.3 684.2Z" fill="#a30a05"/>
<path d="M516.1 855.4 C511.7 854.5 520.4 847.1 521.2 846.4 C522.0 845.7 523.3 848.1 524.2 848.4 C525.1 848.7 528.8 849.4 530.2 849.4 C531.6 849.3 536.6 848.2 538.2 848.0 C539.8 847.8 544.6 847.3 546.2 847.4 C547.8 847.4 552.9 848.2 554.3 848.4 C555.7 848.6 559.2 848.7 560.3 849.4 C561.4 850.1 569.7 854.8 565.3 855.4 C560.9 856.0 520.6 856.3 516.1 855.4Z" fill="#fdbb38"/>
<path d="M364.0 842.3 L366.4 843.4 L366.4 849.4 L364.0 850.4Z" fill="#fdbb38"/>
<path d="M446.7 846.2 C447.8 845.2 451.6 847.1 453.0 848.0 C454.5 848.9 456.6 850.7 455.5 851.7 C454.5 852.8 448.2 855.2 446.7 854.2 C445.3 853.3 445.7 847.3 446.7 846.2Z" fill="#8fcdf4"/>
<path d="M446.7 631.0 C448.2 629.8 454.7 630.0 455.5 631.0 C456.4 632.1 453.2 636.0 451.8 637.3 C450.3 638.5 447.6 639.6 446.7 638.5 C445.9 637.5 445.3 632.3 446.7 631.0Z" fill="#8fcdf4"/>
<line x1="397.3" y1="631.2" x2="397.3" y2="853.5" stroke="#3c3c3c" stroke-width="1.4" stroke-dasharray="1.5 5.7"/>
<line x1="430.1" y1="631.2" x2="430.1" y2="853.5" stroke="#3c3c3c" stroke-width="1.4" stroke-dasharray="1.5 5.7"/>
<line x1="462.9" y1="631.2" x2="462.9" y2="853.5" stroke="#3c3c3c" stroke-width="1.4" stroke-dasharray="1.5 5.7"/>
<line x1="495.7" y1="631.2" x2="495.7" y2="853.5" stroke="#3c3c3c" stroke-width="1.4" stroke-dasharray="1.5 5.7"/>
<line x1="528.5" y1="631.2" x2="528.5" y2="853.5" stroke="#3c3c3c" stroke-width="1.4" stroke-dasharray="1.5 5.7"/>
<line x1="561.3" y1="631.2" x2="561.3" y2="853.5" stroke="#3c3c3c" stroke-width="1.4" stroke-dasharray="1.5 5.7"/>
<line x1="368.9" y1="686.7" x2="594.1" y2="686.7" stroke="#bcbcbc" stroke-width="1.3" stroke-dasharray="1.8 4.35"/>
<line x1="368.9" y1="726.5" x2="594.1" y2="726.5" stroke="#bcbcbc" stroke-width="1.3" stroke-dasharray="1.8 4.35"/>
<line x1="368.9" y1="757.4" x2="594.1" y2="757.4" stroke="#bcbcbc" stroke-width="1.3" stroke-dasharray="1.8 4.35"/>
<line x1="368.9" y1="782.7" x2="594.1" y2="782.7" stroke="#bcbcbc" stroke-width="1.3" stroke-dasharray="1.8 4.35"/>
<line x1="368.9" y1="804.0" x2="594.1" y2="804.0" stroke="#bcbcbc" stroke-width="1.3" stroke-dasharray="1.8 4.35"/>
<line x1="368.9" y1="822.5" x2="594.1" y2="822.5" stroke="#bcbcbc" stroke-width="1.3" stroke-dasharray="1.8 4.35"/>
<line x1="368.9" y1="838.9" x2="594.1" y2="838.9" stroke="#bcbcbc" stroke-width="1.3" stroke-dasharray="1.8 4.35"/>
<line x1="446.5" y1="630.5" x2="446.5" y2="853.5" stroke="#9632be" stroke-width="1.25" stroke-dasharray="2.9 2.1"/>
<path d="M415.7 629.3 C415.8 631.2 416.1 637.2 416.4 640.7 C416.7 644.2 417.5 647.2 417.7 650.1 C418.0 653.0 418.5 655.9 418.0 658.1 C417.6 660.3 416.2 661.7 415.1 663.4 C413.9 665.2 412.3 666.8 411.1 668.8 C409.8 670.8 408.7 673.0 407.7 675.5 C406.7 677.9 405.6 680.6 405.0 683.5 C404.4 686.4 404.3 689.8 404.1 692.9 C403.9 696.0 404.0 697.3 404.1 702.2 C404.2 707.1 404.5 716.6 404.7 722.3 C405.0 728.0 405.4 733.4 405.7 736.4 C406.0 739.3 406.2 736.1 406.6 740.0 C406.9 743.9 407.3 753.4 407.8 760.1 C408.2 766.8 408.6 773.4 409.2 780.1 C409.7 786.8 410.3 794.2 411.2 800.2 C412.0 806.2 413.0 811.9 414.2 816.3 C415.3 820.6 416.7 823.3 418.2 826.3 C419.7 829.3 421.4 832.0 423.2 834.3 C425.0 836.7 427.2 838.7 429.2 840.3 C431.2 842.0 433.1 843.4 435.2 844.4 C437.4 845.3 440.1 845.8 442.3 846.0 C444.4 846.1 446.5 845.6 448.3 845.4 C450.1 845.1 451.8 844.2 453.3 844.4 C454.8 844.5 456.2 845.5 457.3 846.4 C458.5 847.2 459.3 848.7 460.3 849.4 C461.3 850.0 462.3 850.7 463.3 850.4 C464.3 850.0 465.2 848.2 466.4 847.4 C467.5 846.5 469.2 846.2 470.4 845.4 C471.5 844.5 472.2 842.7 473.4 842.3 C474.5 842.0 477.0 842.7 477.4 843.4 C477.8 844.0 475.7 846.0 476.0 846.4 C476.3 846.7 478.0 845.9 479.0 845.4 C480.0 844.9 481.0 844.0 482.0 843.4 C483.0 842.7 483.9 841.2 485.0 841.3 C486.2 841.5 487.7 843.5 489.0 844.4 C490.4 845.2 491.6 845.9 493.1 846.4 C494.6 846.9 496.2 847.0 498.1 847.4 C499.9 847.7 502.3 848.5 504.1 848.4 C505.9 848.2 507.6 847.0 509.1 846.4 C510.6 845.7 512.0 844.5 513.1 844.4 C514.3 844.2 515.2 845.7 516.1 845.4 C517.0 845.0 517.7 842.5 518.5 842.3 C519.4 842.2 520.2 843.7 521.2 844.4 C522.1 845.0 523.2 846.5 524.2 846.4 C525.2 846.2 526.2 845.0 527.2 843.4 C528.2 841.7 529.5 839.2 530.2 836.3 C530.9 833.5 531.1 829.6 531.2 826.3 C531.3 822.9 530.9 819.3 530.6 816.3 C530.3 813.2 529.9 810.9 529.2 808.2 C528.4 805.6 527.1 802.9 526.2 800.2 C525.3 797.5 524.5 795.2 523.8 792.2 C523.0 789.2 522.4 784.8 521.8 782.1 C521.2 779.5 520.8 776.6 520.2 776.1 C519.5 775.6 518.8 777.6 518.1 779.1 C517.5 780.6 517.0 785.0 516.1 785.2 C515.3 785.3 514.1 782.3 513.1 780.1 C512.1 778.0 511.1 775.1 510.1 772.1 C509.1 769.1 508.1 765.8 507.1 762.1 C506.1 758.4 504.9 753.7 504.1 750.0 C503.3 746.4 502.3 743.6 502.1 740.0 C501.9 736.4 502.8 733.0 503.1 728.3 C503.4 723.7 503.5 717.6 503.7 712.3 C503.9 706.9 503.9 701.3 504.1 696.2 C504.3 691.2 504.8 686.5 505.1 682.2 C505.4 677.8 505.7 673.2 506.1 670.2 C506.5 667.1 507.2 663.8 507.7 664.1 C508.2 664.5 508.6 669.1 509.1 672.2 C509.6 675.2 509.9 678.8 510.5 682.2 C511.1 685.5 511.8 689.7 512.5 692.2 C513.3 694.7 514.2 696.7 515.1 697.2 C516.1 697.7 517.1 696.7 518.1 695.2 C519.1 693.7 520.2 691.1 521.2 688.2 C522.2 685.4 523.2 681.9 524.2 678.2 C525.2 674.5 526.1 670.2 527.2 666.1 C528.2 662.1 529.6 658.1 530.6 654.1 C531.6 650.1 532.6 646.7 533.2 642.1 C533.8 637.4 534.0 628.7 534.2 626.0" fill="none" stroke="#414141" stroke-width="1.25" stroke-linejoin="round"/>
<path d="M411.2 740.0 C411.4 744.3 411.5 750.7 411.8 756.1 C412.0 761.4 412.2 766.8 412.6 772.1 C412.9 777.5 413.3 782.8 413.8 788.2 C414.2 793.5 414.4 799.5 415.2 804.2 C415.9 808.9 417.0 812.7 418.2 816.3 C419.4 819.8 420.7 822.8 422.2 825.3 C423.7 827.8 425.4 829.8 427.2 831.3 C429.1 832.8 431.2 833.5 433.2 834.3 C435.2 835.2 437.3 836.1 439.3 836.3 C441.3 836.6 443.4 836.3 445.3 835.9 C447.1 835.6 448.8 834.9 450.3 834.3 C451.8 833.8 453.0 833.4 454.3 832.7 C455.7 832.0 457.3 831.0 458.3 830.3 C459.3 829.6 459.7 828.1 460.3 828.3 C461.0 828.5 461.5 830.5 462.3 831.3 C463.2 832.1 464.3 833.3 465.4 833.3 C466.4 833.3 467.4 832.1 468.4 831.3 C469.4 830.5 470.4 828.6 471.4 828.3 C472.4 828.0 473.4 828.6 474.4 829.3 C475.4 830.0 477.1 832.1 477.4 832.3 C477.7 832.5 475.9 830.8 476.0 830.3 C476.1 829.8 477.0 830.0 478.0 829.3 C479.0 828.6 480.8 827.5 482.0 826.3 C483.2 825.1 484.0 823.1 485.0 822.3 C486.0 821.4 487.2 820.8 488.0 821.3 C488.9 821.8 489.4 824.1 490.0 825.3 C490.6 826.5 491.2 828.5 491.7 828.3 C492.2 828.1 492.6 825.8 493.1 824.3 C493.5 822.8 494.0 819.9 494.5 819.3 C494.9 818.6 495.2 818.8 495.7 820.3 C496.1 821.8 496.5 826.5 497.1 828.3 C497.6 830.1 498.4 831.0 499.1 831.3 C499.7 831.6 500.6 832.1 501.1 830.3 C501.6 828.5 501.9 824.3 502.1 820.3 C502.3 816.3 502.2 811.2 502.1 806.2 C502.0 801.2 501.9 795.2 501.7 790.2 C501.5 785.2 501.4 780.1 501.1 776.1 C500.8 772.1 500.6 768.4 500.1 766.1 C499.6 763.7 498.7 763.7 498.1 762.1 C497.4 760.4 496.6 758.4 496.1 756.1 C495.6 753.7 495.3 750.7 495.1 748.0 C494.8 745.4 495.0 741.9 494.5 740.0 C494.0 738.1 493.0 739.0 492.1 736.4 C491.2 733.8 490.0 728.7 489.0 724.3 C488.0 720.0 486.9 715.0 486.0 710.3 C485.1 705.6 484.4 700.6 483.6 696.2 C482.9 691.9 482.4 687.9 481.6 684.2 C480.8 680.5 479.9 676.8 479.0 674.2 C478.1 671.5 477.5 669.1 476.0 668.1 C474.5 667.1 471.8 668.4 469.9 668.1 C468.0 667.9 466.1 667.6 464.6 666.8 C463.0 666.0 461.9 664.6 460.6 663.4 C459.2 662.3 457.5 661.3 456.5 660.1 C455.5 658.9 455.2 657.5 454.5 656.1 C453.9 654.6 453.3 652.5 452.5 651.4 C451.7 650.3 450.9 649.4 449.8 649.4 C448.8 649.4 447.6 650.3 446.5 651.4 C445.4 652.5 444.4 654.6 443.2 656.1 C441.9 657.5 440.7 658.9 439.1 660.1 C437.6 661.3 435.6 662.6 433.8 663.4 C432.0 664.3 430.1 664.9 428.4 665.5 C426.8 666.0 425.3 666.0 423.8 666.8 C422.2 667.6 420.4 668.7 419.1 670.1 C417.7 671.6 416.7 673.3 415.7 675.5 C414.7 677.7 413.8 680.6 413.1 683.5 C412.3 686.4 411.6 689.8 411.1 692.9 C410.5 696.0 410.1 696.0 410.0 702.2 C409.8 708.5 410.0 724.1 410.2 730.4 C410.4 736.6 410.9 735.7 411.2 740.0Z" fill="none" stroke="#414141" stroke-width="1.25" stroke-linejoin="round"/>
<path d="M422.2 740.0 C422.5 743.7 422.3 747.7 422.6 752.0 C422.9 756.4 423.5 761.4 424.2 766.1 C424.9 770.8 425.6 775.5 426.6 780.1 C427.6 784.8 428.8 790.0 430.2 794.2 C431.7 798.4 433.4 802.1 435.2 805.2 C437.1 808.3 439.3 810.9 441.3 812.6 C443.3 814.4 445.3 815.8 447.3 815.9 C449.3 816.0 451.1 814.7 453.3 813.2 C455.5 811.8 458.3 808.9 460.3 807.2 C462.3 805.6 463.7 805.6 465.4 803.2 C467.0 800.9 468.7 795.9 470.4 793.2 C472.0 790.5 474.4 788.1 475.4 787.2 C476.3 786.3 475.6 787.8 476.0 787.8 C476.4 787.8 477.2 787.9 478.0 787.2 C478.8 786.4 480.3 785.3 481.0 783.1 C481.7 781.0 481.9 778.0 482.0 774.1 C482.1 770.3 482.1 764.4 481.6 760.1 C481.1 755.7 479.8 751.4 479.0 748.0 C478.2 744.7 478.3 743.8 477.0 740.0 C475.7 736.2 472.5 729.0 471.2 725.2 C469.9 721.4 469.9 720.2 469.2 717.2 C468.4 714.2 467.5 710.5 466.7 707.2 C465.8 703.8 464.9 700.3 464.2 697.1 C463.4 694.0 462.8 690.8 462.2 688.1 C461.5 685.4 460.9 683.1 460.2 681.1 C459.4 679.1 458.7 677.6 457.7 676.1 C456.6 674.6 455.4 673.0 454.1 672.1 C452.9 671.1 451.5 670.8 450.1 670.6 C448.8 670.3 447.8 670.3 446.1 670.6 C444.4 670.8 442.1 671.4 440.1 672.1 C438.1 672.7 435.9 673.5 434.1 674.6 C432.2 675.7 430.6 677.2 429.1 678.6 C427.6 680.0 426.2 681.5 425.0 683.1 C423.9 684.7 422.6 685.3 422.0 688.1 C421.4 691.0 421.7 695.6 421.5 700.1 C421.4 704.7 421.3 710.2 421.2 715.2 C421.1 720.2 420.9 725.9 421.0 730.0 C421.2 734.2 421.9 736.3 422.2 740.0Z" fill="none" stroke="#414141" stroke-width="1.25" stroke-linejoin="round"/>
<path d="M429.8 752.0 C430.1 757.7 430.5 760.1 431.2 764.1 C432.0 768.1 433.1 772.4 434.2 776.1 C435.4 779.8 436.8 783.4 438.3 786.2 C439.8 788.9 441.8 791.2 443.3 792.6 C444.8 794.0 445.8 794.7 447.3 794.6 C448.8 794.5 450.6 793.3 452.3 791.8 C454.0 790.2 455.9 787.8 457.3 785.2 C458.7 782.5 459.7 779.6 460.7 776.1 C461.7 772.6 462.7 768.1 463.3 764.1 C464.0 760.1 464.9 757.7 464.7 752.0 C464.6 746.4 462.8 735.9 462.2 730.0 C461.6 724.2 461.5 721.0 461.2 717.2 C460.8 713.4 460.6 710.5 460.2 707.2 C459.7 703.8 459.1 700.1 458.7 697.1 C458.2 694.1 458.2 691.4 457.7 689.1 C457.1 686.9 456.4 685.1 455.6 683.6 C454.9 682.1 454.1 680.8 453.1 680.1 C452.1 679.4 451.0 679.2 449.6 679.3 C448.3 679.4 446.7 680.0 445.1 680.6 C443.5 681.1 441.7 681.8 440.1 682.6 C438.5 683.3 436.7 684.0 435.6 685.1 C434.5 686.2 434.2 686.6 433.6 689.1 C433.0 691.6 432.6 695.8 432.1 700.1 C431.6 704.5 431.0 710.2 430.6 715.2 C430.1 720.2 429.7 723.9 429.6 730.0 C429.4 736.2 429.6 746.4 429.8 752.0Z" fill="none" stroke="#414141" stroke-width="1.25" stroke-linejoin="round"/>
<path d="M439.3 750.0 C439.2 755.0 440.4 756.9 441.3 760.1 C442.1 763.2 443.3 767.1 444.3 769.1 C445.3 771.1 446.3 772.1 447.3 772.1 C448.3 772.1 449.5 771.1 450.3 769.1 C451.1 767.1 451.8 763.2 452.3 760.1 C452.8 756.9 453.1 755.0 453.3 750.0 C453.5 745.0 453.7 734.5 453.6 730.0 C453.6 725.6 453.4 725.7 453.1 723.2 C452.9 720.8 452.5 717.7 452.1 715.2 C451.8 712.7 451.5 709.8 451.1 708.2 C450.7 706.6 450.3 705.7 449.6 705.7 C449.0 705.7 448.0 706.6 447.1 708.2 C446.3 709.8 445.4 712.7 444.6 715.2 C443.9 717.7 443.1 720.8 442.6 723.2 C442.1 725.7 442.2 725.6 441.6 730.0 C441.0 734.5 439.3 745.0 439.3 750.0Z" fill="none" stroke="#414141" stroke-width="1.25" stroke-linejoin="round"/>
<path d="M491.7 687.2 C491.7 686.5 494.6 682.6 495.1 682.6 C495.5 682.6 498.5 686.5 498.5 687.2 C498.5 687.9 495.5 693.2 495.1 693.2 C494.6 693.2 491.7 687.9 491.7 687.2Z" fill="none" stroke="#414141" stroke-width="1.25" stroke-linejoin="round"/>
<path d="M505.7 628.0 C505.8 630.3 506.1 638.4 506.5 642.1 C506.9 645.7 507.4 650.1 508.1 650.1 C508.8 650.1 509.8 645.7 510.5 642.1 C511.3 638.4 512.2 630.3 512.5 628.0" fill="none" stroke="#414141" stroke-width="1.25" stroke-linejoin="round"/>
<path d="M536.8 629.0 C537.2 630.2 538.4 636.0 539.2 636.0 C540.0 636.0 541.2 630.2 541.6 629.0" fill="none" stroke="#414141" stroke-width="1.25" stroke-linejoin="round"/>
<path d="M594.4 842.7 C593.4 842.7 590.4 842.7 588.4 842.3 C586.4 841.9 584.0 842.0 582.4 840.3 C580.7 838.7 579.4 835.7 578.3 832.3 C577.3 829.0 576.6 825.0 575.9 820.3 C575.3 815.6 574.8 809.6 574.3 804.2 C573.9 798.9 573.7 793.5 573.3 788.2 C573.0 782.8 572.7 777.5 572.3 772.1 C572.0 766.8 571.7 761.4 571.3 756.1 C571.0 750.7 570.5 743.6 570.3 740.0 C570.2 736.4 570.5 738.3 570.3 734.4 C570.2 730.4 569.5 722.3 569.3 716.3 C569.2 710.3 569.2 703.9 569.3 698.2 C569.5 692.6 569.8 686.9 570.3 682.2 C570.8 677.5 571.3 673.2 572.3 670.2 C573.3 667.1 575.0 665.8 576.3 664.1 C577.7 662.5 579.4 662.1 580.4 660.1 C581.4 658.1 581.9 655.1 582.4 652.1 C582.9 649.1 583.0 645.1 583.4 642.1 C583.7 639.0 583.7 635.5 584.4 634.0 C585.0 632.5 586.4 632.9 587.4 633.0 C588.4 633.2 589.6 633.2 590.4 635.0 C591.2 636.9 591.6 640.5 592.0 644.1 C592.4 647.6 592.4 652.1 592.8 656.1 C593.2 660.1 594.1 666.1 594.4 668.1" fill="none" stroke="#414141" stroke-width="1.25" stroke-linejoin="round"/>
<path d="M594.8 699.2 C594.4 697.4 593.3 691.2 592.4 688.2 C591.5 685.2 590.6 682.9 589.4 681.2 C588.2 679.5 586.9 678.2 585.4 678.2 C583.9 678.2 581.7 679.2 580.4 681.2 C579.0 683.2 578.0 686.0 577.3 690.2 C576.7 694.4 576.5 700.3 576.3 706.3 C576.2 712.3 576.2 720.7 576.3 726.3 C576.5 732.0 577.0 735.7 577.3 740.0 C577.7 744.3 577.8 748.4 578.3 752.0 C578.8 755.7 579.4 759.1 580.4 762.1 C581.4 765.1 583.0 767.6 584.4 770.1 C585.7 772.6 587.1 775.1 588.4 777.1 C589.7 779.1 590.9 780.7 592.0 782.1 C593.1 783.6 594.3 785.2 594.8 785.8" fill="none" stroke="#414141" stroke-width="1.25" stroke-linejoin="round"/>
<path d="M528.6 682.2 C529.2 679.3 529.9 676.9 531.2 675.2 C532.5 673.4 534.2 672.4 536.2 671.8 C538.2 671.1 541.4 670.6 543.2 671.2 C545.1 671.7 545.9 673.3 547.2 675.2 C548.6 677.0 549.9 679.3 551.3 682.2 C552.6 685.0 554.1 688.9 555.3 692.2 C556.4 695.6 557.3 698.9 558.3 702.3 C559.3 705.6 560.6 708.9 561.3 712.3 C562.0 715.6 562.4 718.6 562.7 722.3 C563.0 726.0 563.0 731.4 563.3 734.4 C563.6 737.3 564.1 737.1 564.3 740.0 C564.5 742.9 564.6 748.0 564.3 752.0 C564.0 756.1 563.5 760.4 562.7 764.1 C561.9 767.8 560.4 770.4 559.3 774.1 C558.2 777.8 557.1 781.8 556.3 786.2 C555.4 790.5 554.8 795.5 554.3 800.2 C553.8 804.9 553.6 811.1 553.3 814.3 C552.9 817.4 552.7 819.6 552.3 819.3 C551.8 818.9 551.3 814.8 550.7 812.2 C550.0 809.7 549.1 806.6 548.2 804.2 C547.3 801.9 546.6 800.0 545.2 798.2 C543.9 796.4 542.1 795.0 540.2 793.2 C538.4 791.3 536.0 789.3 534.2 787.2 C532.4 785.0 530.7 782.6 529.2 780.1 C527.7 777.6 526.3 775.1 525.2 772.1 C524.1 769.1 523.2 765.8 522.6 762.1 C521.9 758.4 521.5 753.7 521.2 750.0 C520.8 746.4 521.2 741.6 520.6 740.0 C519.9 738.4 517.5 741.2 517.1 740.4 C516.7 739.6 518.5 736.5 518.1 735.4 C517.8 734.2 515.9 734.5 515.1 733.4 C514.4 732.2 513.6 729.7 513.7 728.3 C513.9 727.0 514.9 726.3 516.1 725.3 C517.4 724.3 519.8 724.2 521.2 722.3 C522.5 720.5 523.3 717.3 524.2 714.3 C525.0 711.3 525.7 707.9 526.2 704.3 C526.7 700.6 526.8 695.9 527.2 692.2 C527.6 688.5 527.9 685.0 528.6 682.2Z" fill="none" stroke="#414141" stroke-width="1.25" stroke-dasharray="2.9 2.0" stroke-linejoin="round"/>
<path d="M536.2 734.4 C536.6 731.8 536.3 727.0 536.6 724.3 C536.9 721.7 537.5 719.5 538.2 718.3 C538.9 717.1 539.8 717.0 540.6 717.3 C541.5 717.6 542.6 718.1 543.2 720.3 C543.8 722.5 543.9 727.1 544.2 730.4 C544.6 733.6 545.1 737.1 545.2 740.0 C545.4 742.9 545.3 745.2 545.2 748.0 C545.1 750.9 545.1 755.0 544.6 757.1 C544.1 759.1 543.1 760.0 542.2 760.5 C541.3 761.0 540.2 760.8 539.2 760.1 C538.2 759.3 537.0 758.1 536.2 756.1 C535.4 754.0 534.9 750.7 534.6 748.0 C534.3 745.4 533.9 742.3 534.2 740.0 C534.5 737.7 535.8 737.0 536.2 734.4Z" fill="none" stroke="#414141" stroke-width="1.25" stroke-dasharray="2.9 2.0" stroke-linejoin="round"/>
<path d="M371.3 690.0 C371.7 686.1 372.8 682.4 373.8 679.9 C374.8 677.4 377.3 672.7 378.8 671.1 C380.3 669.6 383.4 668.0 385.1 668.1 C386.8 668.3 390.0 670.8 391.4 672.4 C392.7 674.0 394.3 677.4 395.1 679.9 C396.0 682.4 397.1 687.4 397.6 691.2 C398.1 695.1 398.4 704.1 398.9 708.8 C399.4 713.5 400.7 721.6 401.4 726.3 C402.1 731.0 403.4 739.2 403.9 743.9 C404.4 748.6 404.9 757.1 405.1 761.4 C405.4 765.8 405.8 776.7 405.6 776.5 C405.5 776.3 404.3 759.6 404.1 760.1 C403.9 760.6 404.4 774.8 404.1 780.1 C403.9 785.5 402.8 796.2 402.1 800.2 C401.5 804.2 400.1 807.6 399.1 810.2 C398.2 812.9 396.2 817.7 395.1 820.3 C394.0 822.8 392.2 827.4 391.1 829.3 C390.0 831.2 388.0 833.7 387.1 834.3 C386.1 835.0 384.9 835.1 384.1 834.3 C383.3 833.5 381.9 830.7 381.1 828.3 C380.3 825.9 378.7 820.0 378.1 816.3 C377.4 812.5 376.4 805.0 376.0 800.2 C375.6 795.4 375.3 785.5 375.0 780.1 C374.8 774.8 374.3 765.4 374.0 760.1 C373.8 754.7 373.4 743.8 373.0 740.0 C372.7 736.2 371.6 735.5 371.3 731.3 C371.0 727.2 370.5 714.3 370.5 708.8 C370.5 703.3 370.9 693.8 371.3 690.0Z" fill="none" stroke="#414141" stroke-width="1.25" stroke-dasharray="2.9 2.0" stroke-linejoin="round"/>
<path d="M466.8 633.0 C466.2 633.6 464.0 635.8 462.3 637.0 C460.7 638.2 456.5 640.7 454.3 642.1 C452.2 643.4 448.4 645.7 446.3 647.1 C444.1 648.4 440.4 650.6 438.3 652.1 C436.1 653.6 432.1 656.4 430.2 658.1 C428.4 659.8 425.7 663.0 424.2 665.1 C422.7 667.3 420.4 671.4 419.2 674.2 C418.0 677.0 416.1 682.7 415.2 686.2 C414.2 689.7 413.0 696.8 412.2 700.3 C411.4 703.7 410.1 709.4 409.2 712.3 C408.2 715.2 405.9 720.3 405.1 722.3 C404.4 724.3 403.5 725.7 403.7 727.3 C404.0 729.0 406.3 732.5 407.2 734.4 C408.0 736.2 409.5 740.6 410.2 741.4 C410.8 742.1 411.1 739.5 412.2 740.0 C413.2 740.5 416.3 743.7 418.2 745.0 C420.1 746.4 424.1 748.8 426.2 750.0 C428.4 751.2 432.1 753.1 434.2 754.0 C436.4 755.0 440.7 756.5 442.3 757.1 C443.9 757.6 445.8 756.3 446.3 758.1 C446.8 759.8 446.0 766.6 445.9 770.1 C445.8 773.6 445.5 780.9 445.3 784.2 C445.1 787.4 444.8 791.8 444.3 794.2 C443.7 796.6 442.1 799.8 441.3 802.2 C440.5 804.6 438.7 809.6 438.3 812.2 C437.8 814.9 437.5 820.1 437.9 822.3 C438.3 824.4 440.0 827.0 441.3 828.3 C442.5 829.6 445.6 831.5 447.3 832.3 C449.0 833.1 452.6 833.8 454.3 834.3 C456.1 834.9 459.1 835.5 460.3 836.3 C461.5 837.1 462.7 839.0 463.3 840.3 C464.0 841.7 464.9 844.8 465.4 846.4 C465.8 847.9 466.6 851.2 466.8 852.0" fill="none" stroke="#55ca5a" stroke-width="1.35" stroke-linejoin="round"/>
<path d="M467.4 852.4 C467.7 851.7 468.6 848.9 469.4 848.4 C470.1 847.9 471.4 848.5 472.0 849.4 C472.6 850.2 472.8 852.7 473.0 853.4" fill="none" stroke="#55ca5a" stroke-width="1.35" stroke-linejoin="round"/>
<path d="M365.6 740.0 C366.2 740.2 368.0 740.4 369.0 741.4 C370.1 742.4 371.2 745.2 372.0 746.0 C372.9 746.8 372.7 744.7 374.0 746.0 C375.4 747.4 377.9 751.7 380.1 754.0 C382.2 756.4 384.9 758.2 387.1 760.1 C389.3 761.9 391.4 762.7 393.1 765.1 C394.8 767.4 395.8 770.9 397.1 774.1 C398.5 777.3 400.1 780.8 401.1 784.2 C402.1 787.5 402.8 791.2 403.1 794.2 C403.5 797.2 403.6 800.4 403.1 802.2 C402.6 804.1 401.6 804.7 400.1 805.2 C398.6 805.7 396.1 805.6 394.1 805.2 C392.1 804.9 390.1 804.2 388.1 803.2 C386.1 802.2 384.1 800.5 382.1 799.2 C380.1 797.9 378.1 796.4 376.0 795.2 C374.0 794.0 372.0 793.1 370.0 792.2 C368.1 791.3 365.3 790.2 364.4 789.8" fill="none" stroke="#55ca5a" stroke-width="1.35" stroke-linejoin="round"/>
<path d="M364.4 819.9 C365.0 820.6 367.1 822.2 368.0 824.3 C369.0 826.4 369.4 829.6 370.0 832.3 C370.7 835.0 371.2 838.0 372.0 840.3 C372.9 842.7 373.9 844.6 375.0 846.4 C376.2 848.1 377.8 849.6 379.1 850.8 C380.3 852.0 381.9 853.1 382.5 853.6" fill="none" stroke="#55ca5a" stroke-width="1.35" stroke-linejoin="round"/>
<path d="M387.1 853.4 C387.6 853.1 388.8 851.8 390.1 851.4 C391.4 851.0 393.4 851.1 395.1 851.0 C396.8 850.8 398.9 849.9 400.1 850.4 C401.4 850.8 402.1 853.1 402.5 853.6" fill="none" stroke="#55ca5a" stroke-width="1.35" stroke-linejoin="round"/>
<path d="M375.0 631.0 C375.5 631.3 377.1 632.4 378.1 632.4 C379.1 632.4 380.6 631.3 381.1 631.0" fill="none" stroke="#55ca5a" stroke-width="1.35" stroke-linejoin="round"/>
<path d="M571.3 649.1 C571.3 648.0 571.5 646.7 571.9 646.1 C572.4 645.4 573.4 644.7 573.9 645.1 C574.5 645.4 575.3 646.9 575.3 648.1 C575.4 649.2 574.8 651.4 574.3 652.1 C573.8 652.8 572.8 653.0 572.3 652.5 C571.8 652.0 571.4 650.1 571.3 649.1Z" fill="none" stroke="#55ca5a" stroke-width="1.35" stroke-linejoin="round"/>
<path d="M571.3 649.7 C570.5 650.1 568.0 651.0 566.3 652.1 C564.6 653.2 563.0 654.3 561.3 656.1 C559.6 657.9 557.8 660.6 556.3 663.1 C554.8 665.6 553.6 668.5 552.3 671.2 C550.9 673.8 549.3 676.7 548.2 679.2 C547.2 681.7 546.0 683.7 545.8 686.2 C545.7 688.7 546.5 691.2 547.2 694.2 C548.0 697.2 549.2 700.9 550.3 704.3 C551.3 707.6 552.3 711.3 553.3 714.3 C554.3 717.3 554.9 720.3 556.3 722.3 C557.6 724.3 559.3 725.3 561.3 726.3 C563.3 727.4 565.8 727.9 568.3 728.7 C570.8 729.6 573.7 730.3 576.3 731.4 C579.0 732.5 581.9 733.9 584.4 735.4 C586.9 736.9 589.6 739.1 591.4 740.4 C593.2 741.7 594.7 742.9 595.4 743.4" fill="none" stroke="#55ca5a" stroke-width="1.35" stroke-linejoin="round"/>
<path d="M575.3 650.1 C576.2 650.1 578.5 649.9 580.4 650.1 C582.2 650.2 584.5 650.2 586.4 651.1 C588.2 651.9 589.9 653.4 591.4 655.1 C592.9 656.8 594.7 660.1 595.4 661.1" fill="none" stroke="#55ca5a" stroke-width="1.35" stroke-linejoin="round"/>
<path d="M489.6 843.4 C489.5 842.5 490.5 841.3 491.1 841.3 C491.6 841.3 493.0 842.5 493.1 843.4 C493.2 844.2 492.2 846.4 491.7 846.4 C491.1 846.4 489.7 844.2 489.6 843.4Z" fill="none" stroke="#55ca5a" stroke-width="1.35" stroke-linejoin="round"/>
</g>
<rect x="364.50" y="630.50" width="229.60" height="222.95" fill="none" stroke="#1a1a1a" stroke-width="1.9"/>
<line x1="358.7" y1="630.5" x2="364.5" y2="630.5" stroke="#1a1a1a" stroke-width="1.6"/>
<text x="325.7" y="638.2" font-size="21.5" textLength="29.6" lengthAdjust="spacingAndGlyphs" fill="#111" stroke="#111" stroke-width="0.35">200</text>
<line x1="358.7" y1="726.5" x2="364.5" y2="726.5" stroke="#1a1a1a" stroke-width="1.6"/>
<text x="325.7" y="734.2" font-size="21.5" textLength="29.6" lengthAdjust="spacingAndGlyphs" fill="#111" stroke="#111" stroke-width="0.35">400</text>
<line x1="358.7" y1="782.7" x2="364.5" y2="782.7" stroke="#1a1a1a" stroke-width="1.6"/>
<text x="325.7" y="790.4" font-size="21.5" textLength="29.6" lengthAdjust="spacingAndGlyphs" fill="#111" stroke="#111" stroke-width="0.35">600</text>
<line x1="358.7" y1="822.5" x2="364.5" y2="822.5" stroke="#1a1a1a" stroke-width="1.6"/>
<text x="325.7" y="830.2" font-size="21.5" textLength="29.6" lengthAdjust="spacingAndGlyphs" fill="#111" stroke="#111" stroke-width="0.35">800</text>
<line x1="358.7" y1="853.5" x2="364.5" y2="853.5" stroke="#1a1a1a" stroke-width="1.6"/>
<text x="316.7" y="861.2" font-size="21.5" textLength="38.6" lengthAdjust="spacingAndGlyphs" fill="#111" stroke="#111" stroke-width="0.35">1000</text>
<line x1="364.5" y1="853.5" x2="364.5" y2="859.2" stroke="#1a1a1a" stroke-width="1.6"/>
<text x="350.2" y="877.8" font-size="20.4" textLength="28.6" lengthAdjust="spacingAndGlyphs" fill="#111" stroke="#111" stroke-width="0.35">40E</text>
<line x1="430.1" y1="853.5" x2="430.1" y2="859.2" stroke="#1a1a1a" stroke-width="1.6"/>
<text x="415.8" y="877.8" font-size="20.4" textLength="28.6" lengthAdjust="spacingAndGlyphs" fill="#111" stroke="#111" stroke-width="0.35">80E</text>
<line x1="495.7" y1="853.5" x2="495.7" y2="859.2" stroke="#1a1a1a" stroke-width="1.6"/>
<text x="476.8" y="877.8" font-size="20.4" textLength="37.8" lengthAdjust="spacingAndGlyphs" fill="#111" stroke="#111" stroke-width="0.35">120E</text>
<line x1="561.3" y1="853.5" x2="561.3" y2="859.2" stroke="#1a1a1a" stroke-width="1.6"/>
<text x="542.4" y="877.8" font-size="20.4" textLength="37.8" lengthAdjust="spacingAndGlyphs" fill="#111" stroke="#111" stroke-width="0.35">160E</text>
<text x="371.8" y="620.8" font-size="14.5" font-weight="bold" textLength="19.5" lengthAdjust="spacingAndGlyphs" fill="#111">(e)</text>
<text x="404.3" y="622.7" font-size="19.5" textLength="14.4" lengthAdjust="spacingAndGlyphs" fill="#111" stroke="#111" stroke-width="0.35">M</text>
<line x1="419.4" y1="616.6" x2="432.6" y2="616.6" stroke="#111" stroke-width="1.5"/>
<text x="433.5" y="622.7" font-size="19.5" textLength="38.0" lengthAdjust="spacingAndGlyphs" fill="#111" stroke="#111" stroke-width="0.35">TDK</text>
<path d="M146.0 906.5 L206.5 900.0 L206.5 913.0 Z" fill="#8fcdf4" stroke="#1a1a1a" stroke-width="1.2" stroke-linejoin="miter"/>
<rect x="206.5" y="900.0" width="60.7" height="13.0" fill="#ffffff" stroke="#1a1a1a" stroke-width="1.2" stroke-linejoin="miter"/>
<rect x="267.2" y="900.0" width="60.0" height="13.0" fill="#fdbb38" stroke="#1a1a1a" stroke-width="1.2" stroke-linejoin="miter"/>
<rect x="327.2" y="900.0" width="60.2" height="13.0" fill="#fc6a0c" stroke="#1a1a1a" stroke-width="1.2" stroke-linejoin="miter"/>
<rect x="387.4" y="900.0" width="60.2" height="13.0" fill="#e01708" stroke="#1a1a1a" stroke-width="1.2" stroke-linejoin="miter"/>
<path d="M508.5 906.5 L447.6 900.0 L447.6 913.0 Z" fill="#a30a05" stroke="#1a1a1a" stroke-width="1.2" stroke-linejoin="miter"/>
<text x="189.5" y="930.8" font-size="16.0" textLength="33.0" lengthAdjust="spacingAndGlyphs" fill="#111" stroke="#111" stroke-width="0.35">−0.1</text>
<text x="255.3" y="930.8" font-size="16.0" textLength="21.6" lengthAdjust="spacingAndGlyphs" fill="#111" stroke="#111" stroke-width="0.35">0.1</text>
<text x="315.3" y="930.8" font-size="16.0" textLength="21.6" lengthAdjust="spacingAndGlyphs" fill="#111" stroke="#111" stroke-width="0.35">0.2</text>
<text x="375.5" y="930.8" font-size="16.0" textLength="21.6" lengthAdjust="spacingAndGlyphs" fill="#111" stroke="#111" stroke-width="0.35">0.3</text>
<text x="435.7" y="930.8" font-size="16.0" textLength="21.6" lengthAdjust="spacingAndGlyphs" fill="#111" stroke="#111" stroke-width="0.35">0.4</text>
</g>
</svg>
</body></html>
